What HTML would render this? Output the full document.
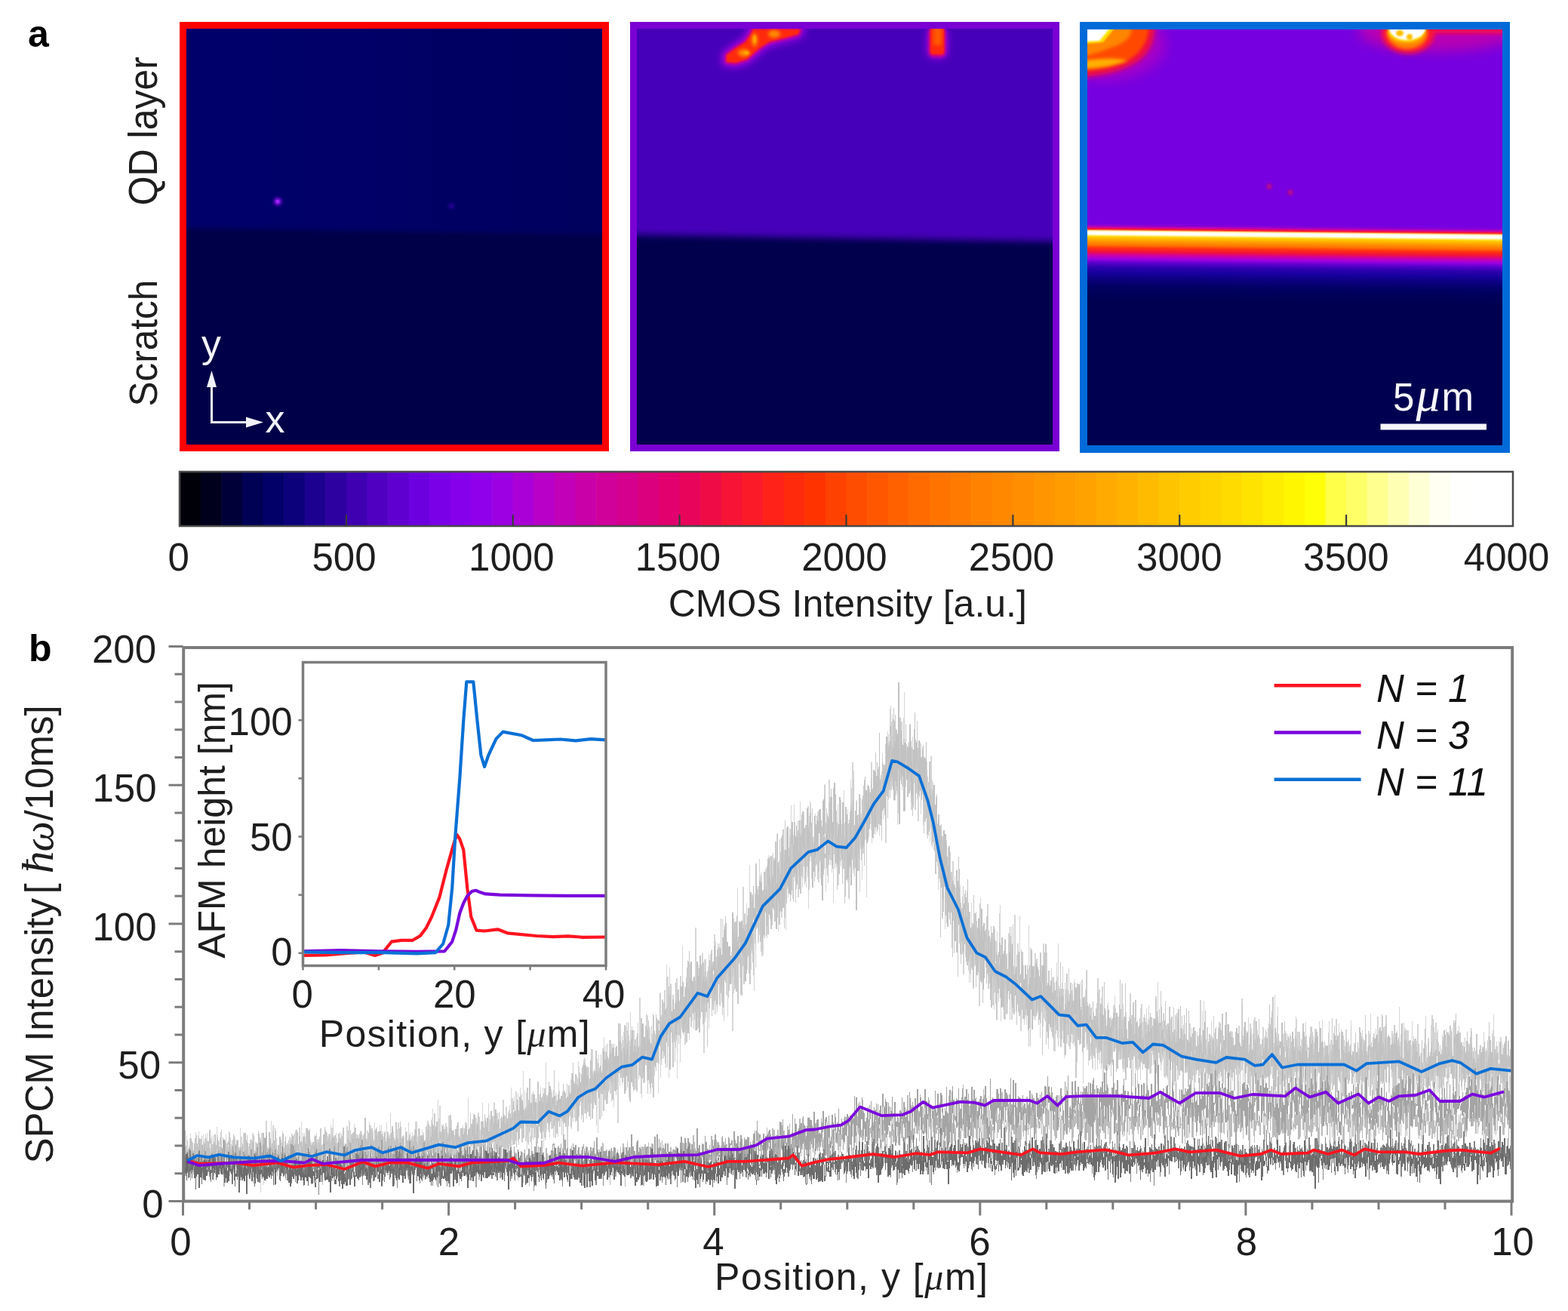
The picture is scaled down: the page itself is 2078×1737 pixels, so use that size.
<!DOCTYPE html>
<html><head><meta charset="utf-8"><title>Figure</title>
<style>html,body{margin:0;padding:0;background:#fff;overflow:hidden;} svg{display:block;}</style>
</head><body>
<svg width="2078" height="1737" viewBox="0 0 2078 1737" font-family="Liberation Sans, Arial, Helvetica, sans-serif">
<rect width="2078" height="1737" fill="#fff"/>
<defs><filter id="b1" x="-50%" y="-50%" width="200%" height="200%"><feGaussianBlur stdDeviation="1.2"/></filter><filter id="b2" x="-50%" y="-50%" width="200%" height="200%"><feGaussianBlur stdDeviation="2"/></filter><filter id="b3" x="-50%" y="-50%" width="200%" height="200%"><feGaussianBlur stdDeviation="3"/></filter><filter id="b5" x="-50%" y="-50%" width="200%" height="200%"><feGaussianBlur stdDeviation="5"/></filter><filter id="b8" x="-50%" y="-50%" width="200%" height="200%"><feGaussianBlur stdDeviation="8"/></filter><filter id="nb" x="0" y="0" width="1" height="1"><feGaussianBlur stdDeviation="0.5"/></filter></defs>
<text x="37" y="62" font-size="50" font-weight="bold" fill="#000">a</text>
<text transform="translate(207.5,272.3) rotate(-90) scale(1,1.07)" font-size="50" fill="#1e1e1e">QD layer</text>
<text transform="translate(207.5,538.5) rotate(-90) scale(1,1.06)" font-size="49.5" fill="#1e1e1e">Scratch</text>
<clipPath id="c247"><rect x="247" y="38" width="551" height="551"/></clipPath>
<g clip-path="url(#c247)">
<rect x="247" y="38" width="551" height="551" fill="#000048"/>
<linearGradient id="rtop" x1="0" y1="0" x2="1" y2="0"><stop offset="0" stop-color="#00006c"/><stop offset="0.5" stop-color="#000066"/><stop offset="1" stop-color="#00005e"/></linearGradient>
<polygon points="237,28 808,28 808,311 237,302" fill="url(#rtop)" filter="url(#b3)"/>
<circle cx="368" cy="267" r="5" fill="#8a10e8" filter="url(#b2)"/>
<circle cx="368" cy="267" r="2.5" fill="#a020ff"/>
<circle cx="598" cy="273" r="3" fill="#3a00b0" filter="url(#b2)"/>
</g>
<rect x="242.5" y="33.5" width="560" height="560" fill="none" stroke="#ff0000" stroke-width="9"/>
<clipPath id="c844"><rect x="844" y="38" width="551" height="551"/></clipPath>
<g clip-path="url(#c844)">
<rect x="844" y="38" width="551" height="551" fill="#00004c"/>
<polygon points="834,28 1405,28 1405,320 834,311" fill="#4600b9" filter="url(#b5)"/>
<polygon points="998,39 1060,39 1058,45 1040,50 1020,55 1010,61 1000,69 990,78 975,83 963,82 963,73 975,64 988,56 995,46" fill="#9800e0" stroke="#9800e0" stroke-width="14" stroke-linejoin="round" filter="url(#b5)"/>
<polygon points="998,39 1060,39 1058,45 1040,50 1020,55 1010,61 1000,69 990,78 975,83 963,82 963,73 975,64 988,56 995,46" fill="#e8006a" stroke="#e8006a" stroke-width="4" stroke-linejoin="round" filter="url(#b2)"/>
<polygon points="998,39 1060,39 1058,45 1040,50 1020,55 1010,61 1000,69 990,78 975,83 963,82 963,73 975,64 988,56 995,46" fill="#ff2a10" filter="url(#b1)"/>
<g filter="url(#b2)" fill="#ff8a00">
<ellipse cx="1000" cy="53" rx="4" ry="9"/><ellipse cx="986" cy="70" rx="8" ry="5"/><ellipse cx="1026" cy="45" rx="8" ry="5"/>
</g>
<g filter="url(#b1)" fill="#ffa800"><ellipse cx="1000" cy="52" rx="2" ry="5"/><ellipse cx="989" cy="70" rx="3.5" ry="2.5"/></g>
<rect x="1228" y="36" width="28" height="42" rx="10" fill="#9800e0" filter="url(#b5)"/>
<rect x="1231" y="36" width="22" height="39" rx="6" fill="#e8006a" filter="url(#b2)"/>
<rect x="1233" y="36" width="18" height="36" rx="4" fill="#ff2a10" filter="url(#b1)"/>
<rect x="1237" y="36" width="11" height="24" rx="3" fill="#ff5a00" filter="url(#b2)"/>
</g>
<rect x="839.5" y="33.5" width="560" height="560" fill="none" stroke="#7a00d4" stroke-width="9"/>
<clipPath id="c1441"><rect x="1441" y="39" width="550" height="551"/></clipPath>
<g clip-path="url(#c1441)">
<linearGradient id="band" gradientUnits="userSpaceOnUse" x1="0" y1="295.5" x2="0" y2="398.5"><stop offset="0.0000" stop-color="#7600e0"/><stop offset="0.0291" stop-color="#9000d0"/><stop offset="0.0534" stop-color="#d000a0"/><stop offset="0.0777" stop-color="#ff2020"/><stop offset="0.0971" stop-color="#ffe890"/><stop offset="0.1117" stop-color="#ffffff"/><stop offset="0.1408" stop-color="#ffffff"/><stop offset="0.1553" stop-color="#fff080"/><stop offset="0.1748" stop-color="#ffd000"/><stop offset="0.2233" stop-color="#ffa000"/><stop offset="0.2816" stop-color="#ff7000"/><stop offset="0.3204" stop-color="#ff3010"/><stop offset="0.3689" stop-color="#f01040"/><stop offset="0.4078" stop-color="#d000a0"/><stop offset="0.4563" stop-color="#a000e0"/><stop offset="0.5049" stop-color="#6000d0"/><stop offset="0.5631" stop-color="#3000b0"/><stop offset="0.6311" stop-color="#1800a0"/><stop offset="0.7087" stop-color="#0c0080"/><stop offset="0.8252" stop-color="#000060"/><stop offset="1.0000" stop-color="#000050"/></linearGradient>
<rect x="1441" y="39" width="550" height="551" fill="#000050"/>
<g transform="translate(1441,0) skewY(0.6) translate(-1441,0)">
<rect x="1431" y="19" width="570" height="277.5" fill="#7600e0"/>
<rect x="1431" y="295.5" width="570" height="103.0" fill="url(#band)"/>
</g>
<ellipse cx="1465" cy="58" rx="80" ry="48" fill="#b800c0" filter="url(#b8)" opacity="0.7"/>
<path d="M1436,34 L1530,34 C1532,55 1522,75 1500,86 C1480,96 1460,100 1436,102 Z" fill="#f01040" filter="url(#b3)"/>
<path d="M1436,36 L1522,36 C1522,52 1515,66 1498,78 C1480,88 1460,92 1436,94 Z" fill="#ff4a00" filter="url(#b2)"/>
<path d="M1436,36 L1500,36 C1500,50 1490,58 1470,64 C1460,68 1450,72 1436,74 Z" fill="#ff8400" filter="url(#b2)"/>
<path d="M1436,80 C1455,78 1475,76 1495,80 C1480,86 1460,90 1436,91 Z" fill="#ffb000" filter="url(#b2)"/>
<path d="M1436,36 L1478,36 L1462,56 L1436,58 Z" fill="#ffe000" filter="url(#b1)"/>
<path d="M1436,36 L1472,36 L1457,54 L1436,55 Z" fill="#ffffff" filter="url(#b1)"/>
<ellipse cx="1905" cy="42" rx="105" ry="26" fill="#c800a8" filter="url(#b8)" opacity="0.8"/>
<rect x="1890" y="36" width="105" height="8" fill="#ff1040" filter="url(#b3)"/>
<ellipse cx="1866" cy="44" rx="35" ry="27" fill="#ff1830" filter="url(#b3)"/>
<ellipse cx="1865" cy="44" rx="27" ry="21" fill="#ff8000" filter="url(#b2)"/>
<ellipse cx="1864" cy="42" rx="24" ry="14" fill="#ffe000" filter="url(#b2)"/>
<path d="M1840,36 L1890,36 C1888,46 1880,52 1866,53 C1850,53 1842,46 1840,36 Z" fill="#ffffff" filter="url(#b1)"/>
<ellipse cx="1855" cy="44" rx="5" ry="4" fill="#ffc000" filter="url(#b1)"/><ellipse cx="1868" cy="49" rx="4" ry="4" fill="#ffc000" filter="url(#b1)"/>
<circle cx="1682" cy="247" r="3" fill="#e0105a" filter="url(#b2)"/>
<circle cx="1710" cy="255" r="3" fill="#e0105a" filter="url(#b2)"/>
<rect x="1829.5" y="561.5" width="140.5" height="8" fill="#f6f6fc"/>
<text x="1846.0" y="543.5" font-size="51" fill="#f6f6fc" >5<tspan font-family="Liberation Serif, Times New Roman, serif" font-style="italic" font-size="64" dx="2">μ</tspan><tspan dx="2">m</tspan></text>
</g>
<rect x="1436.0" y="34.0" width="560" height="561" fill="none" stroke="#006ad8" stroke-width="10"/>
<g stroke="#f2f2fa" stroke-width="3" fill="none"><polyline points="280.5,510 280.5,559.5 328,559.5"/></g>
<polygon points="280.5,491 274,513 287,513" fill="#f2f2fa"/>
<polygon points="349,559.5 326,552.5 326,566.5" fill="#f2f2fa"/>
<text x="267.0" y="473.0" font-size="52" fill="#f2f2fa" >y</text>
<text x="351.5" y="573.0" font-size="52" fill="#f2f2fa" >x</text>
<rect x="238.00" y="625" width="28.21" height="72" fill="#000008"/>
<rect x="265.61" y="625" width="28.21" height="72" fill="#00001c"/>
<rect x="293.22" y="625" width="28.21" height="72" fill="#000038"/>
<rect x="320.83" y="625" width="28.21" height="72" fill="#000054"/>
<rect x="348.44" y="625" width="28.21" height="72" fill="#020068"/>
<rect x="376.05" y="625" width="28.21" height="72" fill="#0c007b"/>
<rect x="403.66" y="625" width="28.21" height="72" fill="#1c008f"/>
<rect x="431.27" y="625" width="28.21" height="72" fill="#2d00a0"/>
<rect x="458.88" y="625" width="28.21" height="72" fill="#3e00b0"/>
<rect x="486.48" y="625" width="28.21" height="72" fill="#4f00c0"/>
<rect x="514.09" y="625" width="28.21" height="72" fill="#5f00d0"/>
<rect x="541.70" y="625" width="28.21" height="72" fill="#6c00df"/>
<rect x="569.31" y="625" width="28.21" height="72" fill="#7a00e8"/>
<rect x="596.92" y="625" width="28.21" height="72" fill="#8600eb"/>
<rect x="624.53" y="625" width="28.21" height="72" fill="#9100ea"/>
<rect x="652.14" y="625" width="28.21" height="72" fill="#9c00e3"/>
<rect x="679.75" y="625" width="28.21" height="72" fill="#aa00d7"/>
<rect x="707.36" y="625" width="28.21" height="72" fill="#b800c8"/>
<rect x="734.97" y="625" width="28.21" height="72" fill="#c200b8"/>
<rect x="762.58" y="625" width="28.21" height="72" fill="#c900a8"/>
<rect x="790.19" y="625" width="28.21" height="72" fill="#d0009a"/>
<rect x="817.80" y="625" width="28.21" height="72" fill="#d5008d"/>
<rect x="845.41" y="625" width="28.21" height="72" fill="#db007e"/>
<rect x="873.02" y="625" width="28.21" height="72" fill="#e2006e"/>
<rect x="900.62" y="625" width="28.21" height="72" fill="#e8045a"/>
<rect x="928.23" y="625" width="28.21" height="72" fill="#ef0b46"/>
<rect x="955.84" y="625" width="28.21" height="72" fill="#f61336"/>
<rect x="983.45" y="625" width="28.21" height="72" fill="#fb1a28"/>
<rect x="1011.06" y="625" width="28.21" height="72" fill="#fe2218"/>
<rect x="1038.67" y="625" width="28.21" height="72" fill="#ff2a0b"/>
<rect x="1066.28" y="625" width="28.21" height="72" fill="#ff3300"/>
<rect x="1093.89" y="625" width="28.21" height="72" fill="#ff4100"/>
<rect x="1121.50" y="625" width="28.21" height="72" fill="#ff4d00"/>
<rect x="1149.11" y="625" width="28.21" height="72" fill="#ff5700"/>
<rect x="1176.72" y="625" width="28.21" height="72" fill="#ff6100"/>
<rect x="1204.33" y="625" width="28.21" height="72" fill="#ff6b00"/>
<rect x="1231.94" y="625" width="28.21" height="72" fill="#ff7400"/>
<rect x="1259.55" y="625" width="28.21" height="72" fill="#ff7a00"/>
<rect x="1287.16" y="625" width="28.21" height="72" fill="#ff8200"/>
<rect x="1314.77" y="625" width="28.21" height="72" fill="#ff8800"/>
<rect x="1342.38" y="625" width="28.21" height="72" fill="#ff8f00"/>
<rect x="1369.98" y="625" width="28.21" height="72" fill="#ff9500"/>
<rect x="1397.59" y="625" width="28.21" height="72" fill="#ff9c00"/>
<rect x="1425.20" y="625" width="28.21" height="72" fill="#ffa200"/>
<rect x="1452.81" y="625" width="28.21" height="72" fill="#ffaa00"/>
<rect x="1480.42" y="625" width="28.21" height="72" fill="#ffb300"/>
<rect x="1508.03" y="625" width="28.21" height="72" fill="#ffbb00"/>
<rect x="1535.64" y="625" width="28.21" height="72" fill="#ffc400"/>
<rect x="1563.25" y="625" width="28.21" height="72" fill="#ffcc00"/>
<rect x="1590.86" y="625" width="28.21" height="72" fill="#ffd300"/>
<rect x="1618.47" y="625" width="28.21" height="72" fill="#ffdb00"/>
<rect x="1646.08" y="625" width="28.21" height="72" fill="#ffe300"/>
<rect x="1673.69" y="625" width="28.21" height="72" fill="#ffed00"/>
<rect x="1701.30" y="625" width="28.21" height="72" fill="#fff600"/>
<rect x="1728.91" y="625" width="28.21" height="72" fill="#ffff08"/>
<rect x="1756.52" y="625" width="28.21" height="72" fill="#ffff49"/>
<rect x="1784.12" y="625" width="28.21" height="72" fill="#ffff68"/>
<rect x="1811.73" y="625" width="28.21" height="72" fill="#ffff90"/>
<rect x="1839.34" y="625" width="28.21" height="72" fill="#ffffb3"/>
<rect x="1866.95" y="625" width="28.21" height="72" fill="#ffffd5"/>
<rect x="1894.56" y="625" width="28.21" height="72" fill="#fffff2"/>
<rect x="1922.17" y="625" width="28.21" height="72" fill="#fffffe"/>
<rect x="1949.78" y="625" width="28.21" height="72" fill="#ffffff"/>
<rect x="1977.39" y="625" width="28.21" height="72" fill="#ffffff"/>
<rect x="238" y="625" width="1767" height="72" fill="none" stroke="#4a4a4a" stroke-width="2.5"/>
<line x1="458.9" y1="697" x2="458.9" y2="682" stroke="#3a3a3a" stroke-width="2.2"/>
<line x1="679.8" y1="697" x2="679.8" y2="682" stroke="#3a3a3a" stroke-width="2.2"/>
<line x1="900.6" y1="697" x2="900.6" y2="682" stroke="#3a3a3a" stroke-width="2.2"/>
<line x1="1121.5" y1="697" x2="1121.5" y2="682" stroke="#3a3a3a" stroke-width="2.2"/>
<line x1="1342.4" y1="697" x2="1342.4" y2="682" stroke="#3a3a3a" stroke-width="2.2"/>
<line x1="1563.2" y1="697" x2="1563.2" y2="682" stroke="#3a3a3a" stroke-width="2.2"/>
<line x1="1784.1" y1="697" x2="1784.1" y2="682" stroke="#3a3a3a" stroke-width="2.2"/>
<text x="236.8" y="756.0" font-size="51" fill="#1e1e1e" text-anchor="middle" >0</text>
<text x="456.0" y="756.0" font-size="51" fill="#1e1e1e" text-anchor="middle" >500</text>
<text x="677.8" y="756.0" font-size="51" fill="#1e1e1e" text-anchor="middle" >1000</text>
<text x="898.4" y="756.0" font-size="51" fill="#1e1e1e" text-anchor="middle" >1500</text>
<text x="1118.9" y="756.0" font-size="51" fill="#1e1e1e" text-anchor="middle" >2000</text>
<text x="1340.5" y="756.0" font-size="51" fill="#1e1e1e" text-anchor="middle" >2500</text>
<text x="1562.8" y="756.0" font-size="51" fill="#1e1e1e" text-anchor="middle" >3000</text>
<text x="1783.8" y="756.0" font-size="51" fill="#1e1e1e" text-anchor="middle" >3500</text>
<text x="1996.6" y="756.0" font-size="51" fill="#1e1e1e" text-anchor="middle" >4000</text>
<text x="1123.3" y="817.0" font-size="50" fill="#1e1e1e" text-anchor="middle" >CMOS Intensity [a.u.]</text>
<text x="38" y="876" font-size="50" font-weight="bold" fill="#000">b</text>
<g filter="url(#nb)">
<path d="M244.5 1531V1550M245.5 1524V1548M246.5 1524V1542M247.5 1505V1553M248.5 1526V1541M249.5 1526V1543M250.5 1518V1540M251.5 1508V1536M252.5 1502V1523M253.5 1508V1530M254.5 1518V1542M255.5 1518V1538M256.5 1524V1543M257.5 1515V1532M258.5 1508V1543M259.5 1500V1528M260.5 1515V1546M261.5 1531V1546M262.5 1505V1539M263.5 1499V1534M264.5 1519V1537M265.5 1513V1531M266.5 1513V1535M267.5 1518V1542M268.5 1524V1545M269.5 1503V1553M270.5 1512V1539M271.5 1508V1545M272.5 1503V1546M273.5 1508V1549M274.5 1501V1557M275.5 1519V1550M276.5 1516V1533M277.5 1516V1533M278.5 1524V1533M279.5 1508V1544M280.5 1505V1546M281.5 1527V1557M282.5 1504V1545M283.5 1513V1564M284.5 1513V1534M285.5 1520V1541M286.5 1519V1541M287.5 1493V1529M288.5 1503V1536M289.5 1532V1544M290.5 1513V1539M291.5 1507V1517M292.5 1507V1528M293.5 1496V1528M294.5 1523V1541M295.5 1514V1555M296.5 1536V1557M297.5 1513V1557M298.5 1528V1534M299.5 1503V1528M300.5 1515V1528M301.5 1519V1538M302.5 1519V1531M303.5 1519V1532M304.5 1507V1535M305.5 1507V1540M306.5 1516V1531M307.5 1511V1531M308.5 1510V1546M309.5 1505V1554M310.5 1505V1554M311.5 1506V1542M312.5 1531V1542M313.5 1526V1541M314.5 1514V1539M315.5 1512V1539M316.5 1520V1552M317.5 1520V1538M318.5 1494V1531M319.5 1506V1531M320.5 1506V1540M321.5 1528V1552M322.5 1500V1544M323.5 1522V1535M324.5 1507V1536M325.5 1507V1525M326.5 1522V1553M327.5 1522V1542M328.5 1523V1543M329.5 1519V1558M330.5 1519V1547M331.5 1510V1551M332.5 1510V1536M333.5 1511V1546M334.5 1501V1537M335.5 1501V1538M336.5 1529V1538M337.5 1525V1545M338.5 1513V1536M339.5 1513V1550M340.5 1521V1533M341.5 1518V1532M342.5 1505V1547M343.5 1504V1524M344.5 1511V1533M345.5 1509V1580M346.5 1501V1532M347.5 1501V1534M348.5 1516V1551M349.5 1513V1570M350.5 1513V1539M351.5 1515V1539M352.5 1485V1565M353.5 1485V1535M354.5 1523V1555M355.5 1525V1540M356.5 1525V1545M357.5 1520V1544M358.5 1514V1528M359.5 1485V1541M360.5 1524V1542M361.5 1491V1542M362.5 1491V1551M363.5 1511V1555M364.5 1497V1537M365.5 1527V1543M366.5 1508V1536M367.5 1523V1537M368.5 1528V1541M369.5 1523V1541M370.5 1523V1556M371.5 1521V1545M372.5 1521V1541M373.5 1514V1541M374.5 1498V1554M375.5 1523V1537M376.5 1524V1553M377.5 1519V1536M378.5 1518V1537M379.5 1518V1540M380.5 1521V1550M381.5 1537V1550M382.5 1522V1537M383.5 1506V1541M384.5 1506V1529M385.5 1508V1529M386.5 1501V1537M387.5 1503V1558M388.5 1515V1553M389.5 1503V1544M390.5 1501V1532M391.5 1498V1538M392.5 1498V1539M393.5 1512V1543M394.5 1512V1530M395.5 1518V1549M396.5 1494V1532M397.5 1494V1559M398.5 1520V1559M399.5 1486V1548M400.5 1513V1548M401.5 1501V1544M402.5 1523V1544M403.5 1501V1540M404.5 1506V1540M405.5 1494V1523M406.5 1507V1541M407.5 1514V1541M408.5 1516V1543M409.5 1507V1543M410.5 1521V1543M411.5 1510V1529M412.5 1513V1531M413.5 1515V1537M414.5 1521V1541M415.5 1524V1537M416.5 1506V1546M417.5 1504V1534M418.5 1534V1543M419.5 1501V1537M420.5 1510V1541M421.5 1509V1531M422.5 1509V1531M423.5 1528V1539M424.5 1502V1539M425.5 1502V1538M426.5 1523V1539M427.5 1516V1538M428.5 1516V1542M429.5 1512V1530M430.5 1523V1530M431.5 1496V1529M432.5 1499V1523M433.5 1501V1518M434.5 1505V1547M435.5 1503V1540M436.5 1503V1533M437.5 1503V1541M438.5 1490V1545M439.5 1494V1545M440.5 1494V1529M441.5 1482V1529M442.5 1513V1557M443.5 1517V1535M444.5 1504V1547M445.5 1501V1547M446.5 1508V1552M447.5 1520V1549M448.5 1527V1546M449.5 1502V1546M450.5 1500V1540M451.5 1507V1526M452.5 1505V1548M453.5 1508V1542M454.5 1503V1542M455.5 1517V1532M456.5 1517V1531M457.5 1514V1531M458.5 1516V1558M459.5 1492V1545M460.5 1492V1521M461.5 1521V1559M462.5 1484V1541M463.5 1486V1537M464.5 1497V1538M465.5 1503V1543M466.5 1503V1533M467.5 1501V1533M468.5 1505V1523M469.5 1489V1523M470.5 1498V1545M471.5 1500V1545M472.5 1503V1544M473.5 1503V1518M474.5 1512V1542M475.5 1516V1530M476.5 1511V1531M477.5 1514V1555M478.5 1499V1549M479.5 1499V1527M480.5 1504V1521M481.5 1504V1535M482.5 1504V1548M483.5 1507V1548M484.5 1493V1537M485.5 1517V1531M486.5 1498V1538M487.5 1498V1538M488.5 1506V1545M489.5 1486V1531M490.5 1491V1512M491.5 1491V1528M492.5 1502V1526M493.5 1499V1526M494.5 1499V1531M495.5 1510V1519M496.5 1487V1542M497.5 1504V1542M498.5 1508V1538M499.5 1493V1537M500.5 1500V1540M501.5 1500V1527M502.5 1503V1530M503.5 1491V1503M504.5 1498V1525M505.5 1490V1559M506.5 1502V1540M507.5 1499V1539M508.5 1506V1538M509.5 1499V1539M510.5 1499V1554M511.5 1518V1554M512.5 1487V1530M513.5 1499V1524M514.5 1508V1530M515.5 1504V1530M516.5 1504V1537M517.5 1475V1552M518.5 1515V1552M519.5 1510V1532M520.5 1507V1521M521.5 1499V1532M522.5 1525V1532M523.5 1521V1558M524.5 1517V1547M525.5 1520V1543M526.5 1496V1521M527.5 1488V1533M528.5 1487V1513M529.5 1499V1532M530.5 1491V1532M531.5 1518V1538M532.5 1514V1533M533.5 1505V1533M534.5 1512V1550M535.5 1506V1550M536.5 1521V1527M537.5 1494V1533M538.5 1499V1522M539.5 1499V1541M540.5 1524V1541M541.5 1487V1541M542.5 1513V1553M543.5 1500V1559M544.5 1527V1558M545.5 1514V1558M546.5 1500V1529M547.5 1505V1527M548.5 1505V1541M549.5 1496V1534M550.5 1486V1521M551.5 1486V1530M552.5 1486V1530M553.5 1506V1516M554.5 1507V1534M555.5 1504V1531M556.5 1496V1532M557.5 1510V1540M558.5 1529V1537M559.5 1497V1533M560.5 1505V1533M561.5 1523V1540M562.5 1514V1531M563.5 1514V1538M564.5 1504V1536M565.5 1491V1525M566.5 1485V1515M567.5 1485V1550M568.5 1513V1533M569.5 1492V1523M570.5 1492V1522M571.5 1484V1526M572.5 1481V1526M573.5 1469V1508M574.5 1503V1519M575.5 1493V1515M576.5 1511V1549M577.5 1496V1549M578.5 1496V1521M579.5 1509V1521M580.5 1457V1549M581.5 1482V1549M582.5 1465V1533M583.5 1465V1525M584.5 1509V1551M585.5 1489V1551M586.5 1510V1535M587.5 1492V1535M588.5 1505V1538M589.5 1493V1508M590.5 1488V1522M591.5 1488V1515M592.5 1509V1522M593.5 1501V1522M594.5 1478V1519M595.5 1478V1528M596.5 1510V1528M597.5 1484V1517M598.5 1484V1543M599.5 1508V1524M600.5 1519V1534M601.5 1497V1561M602.5 1505V1519M603.5 1503V1538M604.5 1503V1546M605.5 1508V1546M606.5 1491V1517M607.5 1491V1513M608.5 1505V1540M609.5 1495V1527M610.5 1495V1516M611.5 1506V1527M612.5 1495V1516M613.5 1491V1514M614.5 1495V1522M615.5 1495V1518M616.5 1487V1523M617.5 1487V1533M618.5 1491V1516M619.5 1503V1526M620.5 1455V1514M621.5 1514V1550M622.5 1524V1550M623.5 1484V1524M624.5 1499V1518M625.5 1500V1515M626.5 1500V1517M627.5 1475V1517M628.5 1479V1516M629.5 1505V1534M630.5 1481V1534M631.5 1481V1510M632.5 1487V1519M633.5 1474V1505M634.5 1474V1529M635.5 1492V1536M636.5 1497V1540M637.5 1514V1530M638.5 1485V1536M639.5 1461V1519M640.5 1500V1519M641.5 1495V1513M642.5 1476V1518M643.5 1481V1503M644.5 1486V1502M645.5 1486V1547M646.5 1486V1498M647.5 1462V1509M648.5 1477V1509M649.5 1483V1512M650.5 1490V1518M651.5 1494V1518M652.5 1479V1514M653.5 1482V1512M654.5 1461V1516M655.5 1461V1537M656.5 1490V1532M657.5 1480V1515M658.5 1475V1512M659.5 1475V1503M660.5 1498V1512M661.5 1473V1509M662.5 1496V1533M663.5 1496V1523M664.5 1482V1522M665.5 1481V1506M666.5 1457V1493M667.5 1457V1501M668.5 1487V1507M669.5 1479V1509M670.5 1466V1494M671.5 1466V1532M672.5 1485V1532M673.5 1474V1527M674.5 1477V1491M675.5 1464V1511M676.5 1481V1521M677.5 1441V1488M678.5 1455V1511M679.5 1455V1508M680.5 1483V1508M681.5 1453V1509M682.5 1481V1507M683.5 1446V1483M684.5 1446V1488M685.5 1464V1498M686.5 1449V1498M687.5 1474V1498M688.5 1472V1479M689.5 1441V1496M690.5 1451V1485M691.5 1449V1504M692.5 1465V1505M693.5 1419V1506M694.5 1470V1506M695.5 1445V1486M696.5 1467V1512M697.5 1448V1511M698.5 1448V1524M699.5 1457V1514M700.5 1457V1501M701.5 1457V1500M702.5 1475V1513M703.5 1505V1513M704.5 1449V1505M705.5 1450V1487M706.5 1450V1480M707.5 1458V1494M708.5 1475V1507M709.5 1460V1507M710.5 1460V1487M711.5 1461V1484M712.5 1472V1501M713.5 1457V1499M714.5 1450V1489M715.5 1450V1499M716.5 1440V1467M717.5 1454V1506M718.5 1468V1506M719.5 1441V1499M720.5 1486V1521M721.5 1451V1507M722.5 1451V1507M723.5 1408V1507M724.5 1451V1499M725.5 1460V1482M726.5 1448V1497M727.5 1456V1482M728.5 1456V1507M729.5 1443V1475M730.5 1443V1496M731.5 1446V1496M732.5 1476V1490M733.5 1444V1494M734.5 1437V1486M735.5 1454V1507M736.5 1447V1507M737.5 1451V1485M738.5 1475V1483M739.5 1471V1506M740.5 1434V1476M741.5 1445V1477M742.5 1462V1493M743.5 1460V1474M744.5 1460V1480M745.5 1471V1486M746.5 1469V1506M747.5 1460V1486M748.5 1452V1469M749.5 1456V1493M750.5 1465V1491M751.5 1454V1522M752.5 1471V1522M753.5 1440V1483M754.5 1446V1480M755.5 1454V1458M756.5 1430V1459M757.5 1422V1459M758.5 1435V1463M759.5 1434V1455M760.5 1440V1466M761.5 1445V1462M762.5 1443V1487M763.5 1425V1461M764.5 1425V1465M765.5 1428V1451M766.5 1406V1454M767.5 1413V1462M768.5 1435V1462M769.5 1436V1457M770.5 1436V1478M771.5 1414V1458M772.5 1414V1487M773.5 1404V1487M774.5 1401V1475M775.5 1403V1475M776.5 1413V1429M777.5 1425V1482M778.5 1431V1455M779.5 1414V1473M780.5 1414V1478M781.5 1430V1478M782.5 1452V1468M783.5 1443V1462M784.5 1390V1474M785.5 1390V1470M786.5 1421V1461M787.5 1422V1461M788.5 1433V1461M789.5 1408V1461M790.5 1396V1450M791.5 1429V1447M792.5 1408V1501M793.5 1397V1421M794.5 1421V1466M795.5 1417V1472M796.5 1398V1446M797.5 1419V1441M798.5 1389V1433M799.5 1389V1448M800.5 1374V1431M801.5 1393V1457M802.5 1386V1413M803.5 1405V1419M804.5 1405V1428M805.5 1416V1462M806.5 1402V1444M807.5 1378V1444M808.5 1388V1449M809.5 1378V1449M810.5 1383V1460M811.5 1383V1447M812.5 1406V1440M813.5 1410V1467M814.5 1404V1445M815.5 1388V1427M816.5 1388V1433M817.5 1397V1412M818.5 1402V1488M819.5 1379V1488M820.5 1385V1415M821.5 1356V1439M822.5 1356V1418M823.5 1382V1419M824.5 1372V1437M825.5 1378V1422M826.5 1367V1426M827.5 1367V1445M828.5 1360V1445M829.5 1360V1414M830.5 1354V1414M831.5 1365V1438M832.5 1382V1427M833.5 1372V1454M834.5 1379V1454M835.5 1341V1458M836.5 1365V1419M837.5 1388V1421M838.5 1386V1418M839.5 1365V1418M840.5 1365V1443M841.5 1382V1443M842.5 1377V1443M843.5 1374V1402M844.5 1374V1430M845.5 1355V1397M846.5 1386V1425M847.5 1322V1425M848.5 1322V1391M849.5 1391V1431M850.5 1362V1455M851.5 1357V1401M852.5 1357V1435M853.5 1416V1435M854.5 1382V1427M855.5 1361V1392M856.5 1344V1412M857.5 1344V1432M858.5 1346V1395M859.5 1360V1397M860.5 1360V1406M861.5 1362V1424M862.5 1390V1413M863.5 1370V1422M864.5 1370V1418M865.5 1376V1429M866.5 1396V1429M867.5 1380V1425M868.5 1370V1414M869.5 1370V1393M870.5 1348V1393M871.5 1362V1391M872.5 1373V1448M873.5 1373V1410M874.5 1321V1382M875.5 1315V1428M876.5 1358V1411M877.5 1358V1397M878.5 1351V1393M879.5 1347V1358M880.5 1312V1399M881.5 1312V1407M882.5 1336V1396M883.5 1278V1359M884.5 1294V1372M885.5 1294V1387M886.5 1307V1428M887.5 1282V1382M888.5 1303V1382M889.5 1337V1365M890.5 1352V1381M891.5 1318V1408M892.5 1318V1404M893.5 1339V1381M894.5 1329V1375M895.5 1359V1388M896.5 1296V1379M897.5 1296V1429M898.5 1348V1371M899.5 1332V1371M900.5 1333V1349M901.5 1293V1407M902.5 1293V1376M903.5 1316V1364M904.5 1253V1348M905.5 1317V1370M906.5 1329V1350M907.5 1307V1384M908.5 1308V1384M909.5 1313V1364M910.5 1319V1376M911.5 1288V1357M912.5 1295V1347M913.5 1283V1378M914.5 1277V1327M915.5 1325V1361M916.5 1331V1361M917.5 1311V1353M918.5 1296V1340M919.5 1296V1322M920.5 1302V1351M921.5 1229V1366M922.5 1229V1314M923.5 1314V1332M924.5 1285V1364M925.5 1278V1324M926.5 1297V1324M927.5 1287V1349M928.5 1279V1349M929.5 1300V1321M930.5 1263V1314M931.5 1263V1335M932.5 1306V1395M933.5 1271V1395M934.5 1271V1354M935.5 1271V1348M936.5 1294V1341M937.5 1301V1329M938.5 1280V1323M939.5 1264V1363M940.5 1279V1336M941.5 1264V1323M942.5 1259V1323M943.5 1259V1333M944.5 1274V1338M945.5 1291V1338M946.5 1238V1343M947.5 1238V1302M948.5 1247V1309M949.5 1267V1325M950.5 1296V1341M951.5 1269V1330M952.5 1269V1303M953.5 1292V1332M954.5 1274V1292M955.5 1270V1311M956.5 1268V1288M957.5 1217V1294M958.5 1272V1294M959.5 1225V1353M960.5 1227V1299M961.5 1269V1299M962.5 1253V1318M963.5 1253V1319M964.5 1273V1347M965.5 1265V1285M966.5 1256V1284M967.5 1268V1292M968.5 1281V1297M969.5 1261V1303M970.5 1212V1366M971.5 1214V1366M972.5 1216V1316M973.5 1223V1312M974.5 1223V1286M975.5 1264V1279M976.5 1213V1305M977.5 1177V1305M978.5 1241V1252M979.5 1224V1256M980.5 1224V1295M981.5 1232V1295M982.5 1224V1279M983.5 1221V1294M984.5 1175V1254M985.5 1175V1268M986.5 1210V1268M987.5 1210V1280M988.5 1224V1272M989.5 1197V1285M990.5 1213V1285M991.5 1224V1251M992.5 1223V1277M993.5 1146V1224M994.5 1204V1248M995.5 1248V1285M996.5 1185V1263M997.5 1185V1246M998.5 1203V1219M999.5 1203V1313M1000.5 1207V1250M1001.5 1205V1282M1002.5 1210V1231M1003.5 1174V1229M1004.5 1178V1250M1005.5 1189V1248M1006.5 1138V1239M1007.5 1161V1238M1008.5 1156V1238M1009.5 1159V1267M1010.5 1181V1267M1011.5 1180V1265M1012.5 1158V1232M1013.5 1158V1234M1014.5 1151V1179M1015.5 1151V1211M1016.5 1151V1243M1017.5 1172V1202M1018.5 1133V1202M1019.5 1146V1212M1020.5 1134V1217M1021.5 1134V1224M1022.5 1178V1217M1023.5 1133V1217M1024.5 1130V1187M1025.5 1137V1194M1026.5 1137V1152M1027.5 1152V1218M1028.5 1148V1224M1029.5 1105V1224M1030.5 1105V1180M1031.5 1157V1234M1032.5 1140V1182M1033.5 1153V1183M1034.5 1129V1201M1035.5 1129V1216M1036.5 1142V1216M1037.5 1142V1177M1038.5 1146V1180M1039.5 1126V1188M1040.5 1147V1216M1041.5 1138V1232M1042.5 1142V1176M1043.5 1128V1178M1044.5 1123V1189M1045.5 1123V1180M1046.5 1098V1173M1047.5 1098V1157M1048.5 1067V1166M1049.5 1111V1179M1050.5 1106V1191M1051.5 1106V1141M1052.5 1066V1158M1053.5 1108V1168M1054.5 1128V1173M1055.5 1128V1173M1056.5 1088V1162M1057.5 1120V1189M1058.5 1140V1189M1059.5 1107V1147M1060.5 1062V1155M1061.5 1087V1155M1062.5 1087V1154M1063.5 1114V1176M1064.5 1076V1164M1065.5 1076V1145M1066.5 1104V1131M1067.5 1130V1168M1068.5 1147V1176M1069.5 1091V1148M1070.5 1068V1149M1071.5 1068V1204M1072.5 1081V1152M1073.5 1061V1106M1074.5 1064V1131M1075.5 1112V1164M1076.5 1108V1121M1077.5 1108V1161M1078.5 1109V1137M1079.5 1109V1162M1080.5 1078V1162M1081.5 1107V1145M1082.5 1118V1145M1083.5 1075V1135M1084.5 1075V1169M1085.5 1123V1169M1086.5 1094V1143M1087.5 1105V1164M1088.5 1109V1122M1089.5 1113V1185M1090.5 1079V1185M1091.5 1086V1135M1092.5 1040V1132M1093.5 1109V1119M1094.5 1116V1181M1095.5 1094V1136M1096.5 1082V1105M1097.5 1085V1131M1098.5 1033V1123M1099.5 1033V1139M1100.5 1098V1146M1101.5 1098V1140M1102.5 1093V1156M1103.5 1093V1122M1104.5 1052V1196M1105.5 1052V1097M1106.5 1086V1115M1107.5 1059V1121M1108.5 1090V1149M1109.5 1090V1139M1110.5 1066V1173M1111.5 1114V1173M1112.5 1081V1146M1113.5 1122V1141M1114.5 1060V1141M1115.5 1092V1122M1116.5 1092V1146M1117.5 1109V1120M1118.5 1047V1118M1119.5 1090V1159M1120.5 1090V1177M1121.5 1101V1162M1122.5 1112V1162M1123.5 1072V1169M1124.5 1112V1190M1125.5 1114V1190M1126.5 1105V1149M1127.5 1033V1140M1128.5 1044V1136M1129.5 1010V1110M1130.5 1010V1141M1131.5 1021V1152M1132.5 1101V1152M1133.5 1109V1136M1134.5 1062V1120M1135.5 1102V1159M1136.5 1084V1124M1137.5 1079V1154M1138.5 1068V1154M1139.5 1072V1182M1140.5 1057V1125M1141.5 1078V1127M1142.5 1078V1166M1143.5 1072V1131M1144.5 1064V1131M1145.5 1064V1125M1146.5 1068V1113M1147.5 1049V1112M1148.5 1072V1189M1149.5 1039V1101M1150.5 1042V1101M1151.5 1042V1109M1152.5 1045V1086M1153.5 1061V1092M1154.5 1010V1100M1155.5 1010V1117M1156.5 1044V1083M1157.5 1051V1096M1158.5 1051V1096M1159.5 1057V1096M1160.5 1032V1106M1161.5 1032V1077M1162.5 1057V1103M1163.5 1019V1091M1164.5 1033V1062M1165.5 1032V1107M1166.5 1032V1085M1167.5 1051V1076M1168.5 1022V1076M1169.5 998V1050M1170.5 1012V1085M1171.5 1015V1052M1172.5 1014V1066M1173.5 986V1117M1174.5 985V1117M1175.5 976V1048M1176.5 969V1048M1177.5 973V1047M1178.5 982V1047M1179.5 939V1032M1180.5 935V1046M1181.5 956V1046M1182.5 947V1042M1183.5 969V999M1184.5 987V998M1185.5 978V1014M1186.5 965V1060M1187.5 965V1027M1188.5 1015V1048M1189.5 979V1093M1190.5 964V1078M1191.5 1006V1078M1192.5 994V1048M1193.5 994V1034M1194.5 956V1032M1195.5 956V1047M1196.5 1013V1042M1197.5 951V1042M1198.5 917V1060M1199.5 997V1060M1200.5 989V1043M1201.5 986V1017M1202.5 1001V1037M1203.5 983V1037M1204.5 984V1052M1205.5 985V1017M1206.5 985V1048M1207.5 984V1073M1208.5 1011V1073M1209.5 976V1064M1210.5 1033V1071M1211.5 1009V1038M1212.5 959V1073M1213.5 1005V1073M1214.5 1024V1031M1215.5 972V1059M1216.5 991V1088M1217.5 1023V1088M1218.5 1023V1049M1219.5 983V1043M1220.5 985V1079M1221.5 1019V1042M1222.5 990V1053M1223.5 990V1093M1224.5 1018V1043M1225.5 1013V1068M1226.5 1010V1084M1227.5 1009V1072M1228.5 1009V1058M1229.5 1029V1086M1230.5 1047V1073M1231.5 1073V1102M1232.5 1021V1115M1233.5 1002V1097M1234.5 1002V1098M1235.5 1033V1101M1236.5 1037V1104M1237.5 1092V1126M1238.5 1083V1126M1239.5 1083V1118M1240.5 1080V1138M1241.5 1080V1121M1242.5 1121V1148M1243.5 1088V1179M1244.5 1082V1145M1245.5 1113V1169M1246.5 1100V1170M1247.5 1099V1158M1248.5 1138V1217M1249.5 1134V1217M1250.5 1115V1188M1251.5 1141V1157M1252.5 1149V1231M1253.5 1126V1171M1254.5 1113V1160M1255.5 1140V1160M1256.5 1123V1168M1257.5 1123V1184M1258.5 1135V1175M1259.5 1129V1201M1260.5 1166V1200M1261.5 1155V1200M1262.5 1141V1205M1263.5 1141V1220M1264.5 1172V1220M1265.5 1161V1185M1266.5 1176V1197M1267.5 1163V1192M1268.5 1172V1238M1269.5 1188V1245M1270.5 1161V1207M1271.5 1186V1218M1272.5 1173V1205M1273.5 1203V1230M1274.5 1203V1265M1275.5 1188V1245M1276.5 1203V1291M1277.5 1213V1291M1278.5 1195V1229M1279.5 1195V1268M1280.5 1218V1268M1281.5 1181V1259M1282.5 1184V1259M1283.5 1209V1286M1284.5 1224V1302M1285.5 1221V1290M1286.5 1271V1302M1287.5 1196V1283M1288.5 1222V1270M1289.5 1236V1310M1290.5 1267V1310M1291.5 1238V1281M1292.5 1210V1261M1293.5 1210V1264M1294.5 1242V1277M1295.5 1238V1282M1296.5 1229V1282M1297.5 1228V1333M1298.5 1235V1333M1299.5 1190V1278M1300.5 1212V1255M1301.5 1212V1257M1302.5 1227V1257M1303.5 1223V1264M1304.5 1223V1279M1305.5 1233V1272M1306.5 1257V1276M1307.5 1225V1274M1308.5 1198V1262M1309.5 1198V1310M1310.5 1258V1310M1311.5 1258V1303M1312.5 1243V1285M1313.5 1230V1284M1314.5 1254V1284M1315.5 1258V1332M1316.5 1233V1332M1317.5 1233V1338M1318.5 1230V1312M1319.5 1247V1274M1320.5 1247V1352M1321.5 1234V1293M1322.5 1265V1310M1323.5 1272V1300M1324.5 1210V1301M1325.5 1199V1267M1326.5 1252V1353M1327.5 1264V1300M1328.5 1268V1294M1329.5 1274V1338M1330.5 1291V1338M1331.5 1258V1351M1332.5 1264V1351M1333.5 1264V1319M1334.5 1263V1343M1335.5 1293V1343M1336.5 1236V1296M1337.5 1237V1287M1338.5 1256V1316M1339.5 1240V1297M1340.5 1228V1351M1341.5 1283V1351M1342.5 1302V1342M1343.5 1298V1340M1344.5 1212V1314M1345.5 1212V1300M1346.5 1293V1309M1347.5 1296V1313M1348.5 1250V1330M1349.5 1250V1315M1350.5 1263V1342M1351.5 1214V1313M1352.5 1307V1366M1353.5 1285V1366M1354.5 1285V1329M1355.5 1284V1329M1356.5 1279V1349M1357.5 1316V1358M1358.5 1310V1351M1359.5 1305V1345M1360.5 1302V1358M1361.5 1292V1321M1362.5 1284V1341M1363.5 1226V1358M1364.5 1303V1358M1365.5 1256V1328M1366.5 1256V1338M1367.5 1280V1338M1368.5 1280V1342M1369.5 1296V1318M1370.5 1279V1325M1371.5 1263V1347M1372.5 1263V1352M1373.5 1271V1312M1374.5 1271V1343M1375.5 1300V1340M1376.5 1305V1346M1377.5 1312V1336M1378.5 1286V1376M1379.5 1280V1356M1380.5 1279V1341M1381.5 1279V1324M1382.5 1250V1360M1383.5 1250V1349M1384.5 1273V1353M1385.5 1296V1353M1386.5 1262V1364M1387.5 1262V1318M1388.5 1302V1346M1389.5 1305V1390M1390.5 1288V1341M1391.5 1309V1356M1392.5 1305V1356M1393.5 1283V1335M1394.5 1295V1335M1395.5 1295V1344M1396.5 1311V1344M1397.5 1336V1393M1398.5 1318V1393M1399.5 1299V1370M1400.5 1275V1342M1401.5 1294V1375M1402.5 1250V1375M1403.5 1321V1345M1404.5 1310V1376M1405.5 1319V1376M1406.5 1326V1368M1407.5 1302V1345M1408.5 1281V1366M1409.5 1310V1362M1410.5 1357V1402M1411.5 1302V1367M1412.5 1311V1384M1413.5 1311V1383M1414.5 1345V1383M1415.5 1312V1365M1416.5 1283V1375M1417.5 1342V1390M1418.5 1312V1390M1419.5 1306V1345M1420.5 1326V1357M1421.5 1304V1383M1422.5 1344V1383M1423.5 1297V1381M1424.5 1323V1381M1425.5 1308V1373M1426.5 1308V1360M1427.5 1346V1368M1428.5 1308V1378M1429.5 1308V1357M1430.5 1313V1382M1431.5 1301V1368M1432.5 1334V1344M1433.5 1298V1344M1434.5 1298V1367M1435.5 1355V1435M1436.5 1328V1371M1437.5 1320V1371M1438.5 1310V1350M1439.5 1286V1386M1440.5 1344V1392M1441.5 1328V1390M1442.5 1337V1412M1443.5 1330V1378M1444.5 1330V1388M1445.5 1382V1399M1446.5 1358V1389M1447.5 1355V1415M1448.5 1341V1417M1449.5 1341V1363M1450.5 1353V1362M1451.5 1346V1418M1452.5 1346V1389M1453.5 1329V1395M1454.5 1296V1417M1455.5 1296V1396M1456.5 1311V1365M1457.5 1311V1371M1458.5 1353V1377M1459.5 1322V1377M1460.5 1307V1360M1461.5 1307V1435M1462.5 1385V1435M1463.5 1336V1385M1464.5 1336V1376M1465.5 1339V1403M1466.5 1365V1415M1467.5 1332V1389M1468.5 1328V1407M1469.5 1376V1415M1470.5 1350V1402M1471.5 1348V1385M1472.5 1347V1409M1473.5 1366V1403M1474.5 1362V1411M1475.5 1332V1394M1476.5 1332V1373M1477.5 1319V1373M1478.5 1336V1389M1479.5 1346V1402M1480.5 1354V1415M1481.5 1347V1415M1482.5 1347V1404M1483.5 1337V1404M1484.5 1347V1393M1485.5 1348V1388M1486.5 1303V1402M1487.5 1303V1416M1488.5 1331V1416M1489.5 1373V1416M1490.5 1370V1421M1491.5 1341V1421M1492.5 1341V1390M1493.5 1377V1404M1494.5 1377V1396M1495.5 1353V1396M1496.5 1347V1401M1497.5 1316V1387M1498.5 1316V1402M1499.5 1345V1404M1500.5 1345V1393M1501.5 1361V1393M1502.5 1353V1379M1503.5 1348V1397M1504.5 1358V1458M1505.5 1358V1391M1506.5 1377V1393M1507.5 1370V1441M1508.5 1370V1417M1509.5 1382V1417M1510.5 1378V1403M1511.5 1336V1431M1512.5 1330V1408M1513.5 1330V1398M1514.5 1354V1383M1515.5 1348V1391M1516.5 1383V1395M1517.5 1355V1390M1518.5 1372V1412M1519.5 1336V1389M1520.5 1358V1382M1521.5 1351V1376M1522.5 1332V1389M1523.5 1349V1422M1524.5 1368V1423M1525.5 1347V1412M1526.5 1395V1412M1527.5 1384V1397M1528.5 1349V1411M1529.5 1349V1410M1530.5 1372V1401M1531.5 1320V1381M1532.5 1320V1390M1533.5 1362V1436M1534.5 1301V1378M1535.5 1355V1386M1536.5 1343V1395M1537.5 1354V1377M1538.5 1343V1418M1539.5 1343V1411M1540.5 1353V1406M1541.5 1343V1403M1542.5 1356V1426M1543.5 1366V1428M1544.5 1378V1428M1545.5 1372V1418M1546.5 1357V1427M1547.5 1394V1430M1548.5 1394V1421M1549.5 1344V1402M1550.5 1344V1425M1551.5 1350V1409M1552.5 1350V1394M1553.5 1384V1413M1554.5 1371V1398M1555.5 1371V1438M1556.5 1371V1438M1557.5 1345V1432M1558.5 1345V1394M1559.5 1342V1394M1560.5 1342V1431M1561.5 1370V1430M1562.5 1355V1425M1563.5 1384V1418M1564.5 1385V1418M1565.5 1376V1402M1566.5 1364V1420M1567.5 1364V1443M1568.5 1358V1409M1569.5 1358V1403M1570.5 1376V1407M1571.5 1355V1401M1572.5 1362V1397M1573.5 1378V1421M1574.5 1378V1421M1575.5 1361V1434M1576.5 1356V1417M1577.5 1356V1397M1578.5 1390V1399M1579.5 1362V1390M1580.5 1384V1423M1581.5 1362V1425M1582.5 1370V1417M1583.5 1373V1434M1584.5 1381V1434M1585.5 1402V1414M1586.5 1367V1414M1587.5 1372V1408M1588.5 1372V1417M1589.5 1384V1426M1590.5 1325V1424M1591.5 1325V1433M1592.5 1372V1430M1593.5 1340V1411M1594.5 1389V1394M1595.5 1326V1394M1596.5 1382V1400M1597.5 1379V1445M1598.5 1377V1443M1599.5 1361V1422M1600.5 1361V1424M1601.5 1383V1413M1602.5 1387V1419M1603.5 1370V1422M1604.5 1372V1422M1605.5 1354V1436M1606.5 1373V1436M1607.5 1375V1444M1608.5 1346V1432M1609.5 1368V1432M1610.5 1385V1420M1611.5 1378V1445M1612.5 1378V1440M1613.5 1376V1454M1614.5 1362V1447M1615.5 1354V1417M1616.5 1354V1421M1617.5 1392V1404M1618.5 1371V1414M1619.5 1383V1399M1620.5 1358V1391M1621.5 1372V1430M1622.5 1385V1417M1623.5 1395V1452M1624.5 1372V1467M1625.5 1361V1420M1626.5 1357V1417M1627.5 1357V1420M1628.5 1378V1402M1629.5 1379V1412M1630.5 1398V1447M1631.5 1393V1455M1632.5 1367V1400M1633.5 1367V1432M1634.5 1385V1413M1635.5 1385V1427M1636.5 1385V1425M1637.5 1376V1409M1638.5 1391V1424M1639.5 1391V1463M1640.5 1376V1463M1641.5 1359V1450M1642.5 1359V1423M1643.5 1392V1419M1644.5 1395V1420M1645.5 1323V1418M1646.5 1323V1418M1647.5 1372V1459M1648.5 1374V1389M1649.5 1359V1451M1650.5 1365V1451M1651.5 1365V1413M1652.5 1386V1400M1653.5 1366V1432M1654.5 1348V1401M1655.5 1384V1429M1656.5 1356V1455M1657.5 1356V1427M1658.5 1362V1410M1659.5 1400V1436M1660.5 1401V1444M1661.5 1401V1449M1662.5 1348V1427M1663.5 1348V1411M1664.5 1361V1429M1665.5 1361V1415M1666.5 1365V1403M1667.5 1386V1430M1668.5 1391V1430M1669.5 1410V1444M1670.5 1394V1425M1671.5 1394V1437M1672.5 1377V1463M1673.5 1360V1404M1674.5 1361V1434M1675.5 1375V1423M1676.5 1405V1446M1677.5 1398V1417M1678.5 1367V1427M1679.5 1379V1427M1680.5 1368V1427M1681.5 1356V1416M1682.5 1356V1398M1683.5 1357V1425M1684.5 1368V1399M1685.5 1380V1408M1686.5 1364V1420M1687.5 1364V1403M1688.5 1382V1410M1689.5 1318V1410M1690.5 1383V1410M1691.5 1368V1416M1692.5 1346V1416M1693.5 1334V1422M1694.5 1375V1422M1695.5 1379V1437M1696.5 1407V1437M1697.5 1391V1444M1698.5 1391V1470M1699.5 1388V1430M1700.5 1370V1414M1701.5 1369V1418M1702.5 1366V1465M1703.5 1366V1393M1704.5 1392V1430M1705.5 1378V1396M1706.5 1370V1405M1707.5 1375V1421M1708.5 1375V1428M1709.5 1369V1414M1710.5 1372V1429M1711.5 1422V1440M1712.5 1376V1440M1713.5 1409V1446M1714.5 1407V1446M1715.5 1387V1407M1716.5 1362V1403M1717.5 1347V1402M1718.5 1350V1440M1719.5 1367V1440M1720.5 1367V1419M1721.5 1367V1448M1722.5 1367V1405M1723.5 1388V1445M1724.5 1377V1441M1725.5 1377V1450M1726.5 1411V1449M1727.5 1382V1434M1728.5 1375V1411M1729.5 1373V1434M1730.5 1354V1434M1731.5 1372V1423M1732.5 1384V1436M1733.5 1401V1429M1734.5 1393V1450M1735.5 1390V1451M1736.5 1361V1394M1737.5 1360V1422M1738.5 1378V1422M1739.5 1367V1387M1740.5 1372V1455M1741.5 1381V1443M1742.5 1363V1402M1743.5 1363V1493M1744.5 1363V1441M1745.5 1396V1442M1746.5 1396V1425M1747.5 1396V1417M1748.5 1353V1416M1749.5 1362V1407M1750.5 1362V1425M1751.5 1394V1437M1752.5 1351V1421M1753.5 1388V1423M1754.5 1388V1427M1755.5 1389V1442M1756.5 1403V1453M1757.5 1408V1432M1758.5 1388V1408M1759.5 1388V1415M1760.5 1368V1447M1761.5 1353V1447M1762.5 1383V1425M1763.5 1378V1406M1764.5 1378V1435M1765.5 1401V1444M1766.5 1389V1404M1767.5 1392V1439M1768.5 1394V1419M1769.5 1398V1424M1770.5 1350V1409M1771.5 1350V1424M1772.5 1380V1412M1773.5 1380V1427M1774.5 1356V1429M1775.5 1394V1434M1776.5 1403V1477M1777.5 1378V1477M1778.5 1368V1455M1779.5 1416V1439M1780.5 1372V1420M1781.5 1388V1420M1782.5 1386V1425M1783.5 1364V1425M1784.5 1364V1459M1785.5 1385V1430M1786.5 1379V1422M1787.5 1377V1412M1788.5 1386V1427M1789.5 1386V1418M1790.5 1352V1422M1791.5 1407V1422M1792.5 1399V1415M1793.5 1411V1427M1794.5 1382V1417M1795.5 1382V1415M1796.5 1414V1439M1797.5 1404V1424M1798.5 1396V1455M1799.5 1389V1442M1800.5 1389V1437M1801.5 1388V1437M1802.5 1412V1443M1803.5 1373V1431M1804.5 1373V1413M1805.5 1365V1428M1806.5 1409V1433M1807.5 1378V1433M1808.5 1378V1437M1809.5 1370V1437M1810.5 1370V1433M1811.5 1394V1417M1812.5 1387V1431M1813.5 1366V1426M1814.5 1366V1402M1815.5 1370V1432M1816.5 1343V1426M1817.5 1393V1441M1818.5 1387V1429M1819.5 1389V1447M1820.5 1369V1451M1821.5 1369V1469M1822.5 1382V1469M1823.5 1363V1445M1824.5 1383V1438M1825.5 1347V1425M1826.5 1347V1449M1827.5 1364V1428M1828.5 1364V1461M1829.5 1376V1436M1830.5 1376V1431M1831.5 1373V1431M1832.5 1346V1418M1833.5 1383V1435M1834.5 1360V1435M1835.5 1360V1417M1836.5 1345V1429M1837.5 1345V1402M1838.5 1374V1413M1839.5 1378V1414M1840.5 1378V1448M1841.5 1388V1448M1842.5 1374V1405M1843.5 1384V1402M1844.5 1366V1405M1845.5 1366V1445M1846.5 1370V1426M1847.5 1358V1426M1848.5 1358V1436M1849.5 1369V1436M1850.5 1375V1419M1851.5 1365V1413M1852.5 1378V1449M1853.5 1410V1426M1854.5 1334V1432M1855.5 1380V1449M1856.5 1370V1452M1857.5 1379V1452M1858.5 1379V1416M1859.5 1408V1466M1860.5 1355V1466M1861.5 1366V1449M1862.5 1368V1449M1863.5 1365V1466M1864.5 1365V1398M1865.5 1365V1404M1866.5 1365V1427M1867.5 1390V1427M1868.5 1394V1417M1869.5 1385V1480M1870.5 1385V1437M1871.5 1353V1437M1872.5 1410V1430M1873.5 1375V1427M1874.5 1377V1423M1875.5 1384V1426M1876.5 1384V1468M1877.5 1379V1436M1878.5 1357V1412M1879.5 1357V1424M1880.5 1404V1447M1881.5 1404V1448M1882.5 1395V1438M1883.5 1395V1443M1884.5 1390V1413M1885.5 1413V1462M1886.5 1403V1462M1887.5 1382V1434M1888.5 1405V1426M1889.5 1346V1420M1890.5 1384V1420M1891.5 1413V1457M1892.5 1376V1438M1893.5 1375V1408M1894.5 1408V1437M1895.5 1402V1435M1896.5 1358V1412M1897.5 1345V1410M1898.5 1345V1439M1899.5 1388V1442M1900.5 1361V1427M1901.5 1368V1435M1902.5 1355V1435M1903.5 1355V1425M1904.5 1368V1395M1905.5 1364V1419M1906.5 1394V1447M1907.5 1398V1447M1908.5 1418V1443M1909.5 1401V1425M1910.5 1408V1451M1911.5 1371V1451M1912.5 1374V1438M1913.5 1393V1438M1914.5 1407V1423M1915.5 1399V1414M1916.5 1363V1414M1917.5 1367V1416M1918.5 1369V1435M1919.5 1381V1439M1920.5 1389V1421M1921.5 1389V1414M1922.5 1358V1405M1923.5 1369V1409M1924.5 1362V1409M1925.5 1407V1432M1926.5 1380V1432M1927.5 1355V1429M1928.5 1355V1430M1929.5 1355V1408M1930.5 1408V1450M1931.5 1394V1408M1932.5 1366V1399M1933.5 1359V1434M1934.5 1385V1434M1935.5 1398V1431M1936.5 1381V1405M1937.5 1394V1407M1938.5 1394V1433M1939.5 1380V1430M1940.5 1406V1445M1941.5 1394V1443M1942.5 1393V1403M1943.5 1397V1429M1944.5 1390V1492M1945.5 1380V1446M1946.5 1383V1442M1947.5 1383V1410M1948.5 1404V1434M1949.5 1417V1449M1950.5 1366V1449M1951.5 1388V1441M1952.5 1396V1455M1953.5 1388V1416M1954.5 1388V1487M1955.5 1392V1444M1956.5 1370V1426M1957.5 1396V1474M1958.5 1396V1411M1959.5 1397V1424M1960.5 1400V1444M1961.5 1403V1426M1962.5 1395V1432M1963.5 1401V1434M1964.5 1387V1453M1965.5 1387V1446M1966.5 1367V1476M1967.5 1393V1453M1968.5 1393V1448M1969.5 1407V1446M1970.5 1392V1446M1971.5 1378V1427M1972.5 1373V1427M1973.5 1378V1443M1974.5 1378V1433M1975.5 1378V1441M1976.5 1397V1453M1977.5 1370V1453M1978.5 1365V1409M1979.5 1344V1435M1980.5 1398V1422M1981.5 1422V1481M1982.5 1386V1481M1983.5 1380V1430M1984.5 1417V1453M1985.5 1395V1453M1986.5 1379V1404M1987.5 1381V1415M1988.5 1374V1464M1989.5 1374V1434M1990.5 1410V1435M1991.5 1384V1439M1992.5 1398V1461M1993.5 1399V1425M1994.5 1408V1443M1995.5 1415V1454M1996.5 1410V1478M1997.5 1409V1478M1998.5 1409V1421M1999.5 1385V1421M2000.5 1399V1457M2001.5 1426V1475" fill="none" stroke="#d6d6d6" stroke-width="1.0"/>
<path d="M244.5 1535V1548M245.5 1520V1556M246.5 1518V1534M247.5 1534V1548M248.5 1511V1541M249.5 1523V1558M250.5 1534V1547M251.5 1528V1543M252.5 1526V1533M253.5 1512V1543M254.5 1512V1543M255.5 1514V1530M256.5 1525V1534M257.5 1524V1555M258.5 1524V1543M259.5 1504V1538M260.5 1504V1537M261.5 1522V1542M262.5 1522V1551M263.5 1544V1559M264.5 1529V1559M265.5 1509V1538M266.5 1509V1536M267.5 1505V1527M268.5 1527V1546M269.5 1516V1546M270.5 1515V1539M271.5 1538V1541M272.5 1508V1542M273.5 1511V1539M274.5 1511V1547M275.5 1512V1541M276.5 1512V1544M277.5 1502V1527M278.5 1521V1533M279.5 1526V1544M280.5 1527V1544M281.5 1525V1558M282.5 1509V1548M283.5 1516V1547M284.5 1516V1541M285.5 1509V1535M286.5 1521V1564M287.5 1506V1527M288.5 1517V1550M289.5 1511V1537M290.5 1523V1537M291.5 1519V1536M292.5 1500V1536M293.5 1513V1533M294.5 1532V1543M295.5 1513V1540M296.5 1513V1546M297.5 1514V1530M298.5 1516V1534M299.5 1510V1534M300.5 1526V1542M301.5 1539V1544M302.5 1519V1541M303.5 1499V1558M304.5 1501V1558M305.5 1523V1551M306.5 1527V1548M307.5 1530V1548M308.5 1528V1545M309.5 1523V1546M310.5 1509V1546M311.5 1509V1552M312.5 1516V1538M313.5 1521V1539M314.5 1528V1533M315.5 1528V1549M316.5 1522V1549M317.5 1533V1556M318.5 1520V1556M319.5 1520V1553M320.5 1524V1557M321.5 1515V1557M322.5 1529V1545M323.5 1502V1542M324.5 1502V1534M325.5 1508V1529M326.5 1522V1550M327.5 1507V1533M328.5 1520V1554M329.5 1536V1559M330.5 1515V1541M331.5 1515V1552M332.5 1509V1552M333.5 1522V1556M334.5 1521V1535M335.5 1517V1568M336.5 1521V1568M337.5 1528V1551M338.5 1534V1546M339.5 1514V1560M340.5 1527V1560M341.5 1515V1532M342.5 1515V1544M343.5 1537V1546M344.5 1507V1537M345.5 1526V1553M346.5 1523V1559M347.5 1537V1559M348.5 1502V1539M349.5 1502V1548M350.5 1532V1548M351.5 1531V1537M352.5 1499V1541M353.5 1499V1543M354.5 1520V1547M355.5 1521V1541M356.5 1500V1532M357.5 1508V1532M358.5 1508V1550M359.5 1520V1548M360.5 1522V1531M361.5 1499V1544M362.5 1499V1547M363.5 1532V1554M364.5 1494V1554M365.5 1498V1537M366.5 1520V1547M367.5 1532V1547M368.5 1536V1545M369.5 1517V1545M370.5 1517V1534M371.5 1516V1540M372.5 1528V1555M373.5 1528V1532M374.5 1511V1540M375.5 1521V1549M376.5 1521V1558M377.5 1532V1547M378.5 1540V1564M379.5 1517V1540M380.5 1516V1528M381.5 1516V1548M382.5 1515V1553M383.5 1520V1553M384.5 1522V1536M385.5 1519V1528M386.5 1514V1543M387.5 1516V1538M388.5 1516V1543M389.5 1516V1548M390.5 1515V1559M391.5 1511V1539M392.5 1497V1527M393.5 1497V1517M394.5 1505V1538M395.5 1519V1538M396.5 1510V1533M397.5 1525V1541M398.5 1515V1531M399.5 1510V1536M400.5 1526V1538M401.5 1513V1533M402.5 1524V1536M403.5 1525V1554M404.5 1520V1528M405.5 1521V1551M406.5 1515V1525M407.5 1525V1547M408.5 1505V1540M409.5 1527V1548M410.5 1521V1533M411.5 1521V1548M412.5 1526V1537M413.5 1531V1554M414.5 1524V1535M415.5 1525V1547M416.5 1525V1543M417.5 1504V1558M418.5 1527V1558M419.5 1517V1541M420.5 1517V1546M421.5 1513V1548M422.5 1514V1526M423.5 1506V1554M424.5 1495V1554M425.5 1495V1547M426.5 1533V1565M427.5 1527V1547M428.5 1514V1530M429.5 1526V1554M430.5 1493V1545M431.5 1514V1546M432.5 1506V1532M433.5 1512V1525M434.5 1508V1535M435.5 1508V1546M436.5 1507V1546M437.5 1522V1529M438.5 1511V1528M439.5 1508V1528M440.5 1503V1528M441.5 1506V1532M442.5 1506V1546M443.5 1504V1546M444.5 1504V1543M445.5 1516V1539M446.5 1520V1539M447.5 1514V1532M448.5 1514V1554M449.5 1507V1554M450.5 1524V1540M451.5 1515V1546M452.5 1502V1533M453.5 1505V1534M454.5 1494V1534M455.5 1494V1554M456.5 1522V1534M457.5 1516V1529M458.5 1516V1564M459.5 1515V1551M460.5 1508V1541M461.5 1498V1549M462.5 1529V1549M463.5 1512V1537M464.5 1524V1538M465.5 1504V1544M466.5 1502V1516M467.5 1502V1538M468.5 1500V1548M469.5 1500V1521M470.5 1494V1529M471.5 1494V1532M472.5 1520V1532M473.5 1512V1523M474.5 1511V1539M475.5 1516V1539M476.5 1523V1539M477.5 1498V1529M478.5 1514V1541M479.5 1514V1549M480.5 1509V1549M481.5 1506V1525M482.5 1502V1554M483.5 1512V1521M484.5 1516V1532M485.5 1520V1551M486.5 1509V1524M487.5 1509V1524M488.5 1504V1522M489.5 1495V1556M490.5 1495V1547M491.5 1507V1547M492.5 1495V1528M493.5 1495V1528M494.5 1510V1518M495.5 1512V1553M496.5 1497V1531M497.5 1497V1540M498.5 1498V1538M499.5 1499V1538M500.5 1505V1534M501.5 1501V1549M502.5 1501V1527M503.5 1506V1536M504.5 1502V1526M505.5 1502V1534M506.5 1502V1533M507.5 1525V1536M508.5 1514V1527M509.5 1515V1538M510.5 1512V1538M511.5 1512V1531M512.5 1508V1528M513.5 1500V1551M514.5 1500V1551M515.5 1520V1551M516.5 1509V1531M517.5 1509V1531M518.5 1515V1531M519.5 1492V1523M520.5 1492V1538M521.5 1507V1521M522.5 1507V1530M523.5 1511V1548M524.5 1487V1519M525.5 1487V1532M526.5 1513V1528M527.5 1517V1534M528.5 1513V1534M529.5 1495V1520M530.5 1486V1520M531.5 1493V1544M532.5 1513V1541M533.5 1509V1542M534.5 1513V1554M535.5 1508V1536M536.5 1519V1536M537.5 1500V1532M538.5 1500V1549M539.5 1518V1557M540.5 1513V1531M541.5 1513V1544M542.5 1503V1544M543.5 1503V1523M544.5 1512V1533M545.5 1506V1535M546.5 1507V1535M547.5 1516V1547M548.5 1504V1546M549.5 1504V1549M550.5 1518V1549M551.5 1518V1544M552.5 1516V1544M553.5 1516V1553M554.5 1495V1541M555.5 1495V1538M556.5 1505V1538M557.5 1505V1522M558.5 1505V1530M559.5 1509V1530M560.5 1504V1532M561.5 1500V1532M562.5 1517V1532M563.5 1520V1534M564.5 1516V1536M565.5 1508V1545M566.5 1498V1508M567.5 1489V1528M568.5 1489V1530M569.5 1510V1543M570.5 1498V1513M571.5 1508V1548M572.5 1513V1536M573.5 1489V1528M574.5 1491V1528M575.5 1475V1528M576.5 1475V1540M577.5 1503V1540M578.5 1509V1537M579.5 1503V1530M580.5 1502V1530M581.5 1515V1533M582.5 1515V1532M583.5 1514V1558M584.5 1499V1558M585.5 1499V1528M586.5 1501V1546M587.5 1507V1546M588.5 1496V1516M589.5 1496V1526M590.5 1496V1521M591.5 1496V1534M592.5 1506V1534M593.5 1511V1545M594.5 1513V1545M595.5 1494V1543M596.5 1477V1538M597.5 1477V1532M598.5 1503V1530M599.5 1503V1531M600.5 1508V1531M601.5 1500V1548M602.5 1504V1534M603.5 1497V1548M604.5 1497V1541M605.5 1497V1543M606.5 1487V1511M607.5 1487V1534M608.5 1510V1571M609.5 1511V1522M610.5 1511V1526M611.5 1514V1529M612.5 1494V1514M613.5 1509V1519M614.5 1508V1548M615.5 1499V1532M616.5 1500V1531M617.5 1490V1532M618.5 1488V1514M619.5 1505V1533M620.5 1512V1533M621.5 1499V1512M622.5 1499V1516M623.5 1475V1528M624.5 1489V1511M625.5 1489V1546M626.5 1490V1514M627.5 1482V1526M628.5 1482V1507M629.5 1501V1540M630.5 1510V1540M631.5 1505V1525M632.5 1497V1525M633.5 1478V1519M634.5 1491V1519M635.5 1480V1519M636.5 1515V1552M637.5 1486V1552M638.5 1486V1532M639.5 1496V1504M640.5 1504V1518M641.5 1494V1524M642.5 1478V1523M643.5 1493V1523M644.5 1493V1510M645.5 1492V1511M646.5 1498V1543M647.5 1503V1543M648.5 1503V1533M649.5 1498V1531M650.5 1473V1531M651.5 1473V1540M652.5 1479V1505M653.5 1479V1513M654.5 1508V1535M655.5 1494V1512M656.5 1494V1523M657.5 1499V1523M658.5 1479V1529M659.5 1484V1529M660.5 1484V1530M661.5 1502V1539M662.5 1495V1521M663.5 1482V1498M664.5 1482V1522M665.5 1486V1520M666.5 1482V1520M667.5 1476V1527M668.5 1505V1527M669.5 1491V1523M670.5 1483V1522M671.5 1482V1518M672.5 1482V1521M673.5 1483V1521M674.5 1471V1516M675.5 1491V1518M676.5 1475V1530M677.5 1488V1530M678.5 1473V1496M679.5 1464V1517M680.5 1474V1517M681.5 1479V1516M682.5 1483V1516M683.5 1484V1511M684.5 1465V1512M685.5 1457V1495M686.5 1457V1512M687.5 1471V1517M688.5 1476V1490M689.5 1454V1495M690.5 1472V1495M691.5 1472V1513M692.5 1465V1514M693.5 1465V1508M694.5 1473V1508M695.5 1473V1488M696.5 1468V1490M697.5 1468V1492M698.5 1441V1506M699.5 1441V1494M700.5 1458V1517M701.5 1429V1483M702.5 1429V1501M703.5 1478V1494M704.5 1481V1532M705.5 1462V1508M706.5 1446V1491M707.5 1470V1510M708.5 1451V1500M709.5 1466V1494M710.5 1455V1515M711.5 1491V1515M712.5 1433V1501M713.5 1433V1482M714.5 1471V1493M715.5 1471V1498M716.5 1483V1497M717.5 1456V1489M718.5 1456V1485M719.5 1473V1499M720.5 1466V1502M721.5 1442V1492M722.5 1442V1511M723.5 1451V1495M724.5 1454V1471M725.5 1451V1473M726.5 1454V1470M727.5 1440V1500M728.5 1440V1469M729.5 1449V1478M730.5 1449V1489M731.5 1466V1482M732.5 1454V1495M733.5 1486V1507M734.5 1418V1492M735.5 1464V1507M736.5 1465V1486M737.5 1460V1502M738.5 1461V1502M739.5 1450V1483M740.5 1450V1485M741.5 1469V1493M742.5 1458V1487M743.5 1463V1471M744.5 1463V1504M745.5 1447V1484M746.5 1436V1519M747.5 1445V1484M748.5 1445V1485M749.5 1452V1493M750.5 1455V1493M751.5 1436V1479M752.5 1479V1497M753.5 1438V1492M754.5 1438V1461M755.5 1459V1478M756.5 1459V1493M757.5 1429V1496M758.5 1433V1481M759.5 1408V1486M760.5 1432V1470M761.5 1435V1481M762.5 1423V1463M763.5 1423V1485M764.5 1442V1485M765.5 1456V1499M766.5 1440V1499M767.5 1430V1479M768.5 1430V1465M769.5 1436V1460M770.5 1435V1483M771.5 1419V1477M772.5 1411V1478M773.5 1408V1458M774.5 1407V1441M775.5 1430V1470M776.5 1432V1476M777.5 1414V1476M778.5 1413V1473M779.5 1427V1464M780.5 1456V1479M781.5 1445V1479M782.5 1439V1484M783.5 1390V1448M784.5 1419V1482M785.5 1419V1482M786.5 1435V1469M787.5 1424V1456M788.5 1424V1464M789.5 1392V1464M790.5 1392V1491M791.5 1403V1437M792.5 1425V1432M793.5 1409V1455M794.5 1415V1483M795.5 1421V1483M796.5 1397V1449M797.5 1439V1479M798.5 1410V1450M799.5 1414V1472M800.5 1386V1472M801.5 1432V1445M802.5 1433V1458M803.5 1394V1463M804.5 1407V1463M805.5 1400V1453M806.5 1404V1447M807.5 1397V1426M808.5 1378V1433M809.5 1393V1433M810.5 1393V1438M811.5 1420V1457M812.5 1410V1457M813.5 1403V1435M814.5 1399V1445M815.5 1394V1406M816.5 1386V1451M817.5 1386V1444M818.5 1407V1426M819.5 1356V1434M820.5 1356V1413M821.5 1379V1409M822.5 1364V1428M823.5 1393V1428M824.5 1410V1434M825.5 1407V1434M826.5 1407V1428M827.5 1358V1428M828.5 1358V1420M829.5 1374V1445M830.5 1383V1393M831.5 1383V1408M832.5 1399V1433M833.5 1406V1443M834.5 1397V1423M835.5 1408V1461M836.5 1398V1433M837.5 1360V1433M838.5 1373V1440M839.5 1399V1445M840.5 1405V1445M841.5 1377V1428M842.5 1387V1428M843.5 1387V1446M844.5 1369V1446M845.5 1369V1405M846.5 1404V1430M847.5 1372V1424M848.5 1383V1427M849.5 1349V1449M850.5 1349V1429M851.5 1378V1429M852.5 1363V1426M853.5 1385V1434M854.5 1375V1434M855.5 1359V1411M856.5 1359V1386M857.5 1361V1420M858.5 1407V1449M859.5 1352V1430M860.5 1379V1436M861.5 1379V1442M862.5 1393V1449M863.5 1359V1435M864.5 1393V1441M865.5 1344V1454M866.5 1345V1454M867.5 1366V1401M868.5 1382V1414M869.5 1344V1419M870.5 1350V1408M871.5 1351V1408M872.5 1351V1409M873.5 1365V1376M874.5 1316V1386M875.5 1348V1405M876.5 1345V1407M877.5 1325V1403M878.5 1324V1377M879.5 1328V1379M880.5 1328V1396M881.5 1353V1409M882.5 1361V1415M883.5 1296V1378M884.5 1333V1414M885.5 1319V1354M886.5 1307V1352M887.5 1318V1352M888.5 1318V1347M889.5 1304V1368M890.5 1343V1375M891.5 1340V1414M892.5 1363V1414M893.5 1345V1378M894.5 1329V1407M895.5 1329V1371M896.5 1332V1374M897.5 1313V1395M898.5 1311V1359M899.5 1311V1383M900.5 1326V1372M901.5 1326V1382M902.5 1308V1344M903.5 1316V1361M904.5 1311V1368M905.5 1311V1371M906.5 1321V1359M907.5 1332V1366M908.5 1312V1366M909.5 1295V1381M910.5 1282V1381M911.5 1273V1357M912.5 1274V1353M913.5 1260V1357M914.5 1298V1348M915.5 1303V1348M916.5 1308V1360M917.5 1302V1340M918.5 1320V1335M919.5 1294V1363M920.5 1294V1340M921.5 1300V1340M922.5 1298V1332M923.5 1317V1323M924.5 1302V1348M925.5 1295V1362M926.5 1283V1362M927.5 1310V1342M928.5 1278V1320M929.5 1278V1341M930.5 1276V1341M931.5 1276V1357M932.5 1275V1357M933.5 1288V1351M934.5 1300V1330M935.5 1313V1341M936.5 1317V1341M937.5 1287V1387M938.5 1286V1324M939.5 1286V1306M940.5 1283V1330M941.5 1282V1307M942.5 1263V1287M943.5 1258V1346M944.5 1277V1330M945.5 1302V1326M946.5 1282V1325M947.5 1274V1326M948.5 1268V1344M949.5 1268V1331M950.5 1258V1311M951.5 1250V1310M952.5 1255V1304M953.5 1250V1324M954.5 1256V1333M955.5 1217V1316M956.5 1265V1328M957.5 1262V1345M958.5 1245V1335M959.5 1245V1349M960.5 1249V1298M961.5 1214V1302M962.5 1259V1302M963.5 1258V1289M964.5 1267V1296M965.5 1267V1322M966.5 1269V1313M967.5 1278V1294M968.5 1266V1297M969.5 1292V1295M970.5 1239V1292M971.5 1254V1294M972.5 1231V1268M973.5 1258V1304M974.5 1221V1310M975.5 1221V1314M976.5 1215V1314M977.5 1249V1330M978.5 1241V1330M979.5 1240V1277M980.5 1257V1276M981.5 1222V1318M982.5 1269V1319M983.5 1230V1319M984.5 1230V1280M985.5 1237V1304M986.5 1245V1304M987.5 1246V1270M988.5 1227V1270M989.5 1207V1270M990.5 1221V1270M991.5 1237V1261M992.5 1235V1290M993.5 1204V1304M994.5 1217V1304M995.5 1200V1260M996.5 1195V1257M997.5 1237V1275M998.5 1229V1292M999.5 1208V1229M1000.5 1184V1219M1001.5 1144V1258M1002.5 1144V1229M1003.5 1190V1201M1004.5 1185V1230M1005.5 1174V1234M1006.5 1177V1216M1007.5 1171V1248M1008.5 1169V1261M1009.5 1185V1247M1010.5 1185V1259M1011.5 1179V1239M1012.5 1155V1239M1013.5 1155V1241M1014.5 1155V1194M1015.5 1186V1240M1016.5 1148V1214M1017.5 1179V1238M1018.5 1179V1238M1019.5 1136V1203M1020.5 1136V1217M1021.5 1168V1231M1022.5 1163V1231M1023.5 1174V1226M1024.5 1162V1178M1025.5 1158V1195M1026.5 1158V1221M1027.5 1115V1221M1028.5 1115V1207M1029.5 1178V1207M1030.5 1151V1216M1031.5 1151V1197M1032.5 1151V1225M1033.5 1112V1225M1034.5 1172V1207M1035.5 1116V1190M1036.5 1113V1190M1037.5 1099V1203M1038.5 1099V1169M1039.5 1131V1230M1040.5 1087V1191M1041.5 1159V1197M1042.5 1140V1197M1043.5 1127V1175M1044.5 1163V1175M1045.5 1134V1163M1046.5 1115V1162M1047.5 1121V1195M1048.5 1098V1184M1049.5 1142V1180M1050.5 1098V1162M1051.5 1128V1195M1052.5 1089V1128M1053.5 1089V1140M1054.5 1131V1196M1055.5 1124V1178M1056.5 1103V1172M1057.5 1100V1121M1058.5 1087V1160M1059.5 1087V1178M1060.5 1117V1184M1061.5 1109V1184M1062.5 1094V1161M1063.5 1075V1155M1064.5 1075V1135M1065.5 1107V1148M1066.5 1132V1172M1067.5 1093V1167M1068.5 1093V1130M1069.5 1095V1134M1070.5 1125V1162M1071.5 1129V1179M1072.5 1089V1179M1073.5 1102V1141M1074.5 1100V1135M1075.5 1090V1129M1076.5 1071V1160M1077.5 1116V1155M1078.5 1117V1155M1079.5 1102V1168M1080.5 1093V1135M1081.5 1092V1123M1082.5 1081V1128M1083.5 1087V1165M1084.5 1111V1155M1085.5 1124V1155M1086.5 1117V1139M1087.5 1110V1139M1088.5 1095V1124M1089.5 1095V1146M1090.5 1102V1159M1091.5 1110V1159M1092.5 1053V1152M1093.5 1039V1104M1094.5 1090V1133M1095.5 1071V1150M1096.5 1078V1160M1097.5 1082V1170M1098.5 1063V1146M1099.5 1063V1132M1100.5 1090V1139M1101.5 1081V1123M1102.5 1056V1089M1103.5 1089V1151M1104.5 1044V1124M1105.5 1044V1132M1106.5 1091V1151M1107.5 1059V1140M1108.5 1090V1142M1109.5 1124V1179M1110.5 1085V1124M1111.5 1092V1158M1112.5 1078V1158M1113.5 1086V1125M1114.5 1086V1148M1115.5 1105V1139M1116.5 1080V1171M1117.5 1080V1151M1118.5 1092V1151M1119.5 1109V1197M1120.5 1101V1188M1121.5 1070V1166M1122.5 1114V1166M1123.5 1091V1154M1124.5 1091V1163M1125.5 1086V1192M1126.5 1075V1128M1127.5 1094V1138M1128.5 1118V1172M1129.5 1061V1139M1130.5 1061V1157M1131.5 1032V1148M1132.5 1120V1161M1133.5 1074V1150M1134.5 1074V1106M1135.5 1060V1106M1136.5 1094V1154M1137.5 1091V1154M1138.5 1052V1139M1139.5 1052V1099M1140.5 1082V1100M1141.5 1100V1140M1142.5 1059V1131M1143.5 1054V1100M1144.5 1041V1097M1145.5 1033V1147M1146.5 1033V1092M1147.5 1064V1092M1148.5 1053V1078M1149.5 1050V1097M1150.5 1043V1072M1151.5 1049V1094M1152.5 1049V1090M1153.5 1051V1080M1154.5 1030V1081M1155.5 1051V1109M1156.5 1075V1110M1157.5 1049V1111M1158.5 1049V1104M1159.5 1059V1087M1160.5 997V1085M1161.5 1028V1096M1162.5 1049V1101M1163.5 1049V1099M1164.5 1043V1092M1165.5 1034V1092M1166.5 1034V1061M1167.5 1050V1094M1168.5 1059V1114M1169.5 1009V1059M1170.5 1013V1051M1171.5 1013V1061M1172.5 1014V1076M1173.5 1018V1087M1174.5 979V1052M1175.5 979V1055M1176.5 984V1084M1177.5 987V1059M1178.5 987V1041M1179.5 969V1041M1180.5 981V1034M1181.5 981V1047M1182.5 988V1035M1183.5 953V1000M1184.5 938V1030M1185.5 955V1061M1186.5 947V1025M1187.5 967V1054M1188.5 967V1030M1189.5 972V1030M1190.5 958V980M1191.5 958V1045M1192.5 951V1057M1193.5 951V1013M1194.5 973V1026M1195.5 982V1026M1196.5 992V1017M1197.5 979V1020M1198.5 1001V1074M1199.5 990V1074M1200.5 960V1010M1201.5 994V1032M1202.5 1004V1056M1203.5 993V1056M1204.5 995V1051M1205.5 960V1051M1206.5 1000V1036M1207.5 1010V1047M1208.5 990V1041M1209.5 993V1081M1210.5 993V1030M1211.5 966V1030M1212.5 966V1055M1213.5 980V1063M1214.5 1009V1051M1215.5 955V1048M1216.5 991V1046M1217.5 990V1049M1218.5 1036V1056M1219.5 994V1048M1220.5 1003V1070M1221.5 1003V1028M1222.5 1028V1051M1223.5 1011V1072M1224.5 1011V1104M1225.5 1025V1088M1226.5 1046V1089M1227.5 1022V1084M1228.5 1048V1106M1229.5 1062V1111M1230.5 1036V1107M1231.5 1009V1100M1232.5 1009V1080M1233.5 1071V1090M1234.5 1054V1119M1235.5 1046V1122M1236.5 1046V1095M1237.5 1058V1095M1238.5 1074V1128M1239.5 1071V1158M1240.5 1056V1158M1241.5 1106V1142M1242.5 1091V1109M1243.5 1079V1138M1244.5 1079V1164M1245.5 1093V1164M1246.5 1094V1242M1247.5 1092V1171M1248.5 1108V1215M1249.5 1108V1146M1250.5 1110V1150M1251.5 1110V1157M1252.5 1111V1213M1253.5 1140V1213M1254.5 1140V1223M1255.5 1135V1210M1256.5 1174V1210M1257.5 1135V1209M1258.5 1178V1218M1259.5 1157V1204M1260.5 1155V1199M1261.5 1162V1256M1262.5 1172V1268M1263.5 1172V1220M1264.5 1177V1263M1265.5 1175V1244M1266.5 1192V1215M1267.5 1190V1262M1268.5 1178V1262M1269.5 1178V1294M1270.5 1135V1190M1271.5 1151V1250M1272.5 1188V1264M1273.5 1196V1277M1274.5 1203V1231M1275.5 1203V1264M1276.5 1174V1262M1277.5 1197V1262M1278.5 1215V1251M1279.5 1179V1253M1280.5 1212V1255M1281.5 1244V1279M1282.5 1233V1279M1283.5 1196V1274M1284.5 1208V1274M1285.5 1208V1260M1286.5 1241V1292M1287.5 1228V1281M1288.5 1228V1260M1289.5 1244V1306M1290.5 1186V1306M1291.5 1210V1257M1292.5 1210V1279M1293.5 1208V1308M1294.5 1220V1281M1295.5 1229V1283M1296.5 1217V1288M1297.5 1251V1293M1298.5 1197V1251M1299.5 1234V1283M1300.5 1214V1303M1301.5 1214V1301M1302.5 1231V1329M1303.5 1231V1281M1304.5 1246V1277M1305.5 1246V1273M1306.5 1231V1282M1307.5 1214V1287M1308.5 1213V1290M1309.5 1272V1294M1310.5 1270V1310M1311.5 1240V1303M1312.5 1266V1285M1313.5 1227V1335M1314.5 1236V1335M1315.5 1236V1281M1316.5 1227V1316M1317.5 1227V1306M1318.5 1300V1315M1319.5 1276V1330M1320.5 1274V1351M1321.5 1292V1351M1322.5 1269V1316M1323.5 1269V1327M1324.5 1278V1310M1325.5 1278V1322M1326.5 1266V1302M1327.5 1288V1312M1328.5 1288V1305M1329.5 1266V1305M1330.5 1265V1350M1331.5 1244V1350M1332.5 1263V1306M1333.5 1288V1344M1334.5 1265V1330M1335.5 1292V1327M1336.5 1250V1306M1337.5 1264V1324M1338.5 1250V1351M1339.5 1250V1317M1340.5 1248V1317M1341.5 1251V1333M1342.5 1225V1333M1343.5 1280V1344M1344.5 1294V1344M1345.5 1284V1299M1346.5 1286V1340M1347.5 1265V1358M1348.5 1303V1331M1349.5 1279V1341M1350.5 1279V1346M1351.5 1310V1346M1352.5 1309V1343M1353.5 1258V1354M1354.5 1261V1338M1355.5 1261V1350M1356.5 1322V1350M1357.5 1322V1348M1358.5 1320V1348M1359.5 1302V1344M1360.5 1291V1304M1361.5 1278V1346M1362.5 1316V1365M1363.5 1314V1387M1364.5 1279V1362M1365.5 1309V1386M1366.5 1258V1332M1367.5 1283V1344M1368.5 1288V1346M1369.5 1281V1346M1370.5 1281V1315M1371.5 1303V1319M1372.5 1303V1347M1373.5 1307V1346M1374.5 1270V1343M1375.5 1312V1332M1376.5 1285V1327M1377.5 1293V1344M1378.5 1262V1355M1379.5 1262V1345M1380.5 1288V1325M1381.5 1312V1398M1382.5 1284V1335M1383.5 1284V1317M1384.5 1291V1336M1385.5 1251V1329M1386.5 1251V1384M1387.5 1305V1367M1388.5 1320V1360M1389.5 1286V1328M1390.5 1286V1357M1391.5 1306V1365M1392.5 1308V1361M1393.5 1334V1367M1394.5 1331V1373M1395.5 1361V1376M1396.5 1294V1392M1397.5 1302V1344M1398.5 1315V1359M1399.5 1301V1369M1400.5 1301V1365M1401.5 1311V1365M1402.5 1331V1386M1403.5 1306V1334M1404.5 1314V1367M1405.5 1275V1387M1406.5 1310V1387M1407.5 1311V1377M1408.5 1318V1354M1409.5 1310V1365M1410.5 1338V1381M1411.5 1316V1398M1412.5 1330V1398M1413.5 1290V1375M1414.5 1290V1358M1415.5 1321V1359M1416.5 1339V1386M1417.5 1317V1349M1418.5 1302V1386M1419.5 1302V1381M1420.5 1312V1370M1421.5 1317V1371M1422.5 1326V1371M1423.5 1309V1365M1424.5 1302V1386M1425.5 1341V1428M1426.5 1349V1428M1427.5 1303V1407M1428.5 1303V1365M1429.5 1304V1364M1430.5 1304V1384M1431.5 1363V1384M1432.5 1339V1383M1433.5 1306V1358M1434.5 1345V1364M1435.5 1355V1401M1436.5 1342V1388M1437.5 1327V1388M1438.5 1322V1368M1439.5 1314V1368M1440.5 1285V1383M1441.5 1332V1383M1442.5 1333V1392M1443.5 1336V1405M1444.5 1359V1405M1445.5 1335V1374M1446.5 1335V1403M1447.5 1366V1397M1448.5 1352V1397M1449.5 1352V1399M1450.5 1356V1402M1451.5 1346V1401M1452.5 1336V1385M1453.5 1336V1388M1454.5 1316V1400M1455.5 1316V1404M1456.5 1365V1395M1457.5 1343V1409M1458.5 1343V1393M1459.5 1389V1416M1460.5 1343V1409M1461.5 1343V1368M1462.5 1346V1416M1463.5 1301V1416M1464.5 1358V1418M1465.5 1360V1418M1466.5 1359V1418M1467.5 1348V1418M1468.5 1338V1408M1469.5 1344V1380M1470.5 1349V1412M1471.5 1375V1379M1472.5 1351V1426M1473.5 1351V1408M1474.5 1365V1409M1475.5 1361V1381M1476.5 1343V1393M1477.5 1332V1362M1478.5 1348V1384M1479.5 1361V1394M1480.5 1359V1379M1481.5 1379V1412M1482.5 1364V1397M1483.5 1331V1391M1484.5 1298V1404M1485.5 1337V1404M1486.5 1351V1390M1487.5 1351V1410M1488.5 1373V1420M1489.5 1347V1400M1490.5 1347V1413M1491.5 1303V1431M1492.5 1348V1431M1493.5 1378V1414M1494.5 1376V1414M1495.5 1377V1383M1496.5 1365V1405M1497.5 1355V1415M1498.5 1362V1416M1499.5 1362V1431M1500.5 1345V1391M1501.5 1328V1439M1502.5 1328V1400M1503.5 1372V1400M1504.5 1325V1408M1505.5 1325V1415M1506.5 1386V1418M1507.5 1352V1393M1508.5 1361V1389M1509.5 1361V1401M1510.5 1349V1401M1511.5 1362V1379M1512.5 1362V1386M1513.5 1376V1408M1514.5 1365V1417M1515.5 1374V1397M1516.5 1344V1397M1517.5 1349V1415M1518.5 1354V1415M1519.5 1347V1453M1520.5 1366V1453M1521.5 1366V1416M1522.5 1357V1416M1523.5 1369V1410M1524.5 1363V1385M1525.5 1366V1422M1526.5 1353V1393M1527.5 1359V1387M1528.5 1353V1400M1529.5 1353V1405M1530.5 1368V1408M1531.5 1323V1408M1532.5 1323V1422M1533.5 1340V1428M1534.5 1366V1428M1535.5 1358V1395M1536.5 1358V1402M1537.5 1375V1407M1538.5 1313V1407M1539.5 1334V1394M1540.5 1370V1389M1541.5 1370V1400M1542.5 1342V1393M1543.5 1352V1368M1544.5 1326V1380M1545.5 1358V1425M1546.5 1364V1425M1547.5 1356V1412M1548.5 1356V1439M1549.5 1334V1370M1550.5 1334V1418M1551.5 1371V1418M1552.5 1347V1407M1553.5 1347V1447M1554.5 1367V1449M1555.5 1335V1407M1556.5 1364V1433M1557.5 1364V1433M1558.5 1382V1454M1559.5 1367V1412M1560.5 1349V1414M1561.5 1337V1382M1562.5 1337V1395M1563.5 1382V1425M1564.5 1374V1419M1565.5 1389V1419M1566.5 1346V1418M1567.5 1381V1459M1568.5 1382V1459M1569.5 1389V1401M1570.5 1370V1422M1571.5 1394V1421M1572.5 1336V1421M1573.5 1381V1415M1574.5 1378V1440M1575.5 1339V1445M1576.5 1380V1415M1577.5 1380V1440M1578.5 1399V1440M1579.5 1370V1434M1580.5 1369V1431M1581.5 1385V1415M1582.5 1373V1443M1583.5 1366V1392M1584.5 1366V1413M1585.5 1398V1424M1586.5 1390V1417M1587.5 1375V1415M1588.5 1384V1435M1589.5 1362V1419M1590.5 1362V1405M1591.5 1392V1450M1592.5 1396V1441M1593.5 1403V1442M1594.5 1365V1442M1595.5 1365V1420M1596.5 1377V1415M1597.5 1377V1437M1598.5 1400V1439M1599.5 1402V1420M1600.5 1384V1436M1601.5 1411V1429M1602.5 1370V1418M1603.5 1370V1454M1604.5 1381V1433M1605.5 1397V1462M1606.5 1375V1462M1607.5 1376V1402M1608.5 1383V1441M1609.5 1416V1438M1610.5 1363V1438M1611.5 1361V1432M1612.5 1377V1426M1613.5 1386V1426M1614.5 1368V1430M1615.5 1381V1423M1616.5 1363V1429M1617.5 1400V1420M1618.5 1365V1420M1619.5 1343V1433M1620.5 1343V1437M1621.5 1393V1435M1622.5 1388V1416M1623.5 1395V1422M1624.5 1341V1420M1625.5 1341V1388M1626.5 1370V1429M1627.5 1367V1416M1628.5 1384V1410M1629.5 1380V1406M1630.5 1366V1418M1631.5 1366V1417M1632.5 1375V1419M1633.5 1375V1426M1634.5 1375V1416M1635.5 1402V1445M1636.5 1407V1445M1637.5 1367V1416M1638.5 1382V1404M1639.5 1382V1412M1640.5 1373V1412M1641.5 1373V1425M1642.5 1380V1410M1643.5 1401V1450M1644.5 1393V1408M1645.5 1366V1394M1646.5 1331V1406M1647.5 1390V1405M1648.5 1361V1401M1649.5 1376V1426M1650.5 1357V1412M1651.5 1374V1412M1652.5 1395V1413M1653.5 1390V1436M1654.5 1410V1436M1655.5 1394V1439M1656.5 1375V1411M1657.5 1366V1455M1658.5 1371V1426M1659.5 1390V1446M1660.5 1369V1443M1661.5 1352V1443M1662.5 1378V1418M1663.5 1377V1407M1664.5 1353V1422M1665.5 1353V1446M1666.5 1395V1446M1667.5 1371V1441M1668.5 1350V1449M1669.5 1375V1449M1670.5 1384V1422M1671.5 1383V1430M1672.5 1407V1418M1673.5 1410V1440M1674.5 1396V1441M1675.5 1388V1429M1676.5 1373V1405M1677.5 1364V1399M1678.5 1375V1429M1679.5 1375V1418M1680.5 1362V1407M1681.5 1389V1443M1682.5 1380V1443M1683.5 1360V1392M1684.5 1348V1391M1685.5 1340V1377M1686.5 1321V1429M1687.5 1321V1433M1688.5 1413V1449M1689.5 1397V1444M1690.5 1372V1464M1691.5 1374V1440M1692.5 1374V1418M1693.5 1392V1424M1694.5 1382V1452M1695.5 1419V1452M1696.5 1398V1425M1697.5 1419V1455M1698.5 1390V1436M1699.5 1404V1430M1700.5 1381V1432M1701.5 1400V1422M1702.5 1353V1419M1703.5 1419V1447M1704.5 1385V1419M1705.5 1385V1481M1706.5 1373V1470M1707.5 1373V1429M1708.5 1401V1416M1709.5 1397V1477M1710.5 1373V1419M1711.5 1380V1438M1712.5 1409V1452M1713.5 1395V1452M1714.5 1404V1416M1715.5 1406V1426M1716.5 1385V1420M1717.5 1376V1438M1718.5 1376V1432M1719.5 1387V1432M1720.5 1387V1407M1721.5 1397V1458M1722.5 1371V1444M1723.5 1403V1444M1724.5 1403V1410M1725.5 1402V1437M1726.5 1356V1440M1727.5 1356V1418M1728.5 1379V1414M1729.5 1374V1425M1730.5 1374V1421M1731.5 1421V1482M1732.5 1404V1482M1733.5 1403V1461M1734.5 1392V1429M1735.5 1374V1438M1736.5 1387V1455M1737.5 1387V1403M1738.5 1360V1447M1739.5 1386V1447M1740.5 1396V1431M1741.5 1418V1426M1742.5 1385V1426M1743.5 1366V1415M1744.5 1366V1412M1745.5 1388V1410M1746.5 1388V1421M1747.5 1397V1421M1748.5 1390V1422M1749.5 1377V1422M1750.5 1377V1459M1751.5 1400V1457M1752.5 1393V1457M1753.5 1381V1450M1754.5 1400V1426M1755.5 1380V1432M1756.5 1385V1459M1757.5 1385V1442M1758.5 1388V1428M1759.5 1409V1428M1760.5 1403V1437M1761.5 1395V1458M1762.5 1410V1458M1763.5 1390V1447M1764.5 1392V1424M1765.5 1349V1424M1766.5 1384V1444M1767.5 1385V1437M1768.5 1359V1437M1769.5 1389V1410M1770.5 1389V1448M1771.5 1401V1447M1772.5 1393V1462M1773.5 1389V1426M1774.5 1396V1432M1775.5 1368V1431M1776.5 1404V1436M1777.5 1364V1405M1778.5 1393V1420M1779.5 1415V1452M1780.5 1401V1453M1781.5 1378V1453M1782.5 1396V1441M1783.5 1381V1426M1784.5 1381V1422M1785.5 1381V1411M1786.5 1381V1436M1787.5 1400V1436M1788.5 1400V1409M1789.5 1384V1413M1790.5 1359V1413M1791.5 1398V1408M1792.5 1404V1426M1793.5 1396V1427M1794.5 1395V1445M1795.5 1385V1418M1796.5 1368V1418M1797.5 1397V1434M1798.5 1426V1434M1799.5 1404V1447M1800.5 1404V1429M1801.5 1361V1424M1802.5 1361V1426M1803.5 1380V1425M1804.5 1381V1451M1805.5 1391V1451M1806.5 1376V1433M1807.5 1384V1414M1808.5 1384V1466M1809.5 1345V1466M1810.5 1387V1417M1811.5 1393V1417M1812.5 1400V1416M1813.5 1404V1440M1814.5 1400V1418M1815.5 1413V1452M1816.5 1387V1452M1817.5 1381V1428M1818.5 1387V1437M1819.5 1374V1409M1820.5 1374V1426M1821.5 1382V1426M1822.5 1382V1419M1823.5 1414V1444M1824.5 1407V1444M1825.5 1381V1423M1826.5 1381V1403M1827.5 1380V1400M1828.5 1387V1418M1829.5 1386V1416M1830.5 1386V1430M1831.5 1377V1436M1832.5 1394V1436M1833.5 1361V1431M1834.5 1387V1438M1835.5 1369V1409M1836.5 1357V1409M1837.5 1357V1425M1838.5 1380V1414M1839.5 1380V1406M1840.5 1391V1421M1841.5 1389V1422M1842.5 1399V1405M1843.5 1391V1412M1844.5 1380V1427M1845.5 1374V1398M1846.5 1386V1458M1847.5 1379V1458M1848.5 1358V1449M1849.5 1374V1449M1850.5 1386V1411M1851.5 1383V1395M1852.5 1395V1429M1853.5 1399V1429M1854.5 1386V1417M1855.5 1386V1420M1856.5 1411V1424M1857.5 1405V1425M1858.5 1395V1416M1859.5 1402V1419M1860.5 1362V1419M1861.5 1379V1407M1862.5 1362V1440M1863.5 1386V1440M1864.5 1401V1436M1865.5 1379V1420M1866.5 1379V1436M1867.5 1392V1438M1868.5 1378V1450M1869.5 1378V1456M1870.5 1407V1432M1871.5 1400V1439M1872.5 1400V1436M1873.5 1373V1414M1874.5 1392V1444M1875.5 1376V1411M1876.5 1376V1430M1877.5 1387V1430M1878.5 1394V1433M1879.5 1412V1445M1880.5 1398V1468M1881.5 1418V1438M1882.5 1418V1464M1883.5 1406V1435M1884.5 1378V1458M1885.5 1444V1463M1886.5 1414V1463M1887.5 1389V1439M1888.5 1384V1429M1889.5 1427V1441M1890.5 1406V1441M1891.5 1401V1453M1892.5 1396V1453M1893.5 1396V1439M1894.5 1412V1439M1895.5 1394V1452M1896.5 1391V1432M1897.5 1411V1432M1898.5 1401V1430M1899.5 1350V1442M1900.5 1396V1442M1901.5 1393V1421M1902.5 1397V1426M1903.5 1395V1420M1904.5 1377V1399M1905.5 1377V1418M1906.5 1381V1442M1907.5 1403V1465M1908.5 1385V1411M1909.5 1405V1441M1910.5 1390V1437M1911.5 1379V1444M1912.5 1379V1427M1913.5 1369V1454M1914.5 1369V1411M1915.5 1371V1419M1916.5 1395V1408M1917.5 1387V1429M1918.5 1423V1430M1919.5 1371V1430M1920.5 1371V1428M1921.5 1396V1414M1922.5 1374V1412M1923.5 1366V1409M1924.5 1393V1429M1925.5 1408V1446M1926.5 1386V1446M1927.5 1392V1416M1928.5 1352V1408M1929.5 1343V1453M1930.5 1407V1471M1931.5 1366V1453M1932.5 1378V1406M1933.5 1399V1438M1934.5 1368V1428M1935.5 1368V1411M1936.5 1390V1440M1937.5 1381V1445M1938.5 1385V1417M1939.5 1391V1409M1940.5 1398V1414M1941.5 1375V1416M1942.5 1398V1434M1943.5 1407V1423M1944.5 1367V1418M1945.5 1383V1416M1946.5 1408V1444M1947.5 1400V1424M1948.5 1374V1415M1949.5 1374V1453M1950.5 1384V1433M1951.5 1403V1427M1952.5 1403V1453M1953.5 1412V1453M1954.5 1403V1444M1955.5 1415V1444M1956.5 1370V1430M1957.5 1370V1435M1958.5 1407V1435M1959.5 1427V1454M1960.5 1390V1443M1961.5 1385V1430M1962.5 1385V1419M1963.5 1401V1429M1964.5 1402V1448M1965.5 1430V1441M1966.5 1394V1441M1967.5 1394V1437M1968.5 1429V1438M1969.5 1417V1432M1970.5 1411V1434M1971.5 1381V1445M1972.5 1395V1445M1973.5 1354V1454M1974.5 1373V1426M1975.5 1389V1422M1976.5 1409V1421M1977.5 1393V1419M1978.5 1380V1445M1979.5 1405V1449M1980.5 1373V1449M1981.5 1390V1441M1982.5 1397V1434M1983.5 1391V1453M1984.5 1386V1453M1985.5 1426V1471M1986.5 1409V1431M1987.5 1409V1424M1988.5 1398V1472M1989.5 1393V1435M1990.5 1401V1428M1991.5 1401V1476M1992.5 1388V1437M1993.5 1391V1479M1994.5 1384V1457M1995.5 1408V1446M1996.5 1410V1446M1997.5 1398V1438M1998.5 1379V1454M1999.5 1379V1409M2000.5 1406V1437M2001.5 1393V1421" fill="none" stroke="#cacaca" stroke-width="1.0"/>
<path d="M244.5 1498V1547M245.5 1498V1538M246.5 1530V1542M247.5 1529V1547M248.5 1524V1535M249.5 1525V1535M250.5 1525V1536M251.5 1523V1536M252.5 1509V1524M253.5 1509V1544M254.5 1525V1540M255.5 1531V1546M256.5 1529V1542M257.5 1515V1541M258.5 1509V1538M259.5 1526V1535M260.5 1515V1526M261.5 1515V1534M262.5 1520V1534M263.5 1510V1530M264.5 1508V1530M265.5 1516V1531M266.5 1526V1531M267.5 1517V1529M268.5 1517V1539M269.5 1524V1539M270.5 1523V1535M271.5 1532V1535M272.5 1528V1542M273.5 1521V1542M274.5 1519V1531M275.5 1519V1531M276.5 1519V1537M277.5 1497V1537M278.5 1497V1515M279.5 1512V1520M280.5 1520V1543M281.5 1516V1531M282.5 1525V1531M283.5 1516V1525M284.5 1503V1528M285.5 1503V1534M286.5 1517V1534M287.5 1512V1521M288.5 1510V1521M289.5 1519V1539M290.5 1519V1534M291.5 1519V1537M292.5 1508V1537M293.5 1519V1525M294.5 1525V1539M295.5 1507V1530M296.5 1513V1520M297.5 1512V1544M298.5 1512V1526M299.5 1516V1532M300.5 1523V1527M301.5 1514V1536M302.5 1512V1517M303.5 1512V1538M304.5 1514V1521M305.5 1520V1550M306.5 1523V1534M307.5 1518V1530M308.5 1518V1522M309.5 1503V1552M310.5 1527V1552M311.5 1517V1527M312.5 1517V1535M313.5 1511V1530M314.5 1511V1546M315.5 1523V1546M316.5 1526V1537M317.5 1526V1537M318.5 1520V1529M319.5 1520V1529M320.5 1520V1531M321.5 1517V1530M322.5 1525V1556M323.5 1527V1552M324.5 1501V1552M325.5 1501V1511M326.5 1511V1536M327.5 1504V1538M328.5 1514V1538M329.5 1529V1531M330.5 1526V1531M331.5 1515V1529M332.5 1529V1536M333.5 1536V1553M334.5 1534V1543M335.5 1514V1543M336.5 1504V1539M337.5 1532V1539M338.5 1523V1535M339.5 1530V1545M340.5 1515V1530M341.5 1515V1540M342.5 1499V1515M343.5 1502V1534M344.5 1518V1534M345.5 1512V1524M346.5 1519V1524M347.5 1517V1522M348.5 1501V1543M349.5 1501V1526M350.5 1514V1532M351.5 1522V1530M352.5 1526V1535M353.5 1510V1535M354.5 1522V1534M355.5 1528V1540M356.5 1500V1544M357.5 1500V1534M358.5 1512V1534M359.5 1522V1542M360.5 1515V1533M361.5 1526V1532M362.5 1525V1527M363.5 1511V1527M364.5 1517V1531M365.5 1518V1531M366.5 1518V1534M367.5 1528V1535M368.5 1525V1535M369.5 1526V1530M370.5 1506V1541M371.5 1506V1527M372.5 1510V1532M373.5 1529V1539M374.5 1502V1539M375.5 1502V1544M376.5 1529V1544M377.5 1512V1549M378.5 1506V1549M379.5 1526V1530M380.5 1514V1529M381.5 1520V1536M382.5 1511V1525M383.5 1523V1525M384.5 1516V1529M385.5 1511V1529M386.5 1511V1525M387.5 1505V1524M388.5 1505V1527M389.5 1525V1532M390.5 1523V1529M391.5 1529V1540M392.5 1515V1540M393.5 1500V1525M394.5 1500V1521M395.5 1516V1526M396.5 1505V1526M397.5 1505V1517M398.5 1513V1525M399.5 1511V1529M400.5 1519V1535M401.5 1506V1530M402.5 1506V1532M403.5 1504V1532M404.5 1513V1534M405.5 1516V1535M406.5 1495V1524M407.5 1495V1532M408.5 1498V1537M409.5 1498V1527M410.5 1496V1520M411.5 1516V1532M412.5 1518V1532M413.5 1518V1528M414.5 1513V1523M415.5 1513V1525M416.5 1518V1542M417.5 1518V1539M418.5 1513V1535M419.5 1513V1519M420.5 1519V1531M421.5 1524V1529M422.5 1523V1532M423.5 1515V1526M424.5 1522V1539M425.5 1519V1539M426.5 1517V1532M427.5 1527V1532M428.5 1503V1527M429.5 1503V1527M430.5 1499V1535M431.5 1499V1517M432.5 1500V1516M433.5 1513V1529M434.5 1511V1515M435.5 1515V1545M436.5 1502V1545M437.5 1514V1532M438.5 1524V1536M439.5 1509V1536M440.5 1508V1520M441.5 1507V1518M442.5 1507V1543M443.5 1509V1524M444.5 1514V1539M445.5 1515V1528M446.5 1527V1532M447.5 1515V1527M448.5 1502V1521M449.5 1517V1523M450.5 1509V1520M451.5 1509V1545M452.5 1511V1516M453.5 1515V1530M454.5 1497V1530M455.5 1516V1528M456.5 1520V1533M457.5 1515V1531M458.5 1521V1541M459.5 1521V1536M460.5 1521V1531M461.5 1510V1525M462.5 1510V1525M463.5 1514V1532M464.5 1514V1534M465.5 1515V1532M466.5 1508V1524M467.5 1508V1516M468.5 1509V1527M469.5 1500V1516M470.5 1516V1537M471.5 1509V1534M472.5 1508V1519M473.5 1508V1513M474.5 1504V1512M475.5 1508V1518M476.5 1502V1518M477.5 1504V1516M478.5 1502V1559M479.5 1528V1559M480.5 1512V1529M481.5 1512V1517M482.5 1517V1521M483.5 1481V1531M484.5 1481V1521M485.5 1509V1521M486.5 1512V1530M487.5 1513V1533M488.5 1501V1516M489.5 1490V1508M490.5 1508V1513M491.5 1497V1520M492.5 1512V1520M493.5 1504V1531M494.5 1517V1531M495.5 1512V1517M496.5 1517V1546M497.5 1510V1546M498.5 1495V1546M499.5 1503V1546M500.5 1522V1531M501.5 1499V1531M502.5 1499V1522M503.5 1499V1530M504.5 1499V1515M505.5 1504V1517M506.5 1517V1528M507.5 1504V1523M508.5 1523V1528M509.5 1501V1527M510.5 1501V1525M511.5 1514V1525M512.5 1509V1531M513.5 1507V1531M514.5 1507V1519M515.5 1508V1524M516.5 1508V1521M517.5 1521V1541M518.5 1501V1521M519.5 1495V1518M520.5 1495V1509M521.5 1509V1530M522.5 1524V1530M523.5 1510V1524M524.5 1514V1530M525.5 1507V1530M526.5 1508V1530M527.5 1508V1520M528.5 1515V1516M529.5 1515V1522M530.5 1507V1517M531.5 1493V1508M532.5 1508V1526M533.5 1506V1516M534.5 1504V1517M535.5 1517V1537M536.5 1524V1535M537.5 1502V1524M538.5 1502V1516M539.5 1511V1526M540.5 1511V1522M541.5 1508V1549M542.5 1508V1530M543.5 1510V1524M544.5 1510V1521M545.5 1521V1528M546.5 1512V1527M547.5 1512V1522M548.5 1507V1528M549.5 1505V1528M550.5 1497V1519M551.5 1497V1523M552.5 1513V1523M553.5 1520V1541M554.5 1523V1533M555.5 1511V1523M556.5 1513V1517M557.5 1507V1517M558.5 1504V1533M559.5 1504V1527M560.5 1508V1527M561.5 1508V1536M562.5 1511V1536M563.5 1511V1521M564.5 1493V1516M565.5 1516V1526M566.5 1497V1526M567.5 1497V1526M568.5 1511V1525M569.5 1512V1525M570.5 1505V1512M571.5 1506V1512M572.5 1489V1515M573.5 1489V1511M574.5 1503V1511M575.5 1497V1518M576.5 1498V1529M577.5 1493V1523M578.5 1486V1511M579.5 1486V1515M580.5 1509V1523M581.5 1508V1523M582.5 1499V1509M583.5 1501V1509M584.5 1504V1526M585.5 1512V1519M586.5 1492V1516M587.5 1490V1510M588.5 1502V1514M589.5 1511V1518M590.5 1510V1511M591.5 1510V1526M592.5 1493V1525M593.5 1507V1525M594.5 1503V1513M595.5 1496V1512M596.5 1506V1512M597.5 1494V1508M598.5 1497V1509M599.5 1498V1517M600.5 1498V1518M601.5 1512V1518M602.5 1508V1518M603.5 1496V1510M604.5 1496V1519M605.5 1491V1519M606.5 1502V1517M607.5 1505V1512M608.5 1507V1524M609.5 1507V1528M610.5 1509V1516M611.5 1495V1516M612.5 1495V1515M613.5 1503V1517M614.5 1503V1527M615.5 1499V1520M616.5 1495V1521M617.5 1492V1516M618.5 1492V1533M619.5 1514V1533M620.5 1496V1514M621.5 1496V1511M622.5 1494V1511M623.5 1508V1512M624.5 1503V1511M625.5 1493V1506M626.5 1483V1506M627.5 1497V1527M628.5 1477V1527M629.5 1477V1522M630.5 1503V1515M631.5 1491V1515M632.5 1490V1518M633.5 1478V1518M634.5 1509V1517M635.5 1517V1526M636.5 1515V1524M637.5 1511V1518M638.5 1494V1518M639.5 1486V1504M640.5 1486V1530M641.5 1503V1530M642.5 1484V1503M643.5 1484V1498M644.5 1495V1505M645.5 1481V1505M646.5 1481V1521M647.5 1499V1509M648.5 1499V1517M649.5 1488V1517M650.5 1472V1488M651.5 1472V1509M652.5 1502V1515M653.5 1488V1510M654.5 1488V1505M655.5 1478V1497M656.5 1470V1512M657.5 1470V1505M658.5 1488V1505M659.5 1490V1506M660.5 1483V1494M661.5 1475V1499M662.5 1499V1508M663.5 1496V1511M664.5 1479V1511M665.5 1488V1501M666.5 1479V1500M667.5 1479V1497M668.5 1477V1497M669.5 1489V1504M670.5 1479V1504M671.5 1487V1503M672.5 1483V1501M673.5 1481V1501M674.5 1494V1499M675.5 1476V1499M676.5 1489V1508M677.5 1481V1508M678.5 1481V1487M679.5 1470V1485M680.5 1459V1470M681.5 1467V1491M682.5 1472V1491M683.5 1472V1485M684.5 1485V1520M685.5 1463V1500M686.5 1463V1479M687.5 1477V1509M688.5 1453V1509M689.5 1453V1477M690.5 1456V1494M691.5 1458V1494M692.5 1458V1495M693.5 1465V1495M694.5 1470V1485M695.5 1480V1485M696.5 1471V1483M697.5 1471V1483M698.5 1464V1483M699.5 1480V1485M700.5 1464V1485M701.5 1461V1482M702.5 1477V1482M703.5 1461V1480M704.5 1461V1482M705.5 1477V1494M706.5 1492V1494M707.5 1450V1492M708.5 1450V1470M709.5 1461V1488M710.5 1457V1491M711.5 1491V1515M712.5 1493V1515M713.5 1469V1508M714.5 1459V1491M715.5 1459V1492M716.5 1448V1501M717.5 1459V1509M718.5 1453V1509M719.5 1461V1475M720.5 1449V1473M721.5 1473V1477M722.5 1446V1477M723.5 1461V1480M724.5 1462V1480M725.5 1460V1488M726.5 1453V1488M727.5 1433V1490M728.5 1439V1490M729.5 1439V1486M730.5 1467V1486M731.5 1455V1479M732.5 1455V1463M733.5 1452V1468M734.5 1452V1487M735.5 1452V1466M736.5 1465V1474M737.5 1464V1484M738.5 1458V1476M739.5 1456V1488M740.5 1447V1461M741.5 1456V1469M742.5 1456V1472M743.5 1452V1482M744.5 1452V1470M745.5 1470V1481M746.5 1458V1481M747.5 1468V1488M748.5 1448V1488M749.5 1448V1473M750.5 1462V1485M751.5 1453V1469M752.5 1453V1482M753.5 1445V1482M754.5 1445V1474M755.5 1449V1460M756.5 1447V1472M757.5 1447V1457M758.5 1422V1457M759.5 1422V1462M760.5 1437V1457M761.5 1440V1450M762.5 1434V1453M763.5 1453V1465M764.5 1437V1465M765.5 1437V1481M766.5 1442V1481M767.5 1430V1446M768.5 1421V1457M769.5 1434V1457M770.5 1423V1447M771.5 1415V1435M772.5 1428V1461M773.5 1412V1455M774.5 1412V1449M775.5 1411V1468M776.5 1411V1438M777.5 1424V1443M778.5 1426V1440M779.5 1426V1444M780.5 1441V1461M781.5 1429V1441M782.5 1405V1462M783.5 1404V1423M784.5 1423V1451M785.5 1445V1451M786.5 1427V1448M787.5 1417V1442M788.5 1419V1442M789.5 1423V1446M790.5 1423V1425M791.5 1424V1443M792.5 1420V1435M793.5 1434V1455M794.5 1422V1434M795.5 1412V1428M796.5 1421V1428M797.5 1421V1445M798.5 1422V1428M799.5 1393V1433M800.5 1393V1444M801.5 1403V1444M802.5 1404V1428M803.5 1404V1424M804.5 1383V1418M805.5 1408V1432M806.5 1405V1411M807.5 1409V1430M808.5 1396V1430M809.5 1396V1432M810.5 1427V1432M811.5 1388V1429M812.5 1388V1413M813.5 1383V1413M814.5 1400V1422M815.5 1400V1446M816.5 1389V1424M817.5 1391V1422M818.5 1399V1422M819.5 1399V1422M820.5 1379V1422M821.5 1379V1391M822.5 1376V1421M823.5 1394V1421M824.5 1390V1411M825.5 1411V1417M826.5 1388V1427M827.5 1388V1449M828.5 1395V1449M829.5 1398V1426M830.5 1390V1426M831.5 1390V1441M832.5 1355V1413M833.5 1413V1434M834.5 1434V1459M835.5 1386V1459M836.5 1377V1434M837.5 1373V1434M838.5 1365V1405M839.5 1394V1407M840.5 1385V1407M841.5 1387V1409M842.5 1396V1410M843.5 1393V1405M844.5 1392V1405M845.5 1388V1405M846.5 1388V1398M847.5 1398V1408M848.5 1399V1403M849.5 1388V1403M850.5 1359V1400M851.5 1356V1400M852.5 1356V1421M853.5 1374V1421M854.5 1374V1407M855.5 1378V1398M856.5 1384V1392M857.5 1365V1400M858.5 1365V1431M859.5 1377V1431M860.5 1377V1417M861.5 1386V1417M862.5 1382V1437M863.5 1382V1397M864.5 1385V1396M865.5 1378V1400M866.5 1392V1411M867.5 1394V1411M868.5 1380V1412M869.5 1369V1393M870.5 1365V1406M871.5 1363V1395M872.5 1353V1378M873.5 1353V1356M874.5 1353V1379M875.5 1374V1381M876.5 1361V1378M877.5 1356V1395M878.5 1348V1374M879.5 1359V1402M880.5 1340V1359M881.5 1339V1344M882.5 1337V1378M883.5 1357V1381M884.5 1356V1371M885.5 1353V1371M886.5 1350V1363M887.5 1350V1417M888.5 1350V1417M889.5 1332V1356M890.5 1340V1357M891.5 1324V1357M892.5 1324V1356M893.5 1337V1355M894.5 1342V1345M895.5 1302V1371M896.5 1326V1371M897.5 1333V1356M898.5 1316V1356M899.5 1324V1356M900.5 1333V1352M901.5 1306V1333M902.5 1324V1351M903.5 1307V1357M904.5 1301V1317M905.5 1301V1368M906.5 1329V1368M907.5 1320V1357M908.5 1310V1357M909.5 1302V1363M910.5 1302V1342M911.5 1342V1369M912.5 1310V1369M913.5 1310V1349M914.5 1296V1330M915.5 1274V1303M916.5 1274V1332M917.5 1300V1332M918.5 1300V1343M919.5 1312V1343M920.5 1298V1313M921.5 1313V1341M922.5 1313V1365M923.5 1274V1365M924.5 1274V1337M925.5 1293V1337M926.5 1293V1368M927.5 1266V1368M928.5 1266V1318M929.5 1311V1326M930.5 1300V1318M931.5 1300V1332M932.5 1294V1322M933.5 1294V1342M934.5 1302V1316M935.5 1287V1312M936.5 1298V1330M937.5 1325V1331M938.5 1304V1328M939.5 1306V1350M940.5 1272V1306M941.5 1295V1306M942.5 1279V1303M943.5 1279V1310M944.5 1282V1312M945.5 1274V1286M946.5 1253V1332M947.5 1253V1317M948.5 1281V1317M949.5 1281V1297M950.5 1284V1335M951.5 1268V1291M952.5 1267V1291M953.5 1267V1292M954.5 1261V1295M955.5 1260V1308M956.5 1267V1308M957.5 1242V1284M958.5 1242V1275M959.5 1232V1318M960.5 1232V1290M961.5 1223V1290M962.5 1223V1287M963.5 1248V1277M964.5 1248V1275M965.5 1254V1275M966.5 1254V1293M967.5 1253V1304M968.5 1266V1304M969.5 1275V1280M970.5 1209V1276M971.5 1209V1283M972.5 1236V1283M973.5 1222V1263M974.5 1245V1295M975.5 1236V1264M976.5 1214V1266M977.5 1248V1271M978.5 1245V1271M979.5 1221V1245M980.5 1221V1249M981.5 1224V1281M982.5 1220V1257M983.5 1220V1263M984.5 1230V1263M985.5 1225V1268M986.5 1232V1268M987.5 1212V1300M988.5 1250V1300M989.5 1247V1290M990.5 1225V1247M991.5 1203V1267M992.5 1203V1260M993.5 1240V1265M994.5 1182V1254M995.5 1182V1250M996.5 1229V1250M997.5 1188V1229M998.5 1174V1216M999.5 1203V1224M1000.5 1203V1226M1001.5 1203V1235M1002.5 1168V1203M1003.5 1177V1208M1004.5 1186V1208M1005.5 1186V1206M1006.5 1167V1218M1007.5 1167V1230M1008.5 1169V1207M1009.5 1169V1210M1010.5 1180V1242M1011.5 1197V1242M1012.5 1178V1207M1013.5 1178V1243M1014.5 1186V1209M1015.5 1175V1227M1016.5 1173V1227M1017.5 1138V1173M1018.5 1138V1211M1019.5 1163V1211M1020.5 1163V1214M1021.5 1207V1220M1022.5 1135V1220M1023.5 1159V1203M1024.5 1164V1203M1025.5 1140V1206M1026.5 1140V1164M1027.5 1138V1179M1028.5 1138V1231M1029.5 1170V1231M1030.5 1104V1191M1031.5 1143V1193M1032.5 1182V1209M1033.5 1165V1209M1034.5 1158V1173M1035.5 1110V1208M1036.5 1107V1208M1037.5 1122V1189M1038.5 1177V1203M1039.5 1142V1203M1040.5 1126V1173M1041.5 1126V1170M1042.5 1097V1170M1043.5 1095V1145M1044.5 1095V1173M1045.5 1137V1184M1046.5 1108V1184M1047.5 1155V1186M1048.5 1106V1186M1049.5 1089V1119M1050.5 1089V1144M1051.5 1120V1149M1052.5 1101V1162M1053.5 1101V1158M1054.5 1108V1158M1055.5 1094V1170M1056.5 1110V1172M1057.5 1110V1144M1058.5 1130V1152M1059.5 1104V1178M1060.5 1104V1154M1061.5 1108V1137M1062.5 1079V1113M1063.5 1103V1141M1064.5 1078V1121M1065.5 1097V1125M1066.5 1097V1136M1067.5 1129V1150M1068.5 1121V1156M1069.5 1071V1121M1070.5 1071V1149M1071.5 1096V1149M1072.5 1096V1123M1073.5 1077V1096M1074.5 1077V1133M1075.5 1126V1141M1076.5 1110V1176M1077.5 1148V1176M1078.5 1122V1155M1079.5 1081V1155M1080.5 1081V1136M1081.5 1095V1147M1082.5 1087V1125M1083.5 1087V1130M1084.5 1088V1130M1085.5 1073V1104M1086.5 1072V1104M1087.5 1072V1116M1088.5 1087V1173M1089.5 1144V1193M1090.5 1061V1193M1091.5 1059V1106M1092.5 1059V1135M1093.5 1131V1137M1094.5 1102V1137M1095.5 1105V1114M1096.5 1094V1133M1097.5 1085V1104M1098.5 1085V1134M1099.5 1093V1111M1100.5 1056V1094M1101.5 1045V1106M1102.5 1073V1146M1103.5 1091V1146M1104.5 1077V1107M1105.5 1037V1077M1106.5 1037V1092M1107.5 1052V1144M1108.5 1074V1111M1109.5 1108V1146M1110.5 1098V1146M1111.5 1098V1157M1112.5 1056V1157M1113.5 1056V1107M1114.5 1087V1131M1115.5 1113V1131M1116.5 1063V1162M1117.5 1063V1115M1118.5 1115V1127M1119.5 1113V1141M1120.5 1069V1127M1121.5 1069V1120M1122.5 1079V1164M1123.5 1111V1164M1124.5 1125V1151M1125.5 1133V1151M1126.5 1094V1146M1127.5 1066V1173M1128.5 1073V1173M1129.5 1110V1134M1130.5 1071V1110M1131.5 1104V1116M1132.5 1093V1116M1133.5 1074V1137M1134.5 1081V1206M1135.5 1080V1206M1136.5 1080V1102M1137.5 1093V1131M1138.5 1074V1131M1139.5 1070V1106M1140.5 1106V1120M1141.5 1085V1110M1142.5 1090V1124M1143.5 1084V1124M1144.5 1074V1121M1145.5 1056V1116M1146.5 1029V1056M1147.5 1047V1074M1148.5 1047V1117M1149.5 1064V1117M1150.5 1041V1114M1151.5 1041V1099M1152.5 1075V1098M1153.5 1050V1075M1154.5 1039V1064M1155.5 1046V1085M1156.5 1046V1110M1157.5 1020V1070M1158.5 1020V1105M1159.5 1022V1096M1160.5 1022V1100M1161.5 1037V1071M1162.5 1010V1049M1163.5 1028V1080M1164.5 1016V1063M1165.5 971V1045M1166.5 1045V1093M1167.5 1027V1085M1168.5 1057V1085M1169.5 1034V1074M1170.5 1031V1074M1171.5 1018V1071M1172.5 1018V1080M1173.5 1012V1080M1174.5 976V1044M1175.5 976V1010M1176.5 995V1008M1177.5 990V1056M1178.5 990V1031M1179.5 962V1057M1180.5 962V975M1181.5 975V1031M1182.5 996V1031M1183.5 991V1046M1184.5 991V1060M1185.5 983V1060M1186.5 982V1035M1187.5 968V1035M1188.5 975V1042M1189.5 973V1052M1190.5 904V1019M1191.5 904V1092M1192.5 1026V1092M1193.5 968V1026M1194.5 968V1039M1195.5 983V1029M1196.5 987V1029M1197.5 987V1075M1198.5 979V1075M1199.5 984V1039M1200.5 979V1007M1201.5 1007V1033M1202.5 989V1033M1203.5 990V1024M1204.5 990V1032M1205.5 968V1026M1206.5 959V1018M1207.5 982V1063M1208.5 1009V1054M1209.5 1033V1067M1210.5 993V1067M1211.5 993V1019M1212.5 944V1019M1213.5 994V1029M1214.5 983V1011M1215.5 983V1018M1216.5 1010V1053M1217.5 981V1053M1218.5 981V1049M1219.5 1004V1047M1220.5 1004V1054M1221.5 1006V1060M1222.5 993V1029M1223.5 987V1062M1224.5 1003V1062M1225.5 1003V1053M1226.5 1005V1062M1227.5 983V1020M1228.5 1020V1080M1229.5 1049V1068M1230.5 1062V1068M1231.5 1055V1067M1232.5 1045V1074M1233.5 1045V1087M1234.5 1068V1070M1235.5 1068V1103M1236.5 1051V1116M1237.5 1040V1103M1238.5 1040V1092M1239.5 1066V1083M1240.5 1066V1117M1241.5 1053V1117M1242.5 1103V1130M1243.5 1086V1130M1244.5 1086V1151M1245.5 1098V1142M1246.5 1106V1133M1247.5 1106V1176M1248.5 1124V1176M1249.5 1124V1191M1250.5 1100V1208M1251.5 1100V1175M1252.5 1105V1175M1253.5 1105V1195M1254.5 1120V1147M1255.5 1135V1228M1256.5 1147V1228M1257.5 1121V1207M1258.5 1121V1201M1259.5 1199V1225M1260.5 1182V1209M1261.5 1172V1182M1262.5 1167V1234M1263.5 1167V1183M1264.5 1172V1205M1265.5 1200V1247M1266.5 1215V1247M1267.5 1153V1215M1268.5 1153V1199M1269.5 1167V1203M1270.5 1176V1225M1271.5 1176V1226M1272.5 1192V1214M1273.5 1205V1229M1274.5 1205V1247M1275.5 1230V1247M1276.5 1206V1237M1277.5 1198V1261M1278.5 1184V1205M1279.5 1203V1226M1280.5 1189V1274M1281.5 1215V1274M1282.5 1165V1260M1283.5 1199V1271M1284.5 1245V1271M1285.5 1236V1265M1286.5 1229V1265M1287.5 1232V1252M1288.5 1237V1285M1289.5 1224V1274M1290.5 1226V1250M1291.5 1241V1263M1292.5 1226V1272M1293.5 1248V1272M1294.5 1233V1292M1295.5 1262V1292M1296.5 1217V1265M1297.5 1217V1274M1298.5 1230V1267M1299.5 1240V1300M1300.5 1204V1296M1301.5 1204V1266M1302.5 1244V1311M1303.5 1223V1311M1304.5 1223V1296M1305.5 1234V1247M1306.5 1238V1265M1307.5 1259V1303M1308.5 1261V1281M1309.5 1241V1293M1310.5 1233V1289M1311.5 1270V1289M1312.5 1249V1325M1313.5 1249V1309M1314.5 1244V1309M1315.5 1272V1294M1316.5 1272V1275M1317.5 1245V1275M1318.5 1245V1298M1319.5 1281V1293M1320.5 1262V1293M1321.5 1266V1300M1322.5 1281V1307M1323.5 1261V1324M1324.5 1249V1269M1325.5 1249V1295M1326.5 1271V1335M1327.5 1242V1335M1328.5 1242V1334M1329.5 1264V1334M1330.5 1260V1283M1331.5 1258V1313M1332.5 1245V1269M1333.5 1269V1297M1334.5 1291V1317M1335.5 1284V1317M1336.5 1299V1313M1337.5 1262V1313M1338.5 1228V1282M1339.5 1263V1272M1340.5 1271V1328M1341.5 1258V1335M1342.5 1298V1335M1343.5 1291V1298M1344.5 1291V1310M1345.5 1290V1319M1346.5 1281V1319M1347.5 1281V1305M1348.5 1298V1308M1349.5 1265V1298M1350.5 1261V1294M1351.5 1294V1317M1352.5 1291V1302M1353.5 1288V1295M1354.5 1276V1328M1355.5 1276V1316M1356.5 1298V1321M1357.5 1297V1321M1358.5 1279V1317M1359.5 1279V1337M1360.5 1295V1337M1361.5 1307V1345M1362.5 1320V1364M1363.5 1304V1364M1364.5 1297V1356M1365.5 1295V1337M1366.5 1277V1337M1367.5 1259V1364M1368.5 1280V1364M1369.5 1280V1306M1370.5 1306V1351M1371.5 1295V1326M1372.5 1276V1330M1373.5 1276V1340M1374.5 1281V1336M1375.5 1281V1311M1376.5 1311V1358M1377.5 1296V1351M1378.5 1282V1321M1379.5 1301V1328M1380.5 1302V1328M1381.5 1279V1302M1382.5 1279V1328M1383.5 1280V1332M1384.5 1262V1318M1385.5 1306V1339M1386.5 1318V1339M1387.5 1306V1339M1388.5 1306V1375M1389.5 1303V1375M1390.5 1303V1323M1391.5 1306V1361M1392.5 1299V1361M1393.5 1299V1338M1394.5 1315V1324M1395.5 1315V1361M1396.5 1321V1361M1397.5 1312V1324M1398.5 1312V1352M1399.5 1343V1352M1400.5 1321V1345M1401.5 1321V1346M1402.5 1342V1370M1403.5 1321V1342M1404.5 1321V1359M1405.5 1333V1346M1406.5 1322V1346M1407.5 1320V1362M1408.5 1320V1327M1409.5 1321V1382M1410.5 1345V1382M1411.5 1330V1365M1412.5 1330V1344M1413.5 1335V1344M1414.5 1326V1341M1415.5 1326V1371M1416.5 1327V1348M1417.5 1324V1348M1418.5 1315V1334M1419.5 1334V1368M1420.5 1324V1347M1421.5 1324V1355M1422.5 1330V1334M1423.5 1325V1344M1424.5 1325V1344M1425.5 1309V1344M1426.5 1309V1359M1427.5 1311V1351M1428.5 1351V1374M1429.5 1307V1378M1430.5 1307V1357M1431.5 1324V1375M1432.5 1338V1375M1433.5 1338V1358M1434.5 1358V1394M1435.5 1322V1390M1436.5 1321V1363M1437.5 1331V1348M1438.5 1342V1358M1439.5 1335V1365M1440.5 1333V1365M1441.5 1333V1382M1442.5 1350V1359M1443.5 1353V1370M1444.5 1345V1354M1445.5 1347V1354M1446.5 1347V1391M1447.5 1351V1387M1448.5 1327V1354M1449.5 1353V1374M1450.5 1346V1368M1451.5 1346V1376M1452.5 1357V1380M1453.5 1347V1380M1454.5 1347V1379M1455.5 1361V1388M1456.5 1378V1389M1457.5 1371V1391M1458.5 1330V1391M1459.5 1330V1395M1460.5 1344V1384M1461.5 1331V1370M1462.5 1345V1370M1463.5 1336V1348M1464.5 1336V1386M1465.5 1351V1371M1466.5 1365V1375M1467.5 1357V1384M1468.5 1338V1410M1469.5 1338V1412M1470.5 1350V1412M1471.5 1361V1410M1472.5 1359V1400M1473.5 1359V1376M1474.5 1349V1366M1475.5 1342V1360M1476.5 1342V1375M1477.5 1374V1393M1478.5 1366V1380M1479.5 1342V1420M1480.5 1342V1416M1481.5 1377V1416M1482.5 1377V1393M1483.5 1345V1393M1484.5 1368V1388M1485.5 1379V1396M1486.5 1363V1379M1487.5 1363V1388M1488.5 1375V1403M1489.5 1351V1403M1490.5 1351V1398M1491.5 1344V1417M1492.5 1364V1417M1493.5 1364V1393M1494.5 1393V1415M1495.5 1353V1401M1496.5 1353V1395M1497.5 1350V1395M1498.5 1350V1387M1499.5 1357V1392M1500.5 1392V1404M1501.5 1359V1393M1502.5 1370V1375M1503.5 1370V1394M1504.5 1379V1385M1505.5 1354V1385M1506.5 1354V1383M1507.5 1374V1394M1508.5 1377V1403M1509.5 1359V1403M1510.5 1359V1414M1511.5 1356V1406M1512.5 1356V1404M1513.5 1380V1404M1514.5 1377V1397M1515.5 1377V1410M1516.5 1397V1410M1517.5 1397V1406M1518.5 1370V1406M1519.5 1370V1416M1520.5 1387V1417M1521.5 1357V1417M1522.5 1357V1384M1523.5 1367V1373M1524.5 1342V1391M1525.5 1362V1391M1526.5 1348V1392M1527.5 1379V1392M1528.5 1385V1392M1529.5 1350V1392M1530.5 1350V1395M1531.5 1351V1395M1532.5 1354V1405M1533.5 1354V1404M1534.5 1347V1368M1535.5 1366V1395M1536.5 1337V1395M1537.5 1356V1359M1538.5 1356V1378M1539.5 1366V1376M1540.5 1364V1397M1541.5 1364V1392M1542.5 1377V1392M1543.5 1377V1393M1544.5 1380V1387M1545.5 1380V1400M1546.5 1369V1400M1547.5 1390V1394M1548.5 1360V1394M1549.5 1360V1404M1550.5 1365V1404M1551.5 1385V1402M1552.5 1379V1389M1553.5 1379V1398M1554.5 1390V1415M1555.5 1372V1395M1556.5 1372V1408M1557.5 1383V1409M1558.5 1381V1388M1559.5 1374V1399M1560.5 1382V1418M1561.5 1351V1418M1562.5 1357V1391M1563.5 1376V1391M1564.5 1333V1394M1565.5 1362V1417M1566.5 1378V1417M1567.5 1378V1421M1568.5 1371V1421M1569.5 1345V1389M1570.5 1378V1413M1571.5 1395V1413M1572.5 1377V1412M1573.5 1377V1411M1574.5 1380V1392M1575.5 1382V1412M1576.5 1382V1430M1577.5 1372V1403M1578.5 1374V1393M1579.5 1388V1392M1580.5 1390V1400M1581.5 1361V1390M1582.5 1361V1425M1583.5 1398V1406M1584.5 1396V1419M1585.5 1386V1419M1586.5 1386V1406M1587.5 1406V1418M1588.5 1386V1418M1589.5 1371V1405M1590.5 1371V1415M1591.5 1379V1395M1592.5 1383V1406M1593.5 1395V1409M1594.5 1365V1409M1595.5 1365V1412M1596.5 1354V1391M1597.5 1339V1398M1598.5 1389V1398M1599.5 1397V1414M1600.5 1414V1422M1601.5 1380V1420M1602.5 1384V1424M1603.5 1389V1424M1604.5 1377V1404M1605.5 1396V1411M1606.5 1405V1413M1607.5 1378V1405M1608.5 1378V1408M1609.5 1399V1412M1610.5 1393V1420M1611.5 1394V1420M1612.5 1387V1397M1613.5 1397V1428M1614.5 1401V1428M1615.5 1361V1416M1616.5 1381V1416M1617.5 1356V1382M1618.5 1382V1426M1619.5 1388V1412M1620.5 1388V1407M1621.5 1378V1407M1622.5 1378V1389M1623.5 1358V1450M1624.5 1358V1424M1625.5 1397V1419M1626.5 1400V1408M1627.5 1357V1404M1628.5 1357V1443M1629.5 1368V1426M1630.5 1386V1415M1631.5 1374V1402M1632.5 1374V1428M1633.5 1386V1407M1634.5 1385V1421M1635.5 1385V1408M1636.5 1384V1408M1637.5 1384V1406M1638.5 1362V1424M1639.5 1362V1404M1640.5 1369V1393M1641.5 1369V1393M1642.5 1382V1415M1643.5 1382V1406M1644.5 1386V1401M1645.5 1390V1401M1646.5 1386V1401M1647.5 1378V1410M1648.5 1374V1402M1649.5 1354V1405M1650.5 1354V1422M1651.5 1391V1422M1652.5 1368V1405M1653.5 1368V1410M1654.5 1396V1415M1655.5 1392V1412M1656.5 1392V1420M1657.5 1369V1409M1658.5 1371V1419M1659.5 1393V1425M1660.5 1393V1407M1661.5 1392V1399M1662.5 1396V1426M1663.5 1381V1436M1664.5 1381V1414M1665.5 1407V1414M1666.5 1374V1407M1667.5 1399V1429M1668.5 1412V1416M1669.5 1402V1412M1670.5 1393V1428M1671.5 1411V1428M1672.5 1399V1411M1673.5 1377V1403M1674.5 1390V1403M1675.5 1392V1425M1676.5 1382V1425M1677.5 1376V1428M1678.5 1376V1408M1679.5 1390V1426M1680.5 1394V1426M1681.5 1400V1430M1682.5 1331V1430M1683.5 1377V1395M1684.5 1395V1423M1685.5 1364V1413M1686.5 1364V1413M1687.5 1387V1408M1688.5 1400V1427M1689.5 1362V1421M1690.5 1362V1440M1691.5 1387V1440M1692.5 1379V1406M1693.5 1385V1406M1694.5 1370V1391M1695.5 1384V1413M1696.5 1380V1389M1697.5 1380V1411M1698.5 1355V1411M1699.5 1355V1407M1700.5 1387V1405M1701.5 1387V1440M1702.5 1423V1440M1703.5 1401V1437M1704.5 1369V1401M1705.5 1394V1434M1706.5 1388V1434M1707.5 1406V1417M1708.5 1405V1424M1709.5 1389V1424M1710.5 1405V1434M1711.5 1415V1434M1712.5 1367V1420M1713.5 1367V1410M1714.5 1376V1416M1715.5 1391V1416M1716.5 1372V1406M1717.5 1406V1425M1718.5 1406V1421M1719.5 1396V1421M1720.5 1391V1397M1721.5 1392V1404M1722.5 1394V1422M1723.5 1386V1431M1724.5 1394V1431M1725.5 1389V1414M1726.5 1368V1417M1727.5 1367V1428M1728.5 1367V1412M1729.5 1392V1431M1730.5 1378V1431M1731.5 1393V1425M1732.5 1390V1410M1733.5 1388V1390M1734.5 1388V1406M1735.5 1394V1449M1736.5 1370V1449M1737.5 1383V1407M1738.5 1383V1405M1739.5 1378V1402M1740.5 1398V1430M1741.5 1390V1409M1742.5 1375V1390M1743.5 1375V1410M1744.5 1367V1410M1745.5 1367V1411M1746.5 1373V1413M1747.5 1394V1413M1748.5 1389V1401M1749.5 1362V1452M1750.5 1362V1411M1751.5 1380V1411M1752.5 1380V1399M1753.5 1399V1431M1754.5 1405V1431M1755.5 1405V1427M1756.5 1397V1412M1757.5 1397V1415M1758.5 1386V1409M1759.5 1385V1428M1760.5 1398V1428M1761.5 1405V1431M1762.5 1411V1431M1763.5 1395V1411M1764.5 1404V1415M1765.5 1392V1417M1766.5 1409V1421M1767.5 1369V1409M1768.5 1369V1415M1769.5 1372V1454M1770.5 1378V1454M1771.5 1378V1419M1772.5 1372V1401M1773.5 1372V1427M1774.5 1390V1427M1775.5 1390V1406M1776.5 1406V1420M1777.5 1379V1419M1778.5 1367V1396M1779.5 1367V1429M1780.5 1391V1434M1781.5 1396V1434M1782.5 1395V1398M1783.5 1395V1457M1784.5 1379V1457M1785.5 1396V1430M1786.5 1396V1410M1787.5 1393V1410M1788.5 1394V1432M1789.5 1391V1414M1790.5 1391V1408M1791.5 1408V1436M1792.5 1393V1436M1793.5 1393V1416M1794.5 1400V1422M1795.5 1409V1422M1796.5 1411V1419M1797.5 1394V1422M1798.5 1394V1427M1799.5 1381V1411M1800.5 1404V1435M1801.5 1398V1435M1802.5 1385V1416M1803.5 1368V1416M1804.5 1377V1415M1805.5 1394V1415M1806.5 1403V1433M1807.5 1390V1415M1808.5 1380V1436M1809.5 1392V1436M1810.5 1371V1413M1811.5 1413V1427M1812.5 1398V1427M1813.5 1385V1418M1814.5 1385V1401M1815.5 1385V1391M1816.5 1390V1417M1817.5 1388V1402M1818.5 1399V1400M1819.5 1388V1404M1820.5 1381V1427M1821.5 1376V1390M1822.5 1376V1394M1823.5 1374V1405M1824.5 1371V1405M1825.5 1371V1424M1826.5 1391V1429M1827.5 1380V1438M1828.5 1361V1438M1829.5 1361V1405M1830.5 1366V1433M1831.5 1344V1399M1832.5 1382V1399M1833.5 1382V1433M1834.5 1399V1433M1835.5 1375V1417M1836.5 1375V1434M1837.5 1414V1434M1838.5 1394V1414M1839.5 1372V1411M1840.5 1372V1435M1841.5 1374V1435M1842.5 1390V1404M1843.5 1384V1417M1844.5 1384V1414M1845.5 1383V1420M1846.5 1383V1421M1847.5 1385V1399M1848.5 1362V1417M1849.5 1384V1421M1850.5 1368V1442M1851.5 1368V1404M1852.5 1385V1406M1853.5 1375V1417M1854.5 1395V1429M1855.5 1399V1429M1856.5 1400V1451M1857.5 1356V1451M1858.5 1356V1418M1859.5 1402V1423M1860.5 1406V1429M1861.5 1406V1422M1862.5 1377V1428M1863.5 1377V1438M1864.5 1382V1425M1865.5 1394V1425M1866.5 1394V1432M1867.5 1379V1431M1868.5 1404V1432M1869.5 1413V1432M1870.5 1414V1423M1871.5 1419V1455M1872.5 1380V1419M1873.5 1380V1389M1874.5 1383V1407M1875.5 1395V1421M1876.5 1381V1421M1877.5 1394V1412M1878.5 1393V1401M1879.5 1401V1427M1880.5 1383V1427M1881.5 1399V1428M1882.5 1427V1433M1883.5 1421V1427M1884.5 1381V1424M1885.5 1408V1420M1886.5 1389V1408M1887.5 1389V1400M1888.5 1363V1408M1889.5 1408V1438M1890.5 1418V1438M1891.5 1410V1418M1892.5 1410V1427M1893.5 1380V1427M1894.5 1399V1422M1895.5 1401V1414M1896.5 1389V1414M1897.5 1380V1425M1898.5 1399V1425M1899.5 1394V1404M1900.5 1394V1418M1901.5 1397V1415M1902.5 1391V1409M1903.5 1391V1413M1904.5 1410V1448M1905.5 1391V1426M1906.5 1395V1426M1907.5 1393V1418M1908.5 1393V1429M1909.5 1397V1416M1910.5 1397V1440M1911.5 1395V1415M1912.5 1399V1415M1913.5 1365V1414M1914.5 1365V1427M1915.5 1387V1427M1916.5 1387V1415M1917.5 1396V1415M1918.5 1368V1410M1919.5 1368V1413M1920.5 1394V1400M1921.5 1359V1397M1922.5 1397V1423M1923.5 1395V1423M1924.5 1391V1422M1925.5 1399V1437M1926.5 1352V1404M1927.5 1375V1428M1928.5 1371V1384M1929.5 1371V1442M1930.5 1370V1442M1931.5 1370V1410M1932.5 1369V1410M1933.5 1369V1406M1934.5 1384V1410M1935.5 1381V1410M1936.5 1381V1398M1937.5 1391V1421M1938.5 1406V1423M1939.5 1406V1430M1940.5 1387V1430M1941.5 1397V1439M1942.5 1396V1406M1943.5 1379V1415M1944.5 1379V1424M1945.5 1399V1424M1946.5 1393V1425M1947.5 1386V1405M1948.5 1403V1421M1949.5 1362V1403M1950.5 1396V1440M1951.5 1409V1455M1952.5 1393V1455M1953.5 1402V1426M1954.5 1407V1426M1955.5 1408V1424M1956.5 1417V1424M1957.5 1410V1418M1958.5 1402V1466M1959.5 1398V1466M1960.5 1414V1438M1961.5 1401V1414M1962.5 1394V1417M1963.5 1394V1448M1964.5 1389V1448M1965.5 1389V1415M1966.5 1388V1432M1967.5 1380V1432M1968.5 1420V1444M1969.5 1389V1440M1970.5 1407V1410M1971.5 1410V1427M1972.5 1400V1442M1973.5 1400V1433M1974.5 1378V1433M1975.5 1378V1414M1976.5 1394V1414M1977.5 1394V1423M1978.5 1396V1419M1979.5 1401V1419M1980.5 1391V1401M1981.5 1391V1411M1982.5 1400V1429M1983.5 1395V1423M1984.5 1395V1410M1985.5 1410V1426M1986.5 1412V1426M1987.5 1414V1424M1988.5 1380V1428M1989.5 1380V1425M1990.5 1397V1412M1991.5 1397V1432M1992.5 1400V1432M1993.5 1383V1434M1994.5 1380V1434M1995.5 1373V1428M1996.5 1373V1429M1997.5 1402V1444M1998.5 1400V1413M1999.5 1396V1413M2000.5 1400V1418M2001.5 1390V1412" fill="none" stroke="#c2c2c2" stroke-width="1.0"/>
<path d="M244.5 1543V1555M245.5 1527V1543M246.5 1536V1538M247.5 1525V1546M248.5 1525V1550M249.5 1527V1549M250.5 1532V1549M251.5 1532V1560M252.5 1530V1544M253.5 1532V1545M254.5 1526V1546M255.5 1522V1553M256.5 1545V1556M257.5 1519V1556M258.5 1519V1540M259.5 1540V1564M260.5 1534V1557M261.5 1534V1540M262.5 1538V1556M263.5 1538V1561M264.5 1535V1561M265.5 1530V1544M266.5 1542V1557M267.5 1517V1557M268.5 1517V1561M269.5 1536V1561M270.5 1521V1547M271.5 1515V1543M272.5 1527V1549M273.5 1527V1540M274.5 1530V1535M275.5 1530V1556M276.5 1538V1543M277.5 1538V1547M278.5 1535V1545M279.5 1535V1546M280.5 1526V1549M281.5 1526V1534M282.5 1529V1559M283.5 1523V1541M284.5 1523V1531M285.5 1523V1540M286.5 1531V1558M287.5 1532V1552M288.5 1531V1547M289.5 1531V1540M290.5 1532V1547M291.5 1525V1547M292.5 1539V1542M293.5 1528V1548M294.5 1531V1548M295.5 1530V1536M296.5 1536V1572M297.5 1512V1572M298.5 1550V1556M299.5 1543V1556M300.5 1542V1560M301.5 1541V1543M302.5 1541V1560M303.5 1531V1560M304.5 1515V1553M305.5 1536V1554M306.5 1549V1554M307.5 1544V1549M308.5 1518V1544M309.5 1525V1552M310.5 1533V1552M311.5 1534V1541M312.5 1541V1545M313.5 1526V1556M314.5 1528V1556M315.5 1510V1542M316.5 1542V1552M317.5 1544V1552M318.5 1532V1544M319.5 1534V1540M320.5 1527V1540M321.5 1535V1545M322.5 1530V1540M323.5 1530V1542M324.5 1539V1555M325.5 1524V1549M326.5 1523V1558M327.5 1523V1537M328.5 1532V1535M329.5 1532V1539M330.5 1539V1551M331.5 1551V1557M332.5 1529V1557M333.5 1529V1564M334.5 1510V1546M335.5 1530V1546M336.5 1530V1538M337.5 1529V1540M338.5 1536V1540M339.5 1536V1543M340.5 1541V1556M341.5 1527V1543M342.5 1538V1557M343.5 1529V1557M344.5 1533V1546M345.5 1520V1535M346.5 1520V1541M347.5 1528V1543M348.5 1528V1539M349.5 1507V1539M350.5 1507V1539M351.5 1527V1544M352.5 1505V1549M353.5 1505V1552M354.5 1527V1537M355.5 1524V1534M356.5 1525V1538M357.5 1525V1546M358.5 1529V1538M359.5 1529V1537M360.5 1522V1545M361.5 1523V1545M362.5 1524V1542M363.5 1529V1551M364.5 1532V1556M365.5 1532V1542M366.5 1540V1549M367.5 1538V1558M368.5 1517V1545M369.5 1533V1545M370.5 1535V1555M371.5 1538V1555M372.5 1542V1551M373.5 1536V1553M374.5 1531V1553M375.5 1527V1548M376.5 1527V1543M377.5 1543V1557M378.5 1514V1557M379.5 1542V1551M380.5 1531V1551M381.5 1527V1532M382.5 1527V1552M383.5 1531V1542M384.5 1515V1535M385.5 1534V1554M386.5 1525V1554M387.5 1525V1547M388.5 1544V1547M389.5 1529V1546M390.5 1529V1549M391.5 1515V1542M392.5 1532V1553M393.5 1533V1539M394.5 1539V1541M395.5 1531V1545M396.5 1523V1539M397.5 1539V1550M398.5 1545V1563M399.5 1545V1559M400.5 1548V1559M401.5 1530V1548M402.5 1532V1536M403.5 1536V1552M404.5 1516V1548M405.5 1516V1546M406.5 1526V1546M407.5 1536V1546M408.5 1515V1546M409.5 1524V1553M410.5 1526V1532M411.5 1532V1552M412.5 1536V1552M413.5 1530V1548M414.5 1530V1556M415.5 1533V1549M416.5 1518V1535M417.5 1518V1550M418.5 1505V1550M419.5 1531V1562M420.5 1529V1557M421.5 1528V1555M422.5 1528V1540M423.5 1531V1546M424.5 1530V1561M425.5 1524V1538M426.5 1538V1545M427.5 1537V1570M428.5 1537V1552M429.5 1544V1561M430.5 1528V1550M431.5 1528V1545M432.5 1545V1551M433.5 1548V1551M434.5 1538V1551M435.5 1528V1539M436.5 1528V1534M437.5 1533V1570M438.5 1551V1570M439.5 1533V1565M440.5 1538V1556M441.5 1553V1565M442.5 1545V1553M443.5 1537V1549M444.5 1543V1549M445.5 1533V1544M446.5 1534V1544M447.5 1534V1556M448.5 1530V1549M449.5 1530V1538M450.5 1530V1544M451.5 1529V1544M452.5 1529V1543M453.5 1542V1563M454.5 1516V1563M455.5 1547V1552M456.5 1534V1547M457.5 1520V1547M458.5 1536V1547M459.5 1531V1560M460.5 1531V1549M461.5 1541V1549M462.5 1545V1547M463.5 1528V1545M464.5 1528V1554M465.5 1534V1548M466.5 1534V1558M467.5 1531V1554M468.5 1530V1554M469.5 1529V1543M470.5 1529V1545M471.5 1539V1547M472.5 1539V1559M473.5 1537V1546M474.5 1514V1546M475.5 1514V1555M476.5 1519V1545M477.5 1534V1554M478.5 1553V1554M479.5 1539V1554M480.5 1527V1549M481.5 1539V1549M482.5 1539V1542M483.5 1542V1550M484.5 1535V1550M485.5 1526V1559M486.5 1536V1559M487.5 1522V1546M488.5 1525V1546M489.5 1535V1552M490.5 1527V1552M491.5 1516V1533M492.5 1533V1558M493.5 1535V1552M494.5 1532V1552M495.5 1524V1550M496.5 1524V1549M497.5 1524V1551M498.5 1532V1560M499.5 1532V1557M500.5 1532V1557M501.5 1528V1550M502.5 1527V1550M503.5 1527V1539M504.5 1526V1547M505.5 1526V1566M506.5 1518V1564M507.5 1529V1544M508.5 1525V1556M509.5 1518V1558M510.5 1520V1558M511.5 1533V1549M512.5 1528V1535M513.5 1535V1557M514.5 1518V1557M515.5 1530V1543M516.5 1530V1539M517.5 1529V1539M518.5 1533V1542M519.5 1529V1543M520.5 1529V1544M521.5 1542V1544M522.5 1537V1542M523.5 1532V1537M524.5 1523V1540M525.5 1523V1557M526.5 1524V1553M527.5 1547V1559M528.5 1524V1547M529.5 1524V1544M530.5 1524V1536M531.5 1536V1551M532.5 1545V1550M533.5 1544V1550M534.5 1538V1544M535.5 1533V1542M536.5 1531V1558M537.5 1547V1558M538.5 1540V1549M539.5 1533V1543M540.5 1534V1561M541.5 1519V1561M542.5 1525V1531M543.5 1525V1533M544.5 1526V1542M545.5 1520V1553M546.5 1534V1553M547.5 1527V1534M548.5 1527V1556M549.5 1549V1556M550.5 1526V1549M551.5 1538V1546M552.5 1537V1543M553.5 1535V1538M554.5 1538V1541M555.5 1532V1552M556.5 1532V1563M557.5 1538V1550M558.5 1521V1550M559.5 1521V1553M560.5 1542V1556M561.5 1533V1556M562.5 1534V1540M563.5 1532V1540M564.5 1527V1552M565.5 1527V1550M566.5 1550V1562M567.5 1537V1557M568.5 1537V1550M569.5 1520V1550M570.5 1520V1540M571.5 1509V1538M572.5 1533V1543M573.5 1540V1554M574.5 1534V1554M575.5 1524V1539M576.5 1539V1555M577.5 1539V1544M578.5 1537V1544M579.5 1537V1538M580.5 1525V1558M581.5 1528V1558M582.5 1530V1550M583.5 1541V1550M584.5 1545V1561M585.5 1531V1545M586.5 1520V1532M587.5 1523V1547M588.5 1534V1547M589.5 1527V1545M590.5 1527V1533M591.5 1530V1562M592.5 1540V1562M593.5 1527V1549M594.5 1525V1548M595.5 1536V1548M596.5 1522V1544M597.5 1522V1543M598.5 1522V1544M599.5 1537V1554M600.5 1533V1540M601.5 1533V1543M602.5 1536V1551M603.5 1528V1536M604.5 1528V1545M605.5 1524V1545M606.5 1524V1549M607.5 1530V1555M608.5 1538V1555M609.5 1530V1548M610.5 1525V1549M611.5 1515V1538M612.5 1515V1530M613.5 1530V1547M614.5 1532V1543M615.5 1524V1544M616.5 1524V1545M617.5 1526V1554M618.5 1549V1554M619.5 1511V1549M620.5 1511V1547M621.5 1530V1547M622.5 1530V1551M623.5 1531V1551M624.5 1542V1546M625.5 1538V1558M626.5 1538V1559M627.5 1524V1559M628.5 1533V1546M629.5 1532V1546M630.5 1536V1548M631.5 1526V1538M632.5 1526V1531M633.5 1526V1556M634.5 1528V1563M635.5 1520V1563M636.5 1519V1525M637.5 1521V1551M638.5 1521V1553M639.5 1533V1553M640.5 1518V1541M641.5 1527V1539M642.5 1522V1542M643.5 1503V1542M644.5 1539V1551M645.5 1518V1548M646.5 1544V1548M647.5 1531V1553M648.5 1525V1553M649.5 1525V1535M650.5 1535V1546M651.5 1529V1546M652.5 1526V1536M653.5 1525V1537M654.5 1525V1549M655.5 1531V1549M656.5 1528V1553M657.5 1528V1560M658.5 1530V1550M659.5 1530V1542M660.5 1533V1543M661.5 1533V1538M662.5 1519V1533M663.5 1517V1546M664.5 1517V1552M665.5 1547V1553M666.5 1522V1553M667.5 1537V1546M668.5 1537V1542M669.5 1531V1557M670.5 1524V1549M671.5 1523V1549M672.5 1528V1542M673.5 1527V1549M674.5 1517V1549M675.5 1531V1542M676.5 1534V1546M677.5 1541V1562M678.5 1532V1562M679.5 1540V1558M680.5 1540V1552M681.5 1522V1563M682.5 1527V1565M683.5 1527V1535M684.5 1535V1541M685.5 1540V1541M686.5 1534V1564M687.5 1532V1554M688.5 1535V1557M689.5 1535V1546M690.5 1525V1541M691.5 1527V1547M692.5 1527V1541M693.5 1541V1567M694.5 1543V1557M695.5 1537V1556M696.5 1534V1547M697.5 1534V1553M698.5 1531V1553M699.5 1538V1552M700.5 1522V1541M701.5 1539V1572M702.5 1531V1549M703.5 1531V1549M704.5 1531V1557M705.5 1541V1557M706.5 1530V1545M707.5 1528V1564M708.5 1539V1564M709.5 1531V1540M710.5 1513V1550M711.5 1513V1545M712.5 1535V1551M713.5 1527V1551M714.5 1527V1548M715.5 1532V1561M716.5 1532V1563M717.5 1511V1534M718.5 1511V1549M719.5 1537V1549M720.5 1539V1552M721.5 1533V1552M722.5 1551V1570M723.5 1521V1570M724.5 1521V1542M725.5 1528V1540M726.5 1538V1542M727.5 1538V1545M728.5 1535V1552M729.5 1540V1557M730.5 1540V1554M731.5 1536V1544M732.5 1528V1562M733.5 1525V1552M734.5 1520V1552M735.5 1520V1534M736.5 1522V1535M737.5 1533V1540M738.5 1521V1540M739.5 1519V1539M740.5 1519V1550M741.5 1521V1550M742.5 1521V1547M743.5 1515V1532M744.5 1529V1550M745.5 1521V1550M746.5 1503V1548M747.5 1503V1543M748.5 1533V1543M749.5 1521V1541M750.5 1523V1541M751.5 1523V1542M752.5 1531V1542M753.5 1534V1542M754.5 1534V1567M755.5 1530V1542M756.5 1537V1547M757.5 1518V1538M758.5 1530V1538M759.5 1530V1550M760.5 1543V1555M761.5 1548V1555M762.5 1535V1550M763.5 1537V1558M764.5 1531V1558M765.5 1524V1548M766.5 1527V1548M767.5 1527V1546M768.5 1532V1543M769.5 1532V1551M770.5 1524V1551M771.5 1519V1547M772.5 1519V1549M773.5 1537V1551M774.5 1526V1564M775.5 1525V1529M776.5 1519V1530M777.5 1519V1552M778.5 1538V1553M779.5 1527V1538M780.5 1527V1549M781.5 1537V1545M782.5 1526V1552M783.5 1534V1552M784.5 1534V1538M785.5 1538V1555M786.5 1537V1555M787.5 1536V1544M788.5 1528V1536M789.5 1529V1534M790.5 1532V1545M791.5 1544V1555M792.5 1541V1550M793.5 1538V1542M794.5 1532V1545M795.5 1545V1560M796.5 1519V1550M797.5 1519V1550M798.5 1514V1540M799.5 1515V1532M800.5 1527V1550M801.5 1525V1550M802.5 1538V1554M803.5 1524V1544M804.5 1524V1553M805.5 1532V1559M806.5 1531V1559M807.5 1531V1559M808.5 1531V1570M809.5 1522V1552M810.5 1522V1543M811.5 1525V1534M812.5 1525V1544M813.5 1530V1548M814.5 1525V1544M815.5 1525V1544M816.5 1529V1544M817.5 1529V1553M818.5 1523V1538M819.5 1533V1547M820.5 1535V1547M821.5 1535V1548M822.5 1520V1548M823.5 1528V1557M824.5 1530V1551M825.5 1515V1548M826.5 1515V1534M827.5 1520V1549M828.5 1544V1572M829.5 1529V1555M830.5 1529V1545M831.5 1512V1545M832.5 1529V1548M833.5 1526V1543M834.5 1529V1543M835.5 1521V1541M836.5 1531V1550M837.5 1520V1559M838.5 1520V1551M839.5 1535V1554M840.5 1530V1563M841.5 1539V1563M842.5 1529V1549M843.5 1513V1529M844.5 1514V1540M845.5 1540V1555M846.5 1547V1555M847.5 1520V1547M848.5 1519V1548M849.5 1536V1549M850.5 1519V1549M851.5 1519V1545M852.5 1520V1571M853.5 1519V1571M854.5 1516V1557M855.5 1516V1524M856.5 1524V1543M857.5 1531V1543M858.5 1520V1539M859.5 1514V1542M860.5 1531V1554M861.5 1531V1541M862.5 1541V1542M863.5 1515V1544M864.5 1515V1553M865.5 1534V1536M866.5 1527V1553M867.5 1527V1543M868.5 1523V1537M869.5 1537V1552M870.5 1532V1552M871.5 1532V1541M872.5 1529V1542M873.5 1538V1542M874.5 1534V1553M875.5 1532V1534M876.5 1521V1536M877.5 1511V1538M878.5 1523V1540M879.5 1517V1530M880.5 1530V1562M881.5 1536V1538M882.5 1519V1538M883.5 1528V1539M884.5 1528V1547M885.5 1528V1546M886.5 1527V1546M887.5 1530V1535M888.5 1520V1539M889.5 1520V1543M890.5 1532V1558M891.5 1523V1556M892.5 1524V1536M893.5 1524V1536M894.5 1524V1532M895.5 1519V1539M896.5 1519V1533M897.5 1524V1546M898.5 1529V1546M899.5 1526V1537M900.5 1536V1551M901.5 1534V1547M902.5 1511V1534M903.5 1529V1543M904.5 1514V1543M905.5 1514V1531M906.5 1515V1531M907.5 1523V1547M908.5 1531V1547M909.5 1523V1559M910.5 1523V1550M911.5 1517V1541M912.5 1528V1543M913.5 1528V1557M914.5 1523V1557M915.5 1523V1546M916.5 1523V1558M917.5 1523V1543M918.5 1504V1553M919.5 1504V1537M920.5 1513V1530M921.5 1521V1534M922.5 1532V1544M923.5 1534V1544M924.5 1534V1544M925.5 1533V1556M926.5 1520V1556M927.5 1520V1538M928.5 1527V1543M929.5 1527V1552M930.5 1538V1540M931.5 1525V1538M932.5 1520V1538M933.5 1531V1536M934.5 1526V1547M935.5 1526V1547M936.5 1533V1550M937.5 1529V1550M938.5 1529V1547M939.5 1529V1548M940.5 1517V1537M941.5 1530V1537M942.5 1505V1533M943.5 1505V1547M944.5 1523V1540M945.5 1523V1557M946.5 1510V1557M947.5 1511V1550M948.5 1510V1530M949.5 1510V1543M950.5 1513V1527M951.5 1513V1535M952.5 1517V1535M953.5 1517V1528M954.5 1522V1534M955.5 1518V1534M956.5 1507V1533M957.5 1516V1533M958.5 1513V1529M959.5 1513V1541M960.5 1521V1543M961.5 1528V1543M962.5 1516V1537M963.5 1516V1537M964.5 1521V1548M965.5 1506V1521M966.5 1508V1538M967.5 1521V1538M968.5 1521V1543M969.5 1532V1543M970.5 1518V1535M971.5 1520V1534M972.5 1520V1542M973.5 1513V1552M974.5 1510V1525M975.5 1525V1537M976.5 1534V1537M977.5 1516V1539M978.5 1516V1541M979.5 1525V1539M980.5 1525V1528M981.5 1519V1535M982.5 1519V1530M983.5 1525V1537M984.5 1525V1538M985.5 1523V1544M986.5 1510V1544M987.5 1510V1543M988.5 1510V1538M989.5 1521V1542M990.5 1506V1521M991.5 1519V1538M992.5 1515V1529M993.5 1518V1526M994.5 1524V1528M995.5 1527V1532M996.5 1532V1543M997.5 1511V1543M998.5 1519V1528M999.5 1511V1535M1000.5 1511V1522M1001.5 1521V1541M1002.5 1518V1525M1003.5 1517V1518M1004.5 1501V1524M1005.5 1501V1525M1006.5 1523V1525M1007.5 1511V1525M1008.5 1511V1536M1009.5 1512V1535M1010.5 1531V1548M1011.5 1524V1548M1012.5 1525V1535M1013.5 1511V1535M1014.5 1511V1548M1015.5 1519V1554M1016.5 1494V1554M1017.5 1502V1524M1018.5 1502V1521M1019.5 1519V1527M1020.5 1511V1540M1021.5 1506V1529M1022.5 1524V1532M1023.5 1495V1524M1024.5 1495V1525M1025.5 1497V1541M1026.5 1497V1556M1027.5 1505V1556M1028.5 1504V1537M1029.5 1504V1529M1030.5 1497V1529M1031.5 1497V1536M1032.5 1522V1536M1033.5 1501V1533M1034.5 1510V1533M1035.5 1491V1511M1036.5 1491V1517M1037.5 1510V1530M1038.5 1498V1539M1039.5 1498V1525M1040.5 1507V1515M1041.5 1514V1522M1042.5 1520V1524M1043.5 1492V1524M1044.5 1492V1523M1045.5 1523V1525M1046.5 1489V1525M1047.5 1512V1533M1048.5 1517V1525M1049.5 1500V1524M1050.5 1500V1524M1051.5 1506V1525M1052.5 1506V1527M1053.5 1513V1527M1054.5 1506V1513M1055.5 1506V1528M1056.5 1505V1522M1057.5 1498V1522M1058.5 1501V1521M1059.5 1482V1521M1060.5 1482V1528M1061.5 1513V1532M1062.5 1513V1523M1063.5 1481V1523M1064.5 1498V1515M1065.5 1489V1539M1066.5 1496V1539M1067.5 1492V1517M1068.5 1510V1531M1069.5 1496V1531M1070.5 1519V1531M1071.5 1498V1530M1072.5 1498V1505M1073.5 1493V1523M1074.5 1505V1549M1075.5 1505V1508M1076.5 1506V1521M1077.5 1514V1526M1078.5 1514V1522M1079.5 1522V1538M1080.5 1488V1530M1081.5 1488V1516M1082.5 1507V1522M1083.5 1497V1523M1084.5 1497V1520M1085.5 1504V1525M1086.5 1513V1531M1087.5 1509V1520M1088.5 1487V1513M1089.5 1487V1520M1090.5 1510V1525M1091.5 1507V1531M1092.5 1513V1531M1093.5 1499V1518M1094.5 1499V1530M1095.5 1494V1530M1096.5 1506V1525M1097.5 1506V1522M1098.5 1516V1538M1099.5 1506V1538M1100.5 1525V1539M1101.5 1507V1536M1102.5 1498V1516M1103.5 1497V1524M1104.5 1497V1531M1105.5 1496V1531M1106.5 1490V1496M1107.5 1493V1514M1108.5 1506V1515M1109.5 1487V1515M1110.5 1487V1524M1111.5 1502V1537M1112.5 1499V1519M1113.5 1503V1527M1114.5 1503V1519M1115.5 1503V1510M1116.5 1500V1510M1117.5 1504V1524M1118.5 1482V1506M1119.5 1482V1516M1120.5 1480V1497M1121.5 1480V1491M1122.5 1483V1528M1123.5 1505V1526M1124.5 1494V1518M1125.5 1494V1517M1126.5 1491V1516M1127.5 1500V1516M1128.5 1500V1536M1129.5 1478V1502M1130.5 1478V1490M1131.5 1490V1523M1132.5 1490V1523M1133.5 1486V1495M1134.5 1495V1505M1135.5 1500V1529M1136.5 1479V1500M1137.5 1487V1503M1138.5 1480V1519M1139.5 1471V1519M1140.5 1488V1507M1141.5 1497V1507M1142.5 1497V1512M1143.5 1457V1512M1144.5 1481V1510M1145.5 1477V1496M1146.5 1495V1506M1147.5 1486V1513M1148.5 1483V1487M1149.5 1481V1522M1150.5 1481V1505M1151.5 1483V1505M1152.5 1494V1510M1153.5 1494V1502M1154.5 1492V1507M1155.5 1497V1518M1156.5 1494V1514M1157.5 1487V1509M1158.5 1471V1487M1159.5 1471V1506M1160.5 1485V1515M1161.5 1475V1515M1162.5 1475V1531M1163.5 1490V1531M1164.5 1493V1508M1165.5 1495V1508M1166.5 1495V1539M1167.5 1510V1521M1168.5 1499V1527M1169.5 1499V1513M1170.5 1484V1513M1171.5 1484V1512M1172.5 1501V1522M1173.5 1498V1520M1174.5 1516V1520M1175.5 1480V1530M1176.5 1480V1494M1177.5 1493V1498M1178.5 1498V1507M1179.5 1499V1507M1180.5 1499V1534M1181.5 1483V1534M1182.5 1489V1505M1183.5 1489V1515M1184.5 1497V1513M1185.5 1481V1513M1186.5 1473V1516M1187.5 1499V1516M1188.5 1505V1514M1189.5 1486V1505M1190.5 1489V1517M1191.5 1499V1517M1192.5 1495V1511M1193.5 1480V1502M1194.5 1482V1508M1195.5 1485V1508M1196.5 1477V1512M1197.5 1506V1512M1198.5 1507V1518M1199.5 1508V1518M1200.5 1485V1509M1201.5 1485V1508M1202.5 1451V1509M1203.5 1451V1493M1204.5 1485V1511M1205.5 1484V1511M1206.5 1484V1521M1207.5 1498V1521M1208.5 1469V1506M1209.5 1469V1514M1210.5 1495V1514M1211.5 1495V1510M1212.5 1466V1502M1213.5 1466V1490M1214.5 1490V1502M1215.5 1473V1502M1216.5 1473V1503M1217.5 1472V1498M1218.5 1472V1512M1219.5 1450V1480M1220.5 1462V1496M1221.5 1492V1529M1222.5 1488V1492M1223.5 1481V1490M1224.5 1477V1495M1225.5 1477V1501M1226.5 1480V1501M1227.5 1483V1500M1228.5 1478V1525M1229.5 1509V1525M1230.5 1478V1509M1231.5 1472V1493M1232.5 1470V1496M1233.5 1470V1528M1234.5 1482V1528M1235.5 1481V1482M1236.5 1481V1500M1237.5 1468V1508M1238.5 1468V1519M1239.5 1474V1519M1240.5 1474V1502M1241.5 1494V1502M1242.5 1481V1497M1243.5 1471V1517M1244.5 1496V1517M1245.5 1492V1502M1246.5 1484V1502M1247.5 1482V1526M1248.5 1482V1504M1249.5 1490V1535M1250.5 1511V1537M1251.5 1506V1537M1252.5 1499V1506M1253.5 1484V1505M1254.5 1460V1531M1255.5 1498V1531M1256.5 1495V1514M1257.5 1452V1514M1258.5 1452V1500M1259.5 1458V1483M1260.5 1458V1512M1261.5 1475V1520M1262.5 1488V1520M1263.5 1477V1495M1264.5 1477V1512M1265.5 1490V1516M1266.5 1495V1516M1267.5 1480V1495M1268.5 1483V1493M1269.5 1487V1492M1270.5 1470V1516M1271.5 1461V1524M1272.5 1486V1524M1273.5 1498V1509M1274.5 1490V1498M1275.5 1482V1498M1276.5 1437V1482M1277.5 1456V1508M1278.5 1476V1508M1279.5 1463V1508M1280.5 1475V1499M1281.5 1469V1493M1282.5 1482V1501M1283.5 1476V1536M1284.5 1465V1485M1285.5 1465V1509M1286.5 1487V1509M1287.5 1474V1492M1288.5 1474V1513M1289.5 1486V1513M1290.5 1480V1507M1291.5 1477V1490M1292.5 1483V1496M1293.5 1462V1508M1294.5 1462V1521M1295.5 1476V1521M1296.5 1459V1495M1297.5 1459V1522M1298.5 1494V1522M1299.5 1478V1500M1300.5 1500V1542M1301.5 1464V1537M1302.5 1476V1490M1303.5 1443V1516M1304.5 1451V1516M1305.5 1451V1526M1306.5 1483V1511M1307.5 1469V1511M1308.5 1485V1492M1309.5 1485V1499M1310.5 1499V1501M1311.5 1482V1499M1312.5 1485V1507M1313.5 1481V1513M1314.5 1490V1513M1315.5 1493V1498M1316.5 1492V1519M1317.5 1476V1519M1318.5 1476V1501M1319.5 1467V1486M1320.5 1443V1488M1321.5 1443V1508M1322.5 1484V1500M1323.5 1476V1501M1324.5 1476V1497M1325.5 1483V1496M1326.5 1480V1508M1327.5 1447V1480M1328.5 1447V1489M1329.5 1463V1474M1330.5 1463V1490M1331.5 1490V1498M1332.5 1492V1528M1333.5 1484V1500M1334.5 1493V1497M1335.5 1463V1493M1336.5 1463V1519M1337.5 1450V1519M1338.5 1450V1500M1339.5 1500V1525M1340.5 1463V1525M1341.5 1463V1485M1342.5 1474V1498M1343.5 1477V1503M1344.5 1490V1503M1345.5 1477V1511M1346.5 1476V1528M1347.5 1489V1528M1348.5 1458V1529M1349.5 1480V1529M1350.5 1480V1513M1351.5 1491V1520M1352.5 1478V1520M1353.5 1479V1510M1354.5 1467V1479M1355.5 1465V1500M1356.5 1465V1506M1357.5 1469V1498M1358.5 1491V1498M1359.5 1496V1518M1360.5 1453V1518M1361.5 1453V1497M1362.5 1495V1504M1363.5 1465V1495M1364.5 1464V1490M1365.5 1464V1519M1366.5 1467V1495M1367.5 1451V1495M1368.5 1451V1494M1369.5 1457V1494M1370.5 1457V1486M1371.5 1461V1502M1372.5 1482V1502M1373.5 1482V1530M1374.5 1490V1494M1375.5 1455V1490M1376.5 1455V1495M1377.5 1486V1495M1378.5 1479V1495M1379.5 1463V1485M1380.5 1468V1503M1381.5 1468V1489M1382.5 1489V1516M1383.5 1492V1516M1384.5 1492V1522M1385.5 1468V1522M1386.5 1468V1493M1387.5 1468V1508M1388.5 1470V1508M1389.5 1470V1491M1390.5 1472V1496M1391.5 1451V1472M1392.5 1451V1515M1393.5 1467V1515M1394.5 1459V1467M1395.5 1465V1496M1396.5 1482V1498M1397.5 1477V1505M1398.5 1465V1511M1399.5 1457V1508M1400.5 1481V1508M1401.5 1481V1497M1402.5 1470V1497M1403.5 1481V1494M1404.5 1470V1483M1405.5 1483V1520M1406.5 1478V1520M1407.5 1478V1484M1408.5 1481V1510M1409.5 1490V1510M1410.5 1490V1504M1411.5 1490V1498M1412.5 1454V1501M1413.5 1452V1484M1414.5 1452V1485M1415.5 1459V1494M1416.5 1484V1494M1417.5 1473V1500M1418.5 1473V1482M1419.5 1469V1478M1420.5 1469V1515M1421.5 1477V1512M1422.5 1450V1507M1423.5 1470V1493M1424.5 1479V1493M1425.5 1471V1490M1426.5 1458V1488M1427.5 1458V1496M1428.5 1470V1496M1429.5 1470V1497M1430.5 1471V1504M1431.5 1459V1504M1432.5 1447V1485M1433.5 1471V1476M1434.5 1473V1501M1435.5 1439V1495M1436.5 1441V1483M1437.5 1441V1509M1438.5 1487V1511M1439.5 1480V1511M1440.5 1447V1501M1441.5 1447V1501M1442.5 1447V1532M1443.5 1479V1532M1444.5 1473V1514M1445.5 1483V1514M1446.5 1456V1483M1447.5 1464V1477M1448.5 1464V1525M1449.5 1477V1525M1450.5 1443V1480M1451.5 1443V1484M1452.5 1454V1503M1453.5 1454V1506M1454.5 1493V1506M1455.5 1481V1518M1456.5 1476V1522M1457.5 1496V1522M1458.5 1467V1501M1459.5 1441V1493M1460.5 1441V1498M1461.5 1462V1493M1462.5 1481V1501M1463.5 1479V1501M1464.5 1482V1509M1465.5 1482V1509M1466.5 1447V1492M1467.5 1456V1492M1468.5 1483V1503M1469.5 1486V1495M1470.5 1486V1517M1471.5 1459V1515M1472.5 1459V1510M1473.5 1473V1480M1474.5 1452V1474M1475.5 1467V1477M1476.5 1473V1480M1477.5 1453V1496M1478.5 1453V1500M1479.5 1488V1500M1480.5 1488V1504M1481.5 1449V1504M1482.5 1449V1498M1483.5 1453V1512M1484.5 1478V1512M1485.5 1478V1499M1486.5 1459V1491M1487.5 1459V1503M1488.5 1487V1506M1489.5 1484V1499M1490.5 1485V1505M1491.5 1476V1487M1492.5 1457V1476M1493.5 1457V1512M1494.5 1461V1500M1495.5 1461V1482M1496.5 1480V1504M1497.5 1480V1485M1498.5 1480V1496M1499.5 1462V1496M1500.5 1462V1503M1501.5 1484V1517M1502.5 1479V1517M1503.5 1470V1498M1504.5 1479V1493M1505.5 1479V1487M1506.5 1462V1487M1507.5 1479V1497M1508.5 1475V1503M1509.5 1475V1493M1510.5 1464V1493M1511.5 1493V1510M1512.5 1483V1510M1513.5 1467V1483M1514.5 1467V1496M1515.5 1479V1497M1516.5 1479V1494M1517.5 1477V1494M1518.5 1472V1491M1519.5 1483V1491M1520.5 1455V1483M1521.5 1455V1519M1522.5 1457V1493M1523.5 1456V1481M1524.5 1468V1505M1525.5 1481V1505M1526.5 1481V1508M1527.5 1463V1508M1528.5 1463V1474M1529.5 1468V1489M1530.5 1458V1507M1531.5 1485V1509M1532.5 1459V1485M1533.5 1459V1491M1534.5 1481V1491M1535.5 1481V1490M1536.5 1456V1500M1537.5 1456V1492M1538.5 1469V1492M1539.5 1448V1469M1540.5 1465V1468M1541.5 1442V1502M1542.5 1442V1508M1543.5 1462V1518M1544.5 1462V1494M1545.5 1479V1494M1546.5 1479V1514M1547.5 1492V1514M1548.5 1492V1493M1549.5 1477V1492M1550.5 1477V1516M1551.5 1469V1516M1552.5 1469V1497M1553.5 1487V1493M1554.5 1483V1497M1555.5 1475V1483M1556.5 1479V1496M1557.5 1485V1506M1558.5 1492V1507M1559.5 1479V1494M1560.5 1479V1500M1561.5 1483V1505M1562.5 1493V1505M1563.5 1473V1495M1564.5 1480V1495M1565.5 1489V1491M1566.5 1469V1515M1567.5 1461V1515M1568.5 1475V1496M1569.5 1467V1506M1570.5 1442V1516M1571.5 1442V1479M1572.5 1479V1508M1573.5 1478V1508M1574.5 1457V1482M1575.5 1457V1507M1576.5 1468V1501M1577.5 1468V1481M1578.5 1463V1481M1579.5 1478V1507M1580.5 1450V1507M1581.5 1479V1510M1582.5 1441V1479M1583.5 1441V1487M1584.5 1472V1487M1585.5 1462V1505M1586.5 1462V1490M1587.5 1468V1476M1588.5 1468V1479M1589.5 1459V1476M1590.5 1459V1504M1591.5 1460V1504M1592.5 1420V1492M1593.5 1484V1506M1594.5 1459V1503M1595.5 1459V1479M1596.5 1479V1502M1597.5 1483V1495M1598.5 1464V1519M1599.5 1489V1519M1600.5 1470V1491M1601.5 1470V1481M1602.5 1454V1518M1603.5 1454V1494M1604.5 1446V1494M1605.5 1446V1507M1606.5 1471V1514M1607.5 1463V1477M1608.5 1470V1493M1609.5 1472V1493M1610.5 1478V1487M1611.5 1438V1487M1612.5 1438V1467M1613.5 1463V1487M1614.5 1475V1524M1615.5 1475V1488M1616.5 1465V1500M1617.5 1465V1524M1618.5 1484V1501M1619.5 1484V1501M1620.5 1474V1487M1621.5 1470V1501M1622.5 1488V1503M1623.5 1466V1488M1624.5 1470V1487M1625.5 1470V1485M1626.5 1482V1507M1627.5 1498V1519M1628.5 1464V1498M1629.5 1464V1521M1630.5 1476V1521M1631.5 1476V1506M1632.5 1447V1506M1633.5 1458V1476M1634.5 1476V1488M1635.5 1458V1500M1636.5 1467V1500M1637.5 1471V1492M1638.5 1492V1496M1639.5 1467V1499M1640.5 1460V1495M1641.5 1432V1495M1642.5 1451V1490M1643.5 1451V1500M1644.5 1483V1500M1645.5 1471V1498M1646.5 1471V1487M1647.5 1453V1509M1648.5 1453V1463M1649.5 1444V1462M1650.5 1455V1494M1651.5 1490V1504M1652.5 1461V1504M1653.5 1461V1482M1654.5 1467V1511M1655.5 1469V1538M1656.5 1471V1538M1657.5 1462V1486M1658.5 1462V1495M1659.5 1461V1495M1660.5 1427V1478M1661.5 1427V1505M1662.5 1474V1514M1663.5 1474V1498M1664.5 1485V1498M1665.5 1479V1491M1666.5 1479V1488M1667.5 1485V1492M1668.5 1477V1492M1669.5 1479V1504M1670.5 1487V1504M1671.5 1448V1487M1672.5 1448V1467M1673.5 1462V1475M1674.5 1475V1503M1675.5 1491V1512M1676.5 1475V1512M1677.5 1475V1480M1678.5 1476V1491M1679.5 1445V1497M1680.5 1445V1502M1681.5 1461V1485M1682.5 1461V1473M1683.5 1473V1498M1684.5 1473V1481M1685.5 1457V1479M1686.5 1457V1507M1687.5 1431V1507M1688.5 1431V1505M1689.5 1480V1507M1690.5 1447V1507M1691.5 1446V1516M1692.5 1481V1516M1693.5 1481V1529M1694.5 1471V1488M1695.5 1462V1475M1696.5 1462V1503M1697.5 1481V1501M1698.5 1450V1498M1699.5 1478V1502M1700.5 1462V1502M1701.5 1472V1501M1702.5 1477V1501M1703.5 1484V1501M1704.5 1459V1501M1705.5 1446V1497M1706.5 1446V1505M1707.5 1483V1505M1708.5 1476V1520M1709.5 1476V1513M1710.5 1477V1504M1711.5 1459V1496M1712.5 1493V1496M1713.5 1485V1493M1714.5 1489V1498M1715.5 1451V1494M1716.5 1477V1496M1717.5 1464V1496M1718.5 1465V1491M1719.5 1440V1491M1720.5 1457V1510M1721.5 1457V1509M1722.5 1473V1509M1723.5 1477V1506M1724.5 1459V1482M1725.5 1471V1482M1726.5 1481V1497M1727.5 1446V1497M1728.5 1467V1505M1729.5 1505V1520M1730.5 1457V1520M1731.5 1457V1509M1732.5 1472V1509M1733.5 1471V1499M1734.5 1471V1497M1735.5 1491V1500M1736.5 1482V1500M1737.5 1471V1506M1738.5 1470V1506M1739.5 1436V1500M1740.5 1436V1496M1741.5 1488V1490M1742.5 1478V1493M1743.5 1464V1478M1744.5 1441V1499M1745.5 1468V1499M1746.5 1467V1531M1747.5 1494V1531M1748.5 1450V1520M1749.5 1454V1479M1750.5 1457V1489M1751.5 1456V1505M1752.5 1476V1505M1753.5 1481V1492M1754.5 1467V1486M1755.5 1467V1486M1756.5 1460V1490M1757.5 1443V1492M1758.5 1443V1504M1759.5 1488V1504M1760.5 1474V1488M1761.5 1466V1488M1762.5 1466V1512M1763.5 1462V1488M1764.5 1462V1493M1765.5 1464V1507M1766.5 1472V1477M1767.5 1458V1514M1768.5 1458V1517M1769.5 1449V1517M1770.5 1449V1490M1771.5 1482V1497M1772.5 1481V1505M1773.5 1477V1486M1774.5 1477V1488M1775.5 1486V1496M1776.5 1491V1497M1777.5 1448V1497M1778.5 1448V1491M1779.5 1491V1515M1780.5 1493V1515M1781.5 1480V1516M1782.5 1480V1489M1783.5 1471V1482M1784.5 1471V1490M1785.5 1468V1490M1786.5 1483V1500M1787.5 1473V1500M1788.5 1460V1523M1789.5 1460V1494M1790.5 1485V1526M1791.5 1476V1485M1792.5 1476V1506M1793.5 1474V1506M1794.5 1459V1491M1795.5 1459V1520M1796.5 1440V1520M1797.5 1440V1498M1798.5 1471V1516M1799.5 1477V1516M1800.5 1464V1523M1801.5 1489V1523M1802.5 1469V1501M1803.5 1467V1498M1804.5 1480V1498M1805.5 1457V1508M1806.5 1457V1492M1807.5 1460V1467M1808.5 1460V1494M1809.5 1469V1494M1810.5 1469V1509M1811.5 1467V1512M1812.5 1467V1503M1813.5 1471V1481M1814.5 1474V1480M1815.5 1478V1498M1816.5 1478V1521M1817.5 1484V1496M1818.5 1444V1496M1819.5 1444V1479M1820.5 1475V1512M1821.5 1497V1516M1822.5 1484V1516M1823.5 1477V1505M1824.5 1475V1485M1825.5 1432V1493M1826.5 1477V1493M1827.5 1456V1502M1828.5 1455V1471M1829.5 1455V1497M1830.5 1478V1497M1831.5 1478V1493M1832.5 1493V1500M1833.5 1465V1500M1834.5 1461V1494M1835.5 1480V1494M1836.5 1477V1491M1837.5 1491V1504M1838.5 1486V1525M1839.5 1460V1525M1840.5 1460V1507M1841.5 1473V1509M1842.5 1485V1497M1843.5 1460V1485M1844.5 1467V1497M1845.5 1466V1507M1846.5 1466V1482M1847.5 1474V1483M1848.5 1483V1498M1849.5 1479V1498M1850.5 1487V1493M1851.5 1474V1488M1852.5 1474V1486M1853.5 1480V1517M1854.5 1456V1501M1855.5 1456V1479M1856.5 1479V1505M1857.5 1433V1484M1858.5 1433V1486M1859.5 1444V1489M1860.5 1458V1489M1861.5 1457V1475M1862.5 1475V1523M1863.5 1467V1497M1864.5 1467V1505M1865.5 1459V1495M1866.5 1451V1474M1867.5 1451V1530M1868.5 1459V1530M1869.5 1442V1475M1870.5 1474V1487M1871.5 1465V1487M1872.5 1465V1492M1873.5 1471V1478M1874.5 1471V1483M1875.5 1462V1493M1876.5 1477V1493M1877.5 1477V1493M1878.5 1470V1493M1879.5 1487V1504M1880.5 1469V1509M1881.5 1469V1505M1882.5 1439V1474M1883.5 1465V1510M1884.5 1467V1483M1885.5 1483V1509M1886.5 1475V1509M1887.5 1475V1492M1888.5 1479V1501M1889.5 1485V1501M1890.5 1464V1486M1891.5 1462V1490M1892.5 1462V1485M1893.5 1473V1505M1894.5 1486V1505M1895.5 1471V1504M1896.5 1458V1495M1897.5 1458V1509M1898.5 1466V1509M1899.5 1434V1502M1900.5 1484V1502M1901.5 1492V1507M1902.5 1485V1500M1903.5 1464V1492M1904.5 1464V1520M1905.5 1493V1520M1906.5 1490V1493M1907.5 1481V1492M1908.5 1481V1502M1909.5 1480V1502M1910.5 1493V1505M1911.5 1490V1523M1912.5 1482V1533M1913.5 1483V1533M1914.5 1483V1503M1915.5 1454V1503M1916.5 1468V1503M1917.5 1476V1503M1918.5 1476V1508M1919.5 1469V1495M1920.5 1469V1523M1921.5 1467V1523M1922.5 1479V1499M1923.5 1479V1511M1924.5 1497V1509M1925.5 1461V1503M1926.5 1479V1510M1927.5 1505V1515M1928.5 1468V1515M1929.5 1468V1490M1930.5 1472V1506M1931.5 1496V1506M1932.5 1488V1512M1933.5 1477V1512M1934.5 1486V1508M1935.5 1475V1508M1936.5 1488V1508M1937.5 1481V1507M1938.5 1481V1490M1939.5 1475V1489M1940.5 1475V1506M1941.5 1480V1506M1942.5 1480V1500M1943.5 1493V1506M1944.5 1470V1493M1945.5 1446V1473M1946.5 1433V1469M1947.5 1469V1486M1948.5 1449V1486M1949.5 1449V1493M1950.5 1475V1490M1951.5 1476V1492M1952.5 1467V1492M1953.5 1467V1486M1954.5 1474V1482M1955.5 1464V1502M1956.5 1480V1502M1957.5 1462V1487M1958.5 1462V1502M1959.5 1475V1493M1960.5 1486V1491M1961.5 1460V1486M1962.5 1460V1485M1963.5 1454V1480M1964.5 1454V1492M1965.5 1476V1498M1966.5 1476V1528M1967.5 1464V1502M1968.5 1471V1523M1969.5 1496V1523M1970.5 1436V1505M1971.5 1436V1505M1972.5 1461V1507M1973.5 1444V1497M1974.5 1444V1514M1975.5 1448V1514M1976.5 1448V1512M1977.5 1442V1512M1978.5 1462V1481M1979.5 1470V1490M1980.5 1476V1502M1981.5 1457V1498M1982.5 1477V1504M1983.5 1438V1477M1984.5 1438V1498M1985.5 1459V1485M1986.5 1472V1485M1987.5 1469V1480M1988.5 1473V1487M1989.5 1480V1487M1990.5 1469V1490M1991.5 1455V1503M1992.5 1487V1504M1993.5 1469V1504M1994.5 1448V1494M1995.5 1464V1479M1996.5 1477V1481M1997.5 1471V1490M1998.5 1453V1490M1999.5 1468V1509M2000.5 1465V1483M2001.5 1451V1496" fill="none" stroke="#bcbcbc" stroke-width="1.0"/>
<path d="M244.5 1543V1556M245.5 1520V1558M246.5 1531V1558M247.5 1527V1531M248.5 1527V1549M249.5 1546V1549M250.5 1521V1547M251.5 1522V1557M252.5 1551V1564M253.5 1529V1555M254.5 1543V1555M255.5 1532V1543M256.5 1540V1551M257.5 1543V1559M258.5 1534V1559M259.5 1533V1548M260.5 1530V1554M261.5 1542V1554M262.5 1537V1548M263.5 1537V1547M264.5 1538V1555M265.5 1540V1555M266.5 1533V1553M267.5 1529V1543M268.5 1542V1545M269.5 1541V1558M270.5 1531V1559M271.5 1525V1556M272.5 1525V1542M273.5 1532V1545M274.5 1532V1544M275.5 1536V1544M276.5 1536V1553M277.5 1542V1553M278.5 1538V1543M279.5 1532V1538M280.5 1532V1550M281.5 1541V1545M282.5 1545V1558M283.5 1538V1558M284.5 1533V1545M285.5 1533V1556M286.5 1541V1552M287.5 1541V1554M288.5 1539V1554M289.5 1524V1552M290.5 1533V1552M291.5 1533V1552M292.5 1526V1546M293.5 1539V1553M294.5 1521V1553M295.5 1538V1557M296.5 1510V1557M297.5 1510V1544M298.5 1544V1560M299.5 1533V1560M300.5 1533V1551M301.5 1539V1541M302.5 1531V1555M303.5 1530V1540M304.5 1532V1540M305.5 1531V1545M306.5 1545V1556M307.5 1548V1554M308.5 1519V1554M309.5 1524V1533M310.5 1528V1541M311.5 1527V1541M312.5 1518V1536M313.5 1530V1555M314.5 1535V1548M315.5 1535V1548M316.5 1543V1548M317.5 1524V1548M318.5 1524V1534M319.5 1534V1546M320.5 1536V1538M321.5 1534V1552M322.5 1526V1557M323.5 1526V1549M324.5 1530V1549M325.5 1530V1539M326.5 1532V1549M327.5 1532V1546M328.5 1535V1544M329.5 1533V1540M330.5 1533V1545M331.5 1544V1552M332.5 1523V1552M333.5 1523V1541M334.5 1539V1546M335.5 1538V1548M336.5 1528V1538M337.5 1528V1551M338.5 1527V1536M339.5 1527V1556M340.5 1520V1556M341.5 1520V1542M342.5 1542V1546M343.5 1532V1544M344.5 1514V1544M345.5 1514V1531M346.5 1531V1551M347.5 1527V1551M348.5 1523V1541M349.5 1516V1538M350.5 1532V1540M351.5 1508V1538M352.5 1529V1538M353.5 1526V1535M354.5 1526V1545M355.5 1532V1542M356.5 1522V1542M357.5 1522V1537M358.5 1519V1533M359.5 1531V1543M360.5 1532V1558M361.5 1535V1558M362.5 1535V1561M363.5 1528V1535M364.5 1523V1534M365.5 1523V1541M366.5 1534V1544M367.5 1530V1544M368.5 1531V1536M369.5 1529V1542M370.5 1537V1542M371.5 1542V1550M372.5 1526V1550M373.5 1529V1540M374.5 1528V1549M375.5 1528V1541M376.5 1541V1554M377.5 1527V1554M378.5 1530V1548M379.5 1535V1548M380.5 1532V1542M381.5 1530V1550M382.5 1530V1540M383.5 1539V1543M384.5 1528V1543M385.5 1516V1540M386.5 1516V1551M387.5 1516V1549M388.5 1518V1549M389.5 1518V1552M390.5 1524V1555M391.5 1532V1540M392.5 1539V1546M393.5 1538V1546M394.5 1538V1554M395.5 1541V1548M396.5 1539V1541M397.5 1539V1547M398.5 1541V1551M399.5 1537V1551M400.5 1528V1550M401.5 1528V1559M402.5 1530V1559M403.5 1529V1553M404.5 1528V1545M405.5 1533V1536M406.5 1534V1550M407.5 1541V1549M408.5 1541V1557M409.5 1526V1550M410.5 1526V1545M411.5 1538V1545M412.5 1533V1545M413.5 1533V1543M414.5 1533V1540M415.5 1532V1538M416.5 1538V1564M417.5 1526V1564M418.5 1526V1534M419.5 1529V1543M420.5 1529V1546M421.5 1546V1556M422.5 1551V1560M423.5 1535V1565M424.5 1535V1544M425.5 1542V1552M426.5 1538V1560M427.5 1546V1560M428.5 1531V1547M429.5 1515V1541M430.5 1541V1545M431.5 1530V1544M432.5 1537V1560M433.5 1538V1549M434.5 1538V1555M435.5 1537V1555M436.5 1532V1544M437.5 1532V1547M438.5 1535V1547M439.5 1538V1556M440.5 1538V1549M441.5 1528V1541M442.5 1519V1541M443.5 1519V1536M444.5 1534V1557M445.5 1534V1547M446.5 1537V1547M447.5 1537V1559M448.5 1513V1555M449.5 1546V1551M450.5 1541V1551M451.5 1549V1561M452.5 1551V1559M453.5 1550V1551M454.5 1527V1565M455.5 1542V1565M456.5 1541V1545M457.5 1516V1545M458.5 1525V1542M459.5 1519V1528M460.5 1520V1546M461.5 1534V1538M462.5 1526V1537M463.5 1525V1535M464.5 1514V1535M465.5 1534V1552M466.5 1544V1552M467.5 1527V1549M468.5 1541V1549M469.5 1525V1543M470.5 1543V1554M471.5 1536V1546M472.5 1538V1544M473.5 1540V1547M474.5 1539V1542M475.5 1527V1542M476.5 1527V1543M477.5 1517V1544M478.5 1517V1551M479.5 1510V1556M480.5 1510V1553M481.5 1539V1553M482.5 1539V1541M483.5 1526V1543M484.5 1526V1552M485.5 1530V1552M486.5 1530V1549M487.5 1535V1549M488.5 1535V1547M489.5 1536V1554M490.5 1536V1549M491.5 1516V1549M492.5 1537V1543M493.5 1528V1544M494.5 1537V1551M495.5 1532V1537M496.5 1535V1555M497.5 1525V1552M498.5 1523V1534M499.5 1534V1541M500.5 1525V1541M501.5 1519V1544M502.5 1519V1564M503.5 1523V1544M504.5 1523V1549M505.5 1510V1549M506.5 1510V1551M507.5 1525V1546M508.5 1525V1541M509.5 1531V1559M510.5 1545V1559M511.5 1526V1549M512.5 1526V1550M513.5 1537V1554M514.5 1533V1541M515.5 1518V1539M516.5 1533V1542M517.5 1518V1536M518.5 1518V1553M519.5 1538V1553M520.5 1529V1545M521.5 1529V1540M522.5 1529V1571M523.5 1521V1540M524.5 1521V1555M525.5 1522V1545M526.5 1522V1532M527.5 1524V1550M528.5 1532V1560M529.5 1534V1553M530.5 1514V1553M531.5 1528V1550M532.5 1542V1550M533.5 1518V1542M534.5 1525V1552M535.5 1533V1552M536.5 1537V1559M537.5 1534V1546M538.5 1534V1538M539.5 1538V1539M540.5 1533V1559M541.5 1531V1559M542.5 1512V1541M543.5 1512V1549M544.5 1522V1540M545.5 1520V1541M546.5 1541V1555M547.5 1518V1552M548.5 1518V1557M549.5 1538V1557M550.5 1522V1550M551.5 1533V1543M552.5 1533V1545M553.5 1526V1545M554.5 1526V1546M555.5 1526V1543M556.5 1531V1545M557.5 1534V1545M558.5 1529V1540M559.5 1537V1559M560.5 1522V1559M561.5 1514V1561M562.5 1514V1556M563.5 1528V1553M564.5 1535V1544M565.5 1536V1543M566.5 1530V1543M567.5 1525V1543M568.5 1529V1536M569.5 1528V1551M570.5 1525V1528M571.5 1525V1544M572.5 1529V1544M573.5 1531V1538M574.5 1515V1544M575.5 1528V1548M576.5 1527V1537M577.5 1527V1549M578.5 1535V1570M579.5 1528V1535M580.5 1523V1540M581.5 1540V1548M582.5 1533V1548M583.5 1533V1552M584.5 1524V1547M585.5 1524V1530M586.5 1513V1533M587.5 1513V1551M588.5 1535V1547M589.5 1544V1555M590.5 1529V1544M591.5 1529V1558M592.5 1518V1558M593.5 1530V1556M594.5 1526V1556M595.5 1533V1573M596.5 1528V1573M597.5 1530V1547M598.5 1530V1543M599.5 1534V1543M600.5 1540V1558M601.5 1530V1540M602.5 1530V1550M603.5 1540V1550M604.5 1530V1568M605.5 1526V1541M606.5 1536V1545M607.5 1542V1552M608.5 1536V1544M609.5 1537V1544M610.5 1532V1546M611.5 1525V1546M612.5 1525V1546M613.5 1532V1546M614.5 1529V1546M615.5 1521V1536M616.5 1521V1556M617.5 1528V1556M618.5 1550V1555M619.5 1526V1555M620.5 1531V1557M621.5 1538V1546M622.5 1532V1546M623.5 1532V1546M624.5 1530V1546M625.5 1530V1553M626.5 1532V1548M627.5 1511V1549M628.5 1511V1540M629.5 1531V1548M630.5 1542V1573M631.5 1536V1573M632.5 1523V1550M633.5 1532V1550M634.5 1541V1553M635.5 1544V1553M636.5 1528V1553M637.5 1522V1545M638.5 1535V1561M639.5 1535V1539M640.5 1518V1544M641.5 1518V1551M642.5 1527V1551M643.5 1527V1545M644.5 1527V1555M645.5 1521V1540M646.5 1540V1547M647.5 1531V1547M648.5 1520V1551M649.5 1520V1545M650.5 1532V1547M651.5 1516V1532M652.5 1522V1532M653.5 1531V1550M654.5 1525V1539M655.5 1525V1549M656.5 1526V1559M657.5 1542V1559M658.5 1516V1554M659.5 1537V1558M660.5 1532V1537M661.5 1520V1550M662.5 1520V1561M663.5 1540V1561M664.5 1535V1560M665.5 1535V1548M666.5 1534V1539M667.5 1524V1535M668.5 1535V1550M669.5 1537V1550M670.5 1528V1542M671.5 1536V1537M672.5 1537V1542M673.5 1542V1552M674.5 1525V1547M675.5 1525V1539M676.5 1539V1547M677.5 1520V1547M678.5 1536V1541M679.5 1531V1543M680.5 1539V1546M681.5 1519V1546M682.5 1531V1558M683.5 1533V1543M684.5 1528V1557M685.5 1552V1558M686.5 1547V1555M687.5 1547V1557M688.5 1543V1558M689.5 1537V1543M690.5 1526V1538M691.5 1526V1558M692.5 1551V1558M693.5 1545V1553M694.5 1528V1548M695.5 1523V1542M696.5 1535V1540M697.5 1531V1556M698.5 1537V1556M699.5 1529V1537M700.5 1522V1553M701.5 1522V1551M702.5 1538V1553M703.5 1539V1553M704.5 1525V1556M705.5 1525V1560M706.5 1533V1559M707.5 1556V1578M708.5 1519V1556M709.5 1519V1545M710.5 1536V1542M711.5 1535V1551M712.5 1540V1551M713.5 1519V1545M714.5 1527V1550M715.5 1520V1550M716.5 1520V1538M717.5 1529V1548M718.5 1534V1553M719.5 1527V1547M720.5 1527V1545M721.5 1539V1544M722.5 1538V1552M723.5 1538V1556M724.5 1535V1556M725.5 1530V1540M726.5 1540V1547M727.5 1538V1547M728.5 1536V1557M729.5 1539V1557M730.5 1524V1547M731.5 1524V1550M732.5 1516V1548M733.5 1515V1517M734.5 1515V1533M735.5 1526V1537M736.5 1526V1533M737.5 1529V1545M738.5 1539V1544M739.5 1543V1555M740.5 1518V1543M741.5 1532V1544M742.5 1540V1545M743.5 1516V1551M744.5 1533V1551M745.5 1524V1546M746.5 1524V1541M747.5 1524V1548M748.5 1510V1524M749.5 1510V1525M750.5 1525V1541M751.5 1521V1541M752.5 1521V1533M753.5 1533V1536M754.5 1532V1540M755.5 1522V1540M756.5 1522V1555M757.5 1524V1562M758.5 1528V1562M759.5 1515V1542M760.5 1520V1550M761.5 1520V1537M762.5 1517V1538M763.5 1517V1537M764.5 1537V1542M765.5 1532V1542M766.5 1520V1548M767.5 1520V1546M768.5 1529V1549M769.5 1529V1535M770.5 1528V1545M771.5 1522V1545M772.5 1522V1537M773.5 1516V1522M774.5 1522V1535M775.5 1533V1540M776.5 1521V1556M777.5 1521V1539M778.5 1520V1537M779.5 1528V1536M780.5 1524V1543M781.5 1537V1543M782.5 1520V1552M783.5 1520V1546M784.5 1525V1540M785.5 1521V1534M786.5 1521V1544M787.5 1512V1544M788.5 1530V1544M789.5 1532V1539M790.5 1507V1532M791.5 1507V1531M792.5 1523V1541M793.5 1527V1537M794.5 1523V1537M795.5 1528V1541M796.5 1520V1545M797.5 1531V1545M798.5 1531V1548M799.5 1525V1549M800.5 1525V1552M801.5 1525V1551M802.5 1525V1536M803.5 1523V1536M804.5 1532V1550M805.5 1541V1550M806.5 1533V1560M807.5 1523V1560M808.5 1525V1540M809.5 1533V1547M810.5 1521V1547M811.5 1547V1558M812.5 1532V1548M813.5 1520V1550M814.5 1520V1530M815.5 1521V1559M816.5 1534V1559M817.5 1527V1550M818.5 1532V1550M819.5 1528V1550M820.5 1531V1555M821.5 1538V1557M822.5 1535V1557M823.5 1531V1550M824.5 1527V1538M825.5 1520V1538M826.5 1523V1537M827.5 1537V1549M828.5 1534V1549M829.5 1520V1539M830.5 1520V1540M831.5 1527V1544M832.5 1524V1539M833.5 1520V1539M834.5 1520V1546M835.5 1535V1538M836.5 1503V1535M837.5 1503V1529M838.5 1519V1539M839.5 1519V1539M840.5 1525V1550M841.5 1525V1536M842.5 1536V1548M843.5 1517V1548M844.5 1511V1552M845.5 1511V1549M846.5 1526V1549M847.5 1521V1533M848.5 1521V1538M849.5 1522V1540M850.5 1540V1549M851.5 1538V1549M852.5 1531V1539M853.5 1533V1543M854.5 1533V1542M855.5 1520V1545M856.5 1520V1536M857.5 1519V1546M858.5 1519V1521M859.5 1519V1542M860.5 1542V1559M861.5 1519V1559M862.5 1520V1531M863.5 1520V1533M864.5 1526V1534M865.5 1516V1540M866.5 1528V1540M867.5 1506V1528M868.5 1506V1537M869.5 1533V1540M870.5 1503V1533M871.5 1503V1537M872.5 1521V1529M873.5 1509V1541M874.5 1520V1541M875.5 1514V1525M876.5 1525V1542M877.5 1533V1543M878.5 1521V1543M879.5 1521V1539M880.5 1522V1545M881.5 1515V1545M882.5 1515V1541M883.5 1526V1534M884.5 1515V1526M885.5 1515V1537M886.5 1528V1537M887.5 1527V1535M888.5 1528V1538M889.5 1526V1548M890.5 1526V1536M891.5 1530V1546M892.5 1523V1546M893.5 1523V1526M894.5 1524V1529M895.5 1524V1530M896.5 1522V1535M897.5 1522V1532M898.5 1532V1541M899.5 1534V1537M900.5 1530V1545M901.5 1514V1535M902.5 1506V1535M903.5 1506V1537M904.5 1531V1536M905.5 1529V1544M906.5 1528V1544M907.5 1508V1531M908.5 1508V1537M909.5 1514V1536M910.5 1522V1532M911.5 1508V1550M912.5 1508V1529M913.5 1513V1547M914.5 1533V1559M915.5 1537V1559M916.5 1516V1537M917.5 1516V1547M918.5 1523V1547M919.5 1523V1533M920.5 1533V1545M921.5 1523V1540M922.5 1525V1540M923.5 1495V1538M924.5 1495V1550M925.5 1521V1542M926.5 1517V1538M927.5 1517V1553M928.5 1533V1545M929.5 1533V1541M930.5 1515V1533M931.5 1516V1534M932.5 1516V1528M933.5 1528V1548M934.5 1505V1548M935.5 1513V1550M936.5 1513V1542M937.5 1522V1542M938.5 1522V1537M939.5 1529V1537M940.5 1530V1533M941.5 1530V1533M942.5 1526V1541M943.5 1522V1541M944.5 1510V1522M945.5 1518V1529M946.5 1513V1534M947.5 1503V1519M948.5 1503V1538M949.5 1521V1538M950.5 1521V1532M951.5 1514V1529M952.5 1514V1531M953.5 1530V1533M954.5 1523V1548M955.5 1523V1548M956.5 1528V1538M957.5 1505V1538M958.5 1523V1532M959.5 1513V1525M960.5 1517V1540M961.5 1508V1536M962.5 1520V1539M963.5 1531V1539M964.5 1525V1535M965.5 1508V1526M966.5 1508V1540M967.5 1515V1542M968.5 1515V1517M969.5 1511V1517M970.5 1511V1533M971.5 1533V1546M972.5 1499V1546M973.5 1499V1518M974.5 1512V1521M975.5 1515V1537M976.5 1515V1547M977.5 1505V1547M978.5 1505V1536M979.5 1531V1533M980.5 1513V1533M981.5 1504V1526M982.5 1504V1538M983.5 1509V1538M984.5 1523V1537M985.5 1518V1539M986.5 1507V1544M987.5 1512V1544M988.5 1509V1523M989.5 1510V1535M990.5 1507V1529M991.5 1507V1518M992.5 1507V1528M993.5 1528V1529M994.5 1513V1529M995.5 1516V1538M996.5 1519V1538M997.5 1516V1536M998.5 1502V1529M999.5 1502V1529M1000.5 1498V1522M1001.5 1522V1534M1002.5 1498V1529M1003.5 1485V1511M1004.5 1511V1516M1005.5 1515V1534M1006.5 1503V1515M1007.5 1503V1508M1008.5 1508V1520M1009.5 1512V1517M1010.5 1517V1524M1011.5 1502V1530M1012.5 1502V1513M1013.5 1512V1524M1014.5 1505V1524M1015.5 1505V1535M1016.5 1504V1521M1017.5 1504V1523M1018.5 1499V1514M1019.5 1497V1514M1020.5 1497V1522M1021.5 1503V1524M1022.5 1524V1527M1023.5 1508V1527M1024.5 1507V1532M1025.5 1507V1526M1026.5 1516V1534M1027.5 1515V1519M1028.5 1514V1526M1029.5 1526V1535M1030.5 1511V1535M1031.5 1502V1521M1032.5 1506V1531M1033.5 1486V1508M1034.5 1487V1504M1035.5 1487V1522M1036.5 1504V1524M1037.5 1483V1524M1038.5 1511V1541M1039.5 1510V1541M1040.5 1506V1510M1041.5 1506V1520M1042.5 1514V1520M1043.5 1501V1515M1044.5 1497V1536M1045.5 1497V1523M1046.5 1507V1524M1047.5 1507V1524M1048.5 1516V1536M1049.5 1511V1536M1050.5 1476V1511M1051.5 1505V1521M1052.5 1505V1509M1053.5 1482V1520M1054.5 1489V1520M1055.5 1489V1521M1056.5 1509V1515M1057.5 1498V1519M1058.5 1495V1519M1059.5 1491V1510M1060.5 1491V1517M1061.5 1488V1527M1062.5 1488V1520M1063.5 1501V1516M1064.5 1479V1515M1065.5 1491V1513M1066.5 1491V1518M1067.5 1509V1523M1068.5 1505V1523M1069.5 1492V1524M1070.5 1481V1524M1071.5 1481V1532M1072.5 1480V1532M1073.5 1483V1512M1074.5 1484V1512M1075.5 1484V1516M1076.5 1491V1509M1077.5 1494V1527M1078.5 1473V1518M1079.5 1473V1508M1080.5 1490V1525M1081.5 1503V1525M1082.5 1484V1515M1083.5 1483V1525M1084.5 1483V1512M1085.5 1502V1514M1086.5 1500V1518M1087.5 1502V1518M1088.5 1482V1508M1089.5 1499V1510M1090.5 1472V1500M1091.5 1472V1496M1092.5 1496V1531M1093.5 1483V1531M1094.5 1480V1532M1095.5 1480V1487M1096.5 1487V1536M1097.5 1495V1536M1098.5 1478V1507M1099.5 1493V1536M1100.5 1512V1521M1101.5 1506V1521M1102.5 1477V1506M1103.5 1477V1494M1104.5 1487V1509M1105.5 1498V1525M1106.5 1475V1498M1107.5 1480V1513M1108.5 1501V1510M1109.5 1499V1514M1110.5 1493V1502M1111.5 1469V1499M1112.5 1497V1503M1113.5 1489V1503M1114.5 1491V1503M1115.5 1482V1491M1116.5 1486V1509M1117.5 1494V1523M1118.5 1494V1513M1119.5 1479V1513M1120.5 1487V1504M1121.5 1488V1505M1122.5 1476V1498M1123.5 1476V1491M1124.5 1479V1535M1125.5 1487V1535M1126.5 1478V1487M1127.5 1478V1517M1128.5 1478V1525M1129.5 1484V1506M1130.5 1475V1488M1131.5 1482V1506M1132.5 1452V1514M1133.5 1471V1514M1134.5 1454V1505M1135.5 1454V1491M1136.5 1489V1491M1137.5 1462V1494M1138.5 1470V1494M1139.5 1460V1505M1140.5 1470V1505M1141.5 1467V1483M1142.5 1454V1483M1143.5 1474V1505M1144.5 1472V1505M1145.5 1475V1495M1146.5 1486V1513M1147.5 1486V1506M1148.5 1481V1506M1149.5 1470V1487M1150.5 1467V1517M1151.5 1492V1517M1152.5 1464V1492M1153.5 1470V1483M1154.5 1459V1471M1155.5 1471V1526M1156.5 1472V1498M1157.5 1491V1498M1158.5 1467V1509M1159.5 1484V1518M1160.5 1470V1484M1161.5 1462V1494M1162.5 1494V1512M1163.5 1463V1512M1164.5 1481V1499M1165.5 1471V1490M1166.5 1465V1522M1167.5 1465V1477M1168.5 1477V1504M1169.5 1449V1504M1170.5 1449V1466M1171.5 1465V1490M1172.5 1467V1498M1173.5 1456V1498M1174.5 1460V1507M1175.5 1460V1503M1176.5 1478V1503M1177.5 1461V1491M1178.5 1466V1491M1179.5 1476V1492M1180.5 1467V1485M1181.5 1472V1485M1182.5 1453V1482M1183.5 1475V1499M1184.5 1475V1477M1185.5 1460V1492M1186.5 1460V1518M1187.5 1486V1518M1188.5 1486V1493M1189.5 1479V1493M1190.5 1481V1493M1191.5 1487V1515M1192.5 1471V1518M1193.5 1471V1497M1194.5 1473V1487M1195.5 1454V1483M1196.5 1481V1491M1197.5 1460V1489M1198.5 1460V1494M1199.5 1467V1517M1200.5 1480V1488M1201.5 1470V1487M1202.5 1479V1507M1203.5 1485V1507M1204.5 1486V1499M1205.5 1447V1514M1206.5 1455V1514M1207.5 1464V1475M1208.5 1467V1510M1209.5 1460V1480M1210.5 1465V1473M1211.5 1467V1487M1212.5 1455V1487M1213.5 1455V1492M1214.5 1470V1492M1215.5 1443V1488M1216.5 1443V1475M1217.5 1475V1492M1218.5 1474V1492M1219.5 1454V1478M1220.5 1454V1497M1221.5 1466V1497M1222.5 1466V1501M1223.5 1498V1503M1224.5 1468V1503M1225.5 1443V1468M1226.5 1443V1494M1227.5 1459V1511M1228.5 1459V1503M1229.5 1476V1483M1230.5 1454V1478M1231.5 1458V1473M1232.5 1467V1479M1233.5 1464V1488M1234.5 1464V1467M1235.5 1467V1482M1236.5 1472V1494M1237.5 1466V1482M1238.5 1482V1508M1239.5 1445V1492M1240.5 1470V1479M1241.5 1474V1491M1242.5 1449V1478M1243.5 1449V1475M1244.5 1464V1495M1245.5 1461V1495M1246.5 1448V1486M1247.5 1448V1464M1248.5 1451V1474M1249.5 1469V1500M1250.5 1478V1500M1251.5 1478V1508M1252.5 1468V1508M1253.5 1472V1493M1254.5 1440V1493M1255.5 1474V1521M1256.5 1475V1517M1257.5 1488V1517M1258.5 1444V1514M1259.5 1444V1500M1260.5 1484V1521M1261.5 1446V1484M1262.5 1439V1475M1263.5 1457V1502M1264.5 1457V1465M1265.5 1465V1484M1266.5 1479V1486M1267.5 1455V1494M1268.5 1457V1494M1269.5 1457V1463M1270.5 1442V1507M1271.5 1473V1507M1272.5 1469V1492M1273.5 1469V1495M1274.5 1454V1495M1275.5 1442V1460M1276.5 1460V1490M1277.5 1462V1499M1278.5 1453V1476M1279.5 1453V1508M1280.5 1443V1508M1281.5 1443V1485M1282.5 1457V1506M1283.5 1449V1506M1284.5 1477V1497M1285.5 1477V1495M1286.5 1463V1481M1287.5 1440V1505M1288.5 1440V1476M1289.5 1457V1487M1290.5 1444V1487M1291.5 1444V1494M1292.5 1456V1494M1293.5 1454V1477M1294.5 1477V1481M1295.5 1472V1484M1296.5 1472V1483M1297.5 1468V1479M1298.5 1456V1478M1299.5 1452V1469M1300.5 1452V1483M1301.5 1461V1462M1302.5 1456V1462M1303.5 1456V1484M1304.5 1463V1489M1305.5 1439V1478M1306.5 1439V1489M1307.5 1455V1495M1308.5 1481V1509M1309.5 1460V1510M1310.5 1492V1510M1311.5 1471V1503M1312.5 1429V1471M1313.5 1460V1482M1314.5 1463V1482M1315.5 1454V1490M1316.5 1456V1490M1317.5 1456V1497M1318.5 1458V1497M1319.5 1458V1475M1320.5 1461V1471M1321.5 1443V1468M1322.5 1443V1468M1323.5 1449V1468M1324.5 1460V1484M1325.5 1442V1471M1326.5 1442V1508M1327.5 1466V1508M1328.5 1466V1481M1329.5 1459V1485M1330.5 1459V1467M1331.5 1443V1467M1332.5 1443V1487M1333.5 1448V1471M1334.5 1448V1466M1335.5 1451V1478M1336.5 1469V1487M1337.5 1472V1487M1338.5 1478V1490M1339.5 1428V1490M1340.5 1473V1490M1341.5 1465V1497M1342.5 1431V1477M1343.5 1431V1496M1344.5 1464V1467M1345.5 1435V1479M1346.5 1435V1502M1347.5 1467V1494M1348.5 1478V1494M1349.5 1452V1488M1350.5 1454V1488M1351.5 1454V1474M1352.5 1455V1484M1353.5 1458V1484M1354.5 1474V1484M1355.5 1451V1477M1356.5 1470V1479M1357.5 1462V1475M1358.5 1462V1475M1359.5 1468V1498M1360.5 1479V1500M1361.5 1458V1479M1362.5 1464V1488M1363.5 1462V1496M1364.5 1445V1485M1365.5 1445V1478M1366.5 1472V1478M1367.5 1449V1472M1368.5 1458V1471M1369.5 1455V1474M1370.5 1455V1509M1371.5 1477V1509M1372.5 1462V1493M1373.5 1448V1463M1374.5 1448V1480M1375.5 1454V1480M1376.5 1455V1483M1377.5 1462V1483M1378.5 1450V1480M1379.5 1468V1479M1380.5 1447V1479M1381.5 1454V1466M1382.5 1454V1476M1383.5 1455V1475M1384.5 1439V1468M1385.5 1439V1476M1386.5 1440V1465M1387.5 1465V1472M1388.5 1426V1465M1389.5 1440V1461M1390.5 1439V1461M1391.5 1448V1471M1392.5 1466V1474M1393.5 1440V1472M1394.5 1447V1472M1395.5 1457V1484M1396.5 1455V1484M1397.5 1458V1473M1398.5 1458V1473M1399.5 1453V1468M1400.5 1451V1497M1401.5 1451V1498M1402.5 1461V1492M1403.5 1451V1468M1404.5 1468V1473M1405.5 1442V1473M1406.5 1442V1463M1407.5 1452V1465M1408.5 1465V1490M1409.5 1471V1489M1410.5 1489V1499M1411.5 1433V1491M1412.5 1450V1480M1413.5 1440V1503M1414.5 1445V1503M1415.5 1425V1479M1416.5 1479V1481M1417.5 1467V1480M1418.5 1465V1496M1419.5 1476V1496M1420.5 1433V1482M1421.5 1433V1484M1422.5 1461V1474M1423.5 1455V1468M1424.5 1432V1475M1425.5 1432V1465M1426.5 1447V1459M1427.5 1459V1460M1428.5 1440V1493M1429.5 1440V1463M1430.5 1462V1470M1431.5 1469V1479M1432.5 1446V1505M1433.5 1463V1505M1434.5 1447V1464M1435.5 1447V1463M1436.5 1463V1472M1437.5 1443V1475M1438.5 1442V1482M1439.5 1439V1509M1440.5 1439V1481M1441.5 1453V1489M1442.5 1434V1489M1443.5 1450V1491M1444.5 1435V1491M1445.5 1435V1493M1446.5 1448V1493M1447.5 1436V1514M1448.5 1431V1514M1449.5 1428V1486M1450.5 1461V1487M1451.5 1454V1477M1452.5 1467V1478M1453.5 1438V1468M1454.5 1442V1508M1455.5 1442V1448M1456.5 1447V1492M1457.5 1443V1492M1458.5 1440V1460M1459.5 1448V1469M1460.5 1433V1469M1461.5 1433V1498M1462.5 1447V1489M1463.5 1421V1465M1464.5 1421V1483M1465.5 1445V1483M1466.5 1412V1467M1467.5 1437V1467M1468.5 1441V1486M1469.5 1451V1486M1470.5 1449V1464M1471.5 1449V1476M1472.5 1454V1469M1473.5 1441V1471M1474.5 1441V1467M1475.5 1404V1457M1476.5 1435V1502M1477.5 1450V1502M1478.5 1444V1484M1479.5 1444V1484M1480.5 1431V1455M1481.5 1431V1480M1482.5 1461V1526M1483.5 1450V1526M1484.5 1465V1485M1485.5 1449V1465M1486.5 1449V1478M1487.5 1449V1478M1488.5 1438V1460M1489.5 1429V1460M1490.5 1445V1499M1491.5 1445V1479M1492.5 1457V1479M1493.5 1457V1470M1494.5 1446V1463M1495.5 1446V1472M1496.5 1464V1469M1497.5 1455V1469M1498.5 1452V1464M1499.5 1418V1452M1500.5 1447V1463M1501.5 1463V1487M1502.5 1487V1491M1503.5 1458V1491M1504.5 1422V1482M1505.5 1441V1493M1506.5 1460V1470M1507.5 1457V1472M1508.5 1436V1462M1509.5 1436V1479M1510.5 1466V1480M1511.5 1453V1466M1512.5 1437V1457M1513.5 1437V1472M1514.5 1451V1504M1515.5 1435V1489M1516.5 1435V1479M1517.5 1471V1479M1518.5 1450V1474M1519.5 1448V1455M1520.5 1438V1482M1521.5 1444V1482M1522.5 1445V1494M1523.5 1468V1494M1524.5 1465V1492M1525.5 1436V1492M1526.5 1436V1466M1527.5 1452V1467M1528.5 1452V1485M1529.5 1452V1487M1530.5 1405V1487M1531.5 1405V1474M1532.5 1458V1474M1533.5 1460V1476M1534.5 1411V1474M1535.5 1411V1477M1536.5 1464V1477M1537.5 1464V1471M1538.5 1445V1466M1539.5 1446V1469M1540.5 1446V1479M1541.5 1472V1496M1542.5 1459V1498M1543.5 1457V1485M1544.5 1453V1485M1545.5 1440V1461M1546.5 1438V1461M1547.5 1438V1469M1548.5 1454V1477M1549.5 1450V1459M1550.5 1387V1459M1551.5 1453V1485M1552.5 1454V1482M1553.5 1434V1461M1554.5 1443V1467M1555.5 1446V1495M1556.5 1472V1485M1557.5 1457V1472M1558.5 1434V1480M1559.5 1480V1483M1560.5 1466V1497M1561.5 1471V1497M1562.5 1461V1473M1563.5 1443V1462M1564.5 1461V1466M1565.5 1444V1466M1566.5 1444V1462M1567.5 1450V1486M1568.5 1450V1474M1569.5 1450V1461M1570.5 1450V1504M1571.5 1464V1478M1572.5 1446V1478M1573.5 1443V1468M1574.5 1443V1490M1575.5 1442V1490M1576.5 1437V1477M1577.5 1437V1468M1578.5 1434V1463M1579.5 1461V1479M1580.5 1457V1486M1581.5 1461V1486M1582.5 1444V1461M1583.5 1452V1468M1584.5 1460V1481M1585.5 1458V1500M1586.5 1450V1500M1587.5 1464V1485M1588.5 1464V1474M1589.5 1428V1488M1590.5 1451V1488M1591.5 1456V1488M1592.5 1456V1469M1593.5 1446V1471M1594.5 1452V1471M1595.5 1444V1469M1596.5 1421V1469M1597.5 1444V1468M1598.5 1468V1502M1599.5 1436V1481M1600.5 1436V1481M1601.5 1439V1453M1602.5 1434V1470M1603.5 1470V1476M1604.5 1423V1471M1605.5 1423V1490M1606.5 1422V1490M1607.5 1438V1486M1608.5 1461V1475M1609.5 1461V1464M1610.5 1418V1462M1611.5 1418V1479M1612.5 1441V1479M1613.5 1447V1472M1614.5 1447V1477M1615.5 1432V1454M1616.5 1432V1478M1617.5 1441V1469M1618.5 1456V1488M1619.5 1435V1488M1620.5 1435V1442M1621.5 1442V1448M1622.5 1441V1450M1623.5 1441V1482M1624.5 1441V1487M1625.5 1480V1487M1626.5 1443V1484M1627.5 1421V1485M1628.5 1421V1456M1629.5 1447V1453M1630.5 1447V1459M1631.5 1445V1467M1632.5 1445V1472M1633.5 1445V1472M1634.5 1445V1473M1635.5 1460V1473M1636.5 1460V1478M1637.5 1472V1525M1638.5 1476V1525M1639.5 1454V1479M1640.5 1454V1478M1641.5 1463V1489M1642.5 1454V1468M1643.5 1457V1468M1644.5 1457V1487M1645.5 1452V1494M1646.5 1436V1494M1647.5 1436V1471M1648.5 1434V1472M1649.5 1434V1479M1650.5 1442V1479M1651.5 1444V1502M1652.5 1437V1502M1653.5 1437V1492M1654.5 1441V1459M1655.5 1456V1485M1656.5 1460V1483M1657.5 1445V1469M1658.5 1464V1487M1659.5 1451V1484M1660.5 1454V1484M1661.5 1464V1467M1662.5 1451V1465M1663.5 1455V1460M1664.5 1421V1457M1665.5 1453V1484M1666.5 1431V1484M1667.5 1431V1472M1668.5 1448V1472M1669.5 1444V1452M1670.5 1438V1452M1671.5 1438V1487M1672.5 1458V1487M1673.5 1424V1465M1674.5 1430V1472M1675.5 1441V1479M1676.5 1441V1451M1677.5 1435V1453M1678.5 1435V1475M1679.5 1441V1446M1680.5 1442V1483M1681.5 1463V1483M1682.5 1445V1463M1683.5 1445V1477M1684.5 1461V1482M1685.5 1439V1461M1686.5 1450V1467M1687.5 1463V1480M1688.5 1472V1480M1689.5 1467V1483M1690.5 1456V1484M1691.5 1454V1492M1692.5 1462V1501M1693.5 1426V1501M1694.5 1468V1504M1695.5 1455V1504M1696.5 1449V1468M1697.5 1449V1473M1698.5 1468V1496M1699.5 1414V1496M1700.5 1460V1487M1701.5 1464V1487M1702.5 1464V1516M1703.5 1445V1516M1704.5 1445V1470M1705.5 1447V1476M1706.5 1459V1476M1707.5 1435V1465M1708.5 1435V1454M1709.5 1454V1460M1710.5 1460V1497M1711.5 1427V1497M1712.5 1443V1481M1713.5 1443V1458M1714.5 1445V1461M1715.5 1458V1464M1716.5 1428V1473M1717.5 1428V1478M1718.5 1436V1477M1719.5 1450V1477M1720.5 1446V1453M1721.5 1428V1456M1722.5 1446V1463M1723.5 1409V1454M1724.5 1409V1477M1725.5 1437V1470M1726.5 1465V1479M1727.5 1459V1475M1728.5 1451V1487M1729.5 1416V1487M1730.5 1437V1476M1731.5 1458V1476M1732.5 1458V1474M1733.5 1457V1474M1734.5 1442V1468M1735.5 1442V1456M1736.5 1456V1483M1737.5 1429V1483M1738.5 1429V1483M1739.5 1438V1481M1740.5 1449V1460M1741.5 1445V1477M1742.5 1416V1477M1743.5 1416V1460M1744.5 1434V1470M1745.5 1446V1470M1746.5 1459V1468M1747.5 1444V1468M1748.5 1444V1471M1749.5 1426V1466M1750.5 1442V1456M1751.5 1412V1456M1752.5 1433V1493M1753.5 1433V1492M1754.5 1465V1492M1755.5 1432V1477M1756.5 1432V1466M1757.5 1442V1466M1758.5 1425V1454M1759.5 1408V1474M1760.5 1434V1474M1761.5 1438V1461M1762.5 1454V1469M1763.5 1456V1471M1764.5 1447V1480M1765.5 1454V1480M1766.5 1454V1486M1767.5 1462V1504M1768.5 1460V1478M1769.5 1477V1486M1770.5 1454V1486M1771.5 1454V1490M1772.5 1456V1460M1773.5 1445V1474M1774.5 1445V1501M1775.5 1486V1501M1776.5 1486V1504M1777.5 1457V1504M1778.5 1463V1485M1779.5 1459V1475M1780.5 1459V1477M1781.5 1477V1483M1782.5 1428V1481M1783.5 1428V1471M1784.5 1451V1466M1785.5 1451V1479M1786.5 1459V1469M1787.5 1448V1475M1788.5 1448V1481M1789.5 1456V1477M1790.5 1446V1457M1791.5 1446V1469M1792.5 1464V1469M1793.5 1437V1468M1794.5 1458V1485M1795.5 1453V1470M1796.5 1453V1479M1797.5 1461V1468M1798.5 1453V1501M1799.5 1436V1493M1800.5 1436V1475M1801.5 1454V1480M1802.5 1461V1490M1803.5 1456V1463M1804.5 1437V1456M1805.5 1455V1477M1806.5 1455V1477M1807.5 1455V1462M1808.5 1459V1483M1809.5 1428V1472M1810.5 1427V1480M1811.5 1427V1477M1812.5 1460V1488M1813.5 1460V1464M1814.5 1463V1489M1815.5 1475V1489M1816.5 1465V1488M1817.5 1470V1481M1818.5 1479V1497M1819.5 1455V1497M1820.5 1463V1491M1821.5 1453V1491M1822.5 1453V1483M1823.5 1457V1488M1824.5 1442V1488M1825.5 1442V1495M1826.5 1407V1473M1827.5 1407V1461M1828.5 1450V1461M1829.5 1452V1469M1830.5 1441V1471M1831.5 1441V1464M1832.5 1456V1511M1833.5 1453V1470M1834.5 1435V1465M1835.5 1465V1486M1836.5 1458V1504M1837.5 1447V1466M1838.5 1466V1472M1839.5 1461V1489M1840.5 1461V1486M1841.5 1472V1492M1842.5 1477V1501M1843.5 1450V1494M1844.5 1452V1494M1845.5 1442V1463M1846.5 1446V1465M1847.5 1439V1465M1848.5 1448V1490M1849.5 1439V1490M1850.5 1439V1506M1851.5 1437V1506M1852.5 1437V1467M1853.5 1435V1475M1854.5 1435V1460M1855.5 1455V1489M1856.5 1427V1483M1857.5 1454V1480M1858.5 1430V1459M1859.5 1430V1457M1860.5 1441V1465M1861.5 1442V1465M1862.5 1436V1475M1863.5 1431V1479M1864.5 1458V1479M1865.5 1445V1464M1866.5 1426V1462M1867.5 1426V1467M1868.5 1429V1458M1869.5 1429V1492M1870.5 1458V1492M1871.5 1458V1494M1872.5 1422V1465M1873.5 1422V1483M1874.5 1452V1479M1875.5 1466V1479M1876.5 1452V1466M1877.5 1463V1465M1878.5 1435V1465M1879.5 1440V1480M1880.5 1425V1480M1881.5 1425V1482M1882.5 1460V1497M1883.5 1471V1497M1884.5 1468V1488M1885.5 1443V1468M1886.5 1440V1455M1887.5 1445V1455M1888.5 1445V1491M1889.5 1458V1470M1890.5 1458V1466M1891.5 1448V1459M1892.5 1427V1459M1893.5 1451V1458M1894.5 1446V1457M1895.5 1444V1469M1896.5 1443V1486M1897.5 1449V1486M1898.5 1453V1472M1899.5 1440V1472M1900.5 1434V1440M1901.5 1434V1467M1902.5 1454V1474M1903.5 1452V1477M1904.5 1461V1487M1905.5 1474V1487M1906.5 1465V1492M1907.5 1454V1471M1908.5 1460V1515M1909.5 1460V1515M1910.5 1454V1499M1911.5 1441V1499M1912.5 1459V1462M1913.5 1459V1482M1914.5 1442V1482M1915.5 1458V1479M1916.5 1459V1489M1917.5 1433V1472M1918.5 1469V1493M1919.5 1460V1479M1920.5 1457V1475M1921.5 1437V1475M1922.5 1470V1482M1923.5 1459V1485M1924.5 1478V1485M1925.5 1448V1479M1926.5 1440V1468M1927.5 1451V1477M1928.5 1446V1477M1929.5 1446V1474M1930.5 1462V1474M1931.5 1461V1470M1932.5 1456V1469M1933.5 1436V1469M1934.5 1452V1465M1935.5 1465V1472M1936.5 1462V1471M1937.5 1461V1478M1938.5 1447V1478M1939.5 1455V1474M1940.5 1452V1474M1941.5 1452V1475M1942.5 1447V1496M1943.5 1441V1496M1944.5 1441V1498M1945.5 1442V1482M1946.5 1426V1454M1947.5 1426V1444M1948.5 1439V1482M1949.5 1430V1482M1950.5 1430V1492M1951.5 1448V1474M1952.5 1449V1477M1953.5 1449V1486M1954.5 1415V1464M1955.5 1415V1482M1956.5 1438V1483M1957.5 1445V1483M1958.5 1445V1454M1959.5 1448V1481M1960.5 1452V1481M1961.5 1444V1462M1962.5 1444V1452M1963.5 1447V1486M1964.5 1450V1504M1965.5 1450V1483M1966.5 1454V1479M1967.5 1456V1464M1968.5 1436V1464M1969.5 1417V1493M1970.5 1463V1493M1971.5 1463V1488M1972.5 1444V1464M1973.5 1435V1462M1974.5 1462V1470M1975.5 1441V1467M1976.5 1439V1464M1977.5 1427V1468M1978.5 1462V1468M1979.5 1468V1491M1980.5 1453V1491M1981.5 1453V1482M1982.5 1453V1464M1983.5 1455V1462M1984.5 1426V1468M1985.5 1426V1477M1986.5 1449V1452M1987.5 1437V1474M1988.5 1447V1474M1989.5 1451V1476M1990.5 1454V1476M1991.5 1458V1465M1992.5 1446V1466M1993.5 1442V1457M1994.5 1442V1477M1995.5 1462V1469M1996.5 1433V1462M1997.5 1433V1467M1998.5 1442V1484M1999.5 1445V1484M2000.5 1445V1495M2001.5 1462V1495" fill="none" stroke="#a4a4a4" stroke-width="1.0"/>
<path d="M244.5 1538V1545M245.5 1532V1549M246.5 1532V1550M247.5 1545V1550M248.5 1532V1554M249.5 1532V1561M250.5 1536V1555M251.5 1524V1549M252.5 1524V1549M253.5 1537V1541M254.5 1537V1544M255.5 1528V1545M256.5 1528V1541M257.5 1530V1541M258.5 1541V1553M259.5 1537V1551M260.5 1536V1546M261.5 1545V1555M262.5 1545V1552M263.5 1525V1561M264.5 1524V1544M265.5 1542V1552M266.5 1534V1550M267.5 1533V1538M268.5 1538V1554M269.5 1538V1553M270.5 1539V1548M271.5 1534V1546M272.5 1538V1545M273.5 1537V1545M274.5 1537V1547M275.5 1541V1546M276.5 1537V1552M277.5 1537V1559M278.5 1543V1563M279.5 1550V1566M280.5 1529V1550M281.5 1529V1563M282.5 1551V1563M283.5 1538V1553M284.5 1534V1549M285.5 1534V1550M286.5 1546V1551M287.5 1541V1551M288.5 1528V1551M289.5 1528V1538M290.5 1538V1552M291.5 1547V1548M292.5 1547V1555M293.5 1529V1555M294.5 1529V1552M295.5 1543V1546M296.5 1530V1543M297.5 1530V1556M298.5 1547V1556M299.5 1541V1548M300.5 1541V1546M301.5 1539V1547M302.5 1526V1562M303.5 1526V1552M304.5 1532V1552M305.5 1540V1548M306.5 1530V1540M307.5 1530V1569M308.5 1542V1569M309.5 1542V1549M310.5 1536V1549M311.5 1540V1550M312.5 1527V1540M313.5 1532V1547M314.5 1541V1559M315.5 1538V1559M316.5 1538V1567M317.5 1534V1567M318.5 1544V1564M319.5 1542V1560M320.5 1540V1560M321.5 1540V1564M322.5 1547V1550M323.5 1543V1548M324.5 1543V1552M325.5 1552V1558M326.5 1558V1562M327.5 1541V1562M328.5 1531V1557M329.5 1531V1550M330.5 1531V1562M331.5 1533V1562M332.5 1533V1540M333.5 1540V1548M334.5 1546V1558M335.5 1538V1550M336.5 1538V1553M337.5 1529V1561M338.5 1537V1561M339.5 1537V1554M340.5 1533V1554M341.5 1544V1566M342.5 1545V1566M343.5 1539V1567M344.5 1546V1567M345.5 1538V1549M346.5 1534V1547M347.5 1534V1562M348.5 1545V1559M349.5 1534V1561M350.5 1539V1562M351.5 1539V1553M352.5 1545V1555M353.5 1537V1553M354.5 1544V1553M355.5 1548V1558M356.5 1531V1558M357.5 1531V1553M358.5 1543V1557M359.5 1544V1560M360.5 1545V1551M361.5 1527V1551M362.5 1534V1551M363.5 1534V1549M364.5 1544V1549M365.5 1544V1553M366.5 1544V1553M367.5 1538V1544M368.5 1538V1551M369.5 1531V1548M370.5 1543V1557M371.5 1543V1555M372.5 1536V1551M373.5 1545V1553M374.5 1519V1555M375.5 1538V1555M376.5 1538V1558M377.5 1546V1556M378.5 1549V1561M379.5 1549V1555M380.5 1541V1564M381.5 1550V1564M382.5 1550V1559M383.5 1544V1559M384.5 1550V1559M385.5 1556V1559M386.5 1552V1568M387.5 1543V1552M388.5 1543V1557M389.5 1543V1557M390.5 1543V1546M391.5 1542V1566M392.5 1535V1554M393.5 1535V1564M394.5 1538V1564M395.5 1532V1561M396.5 1539V1551M397.5 1548V1558M398.5 1551V1558M399.5 1544V1554M400.5 1542V1554M401.5 1543V1555M402.5 1549V1571M403.5 1539V1568M404.5 1539V1554M405.5 1554V1556M406.5 1547V1564M407.5 1547V1559M408.5 1521V1551M409.5 1539V1550M410.5 1546V1554M411.5 1539V1561M412.5 1539V1558M413.5 1537V1561M414.5 1547V1561M415.5 1547V1548M416.5 1547V1561M417.5 1535V1561M418.5 1533V1554M419.5 1522V1554M420.5 1532V1548M421.5 1548V1561M422.5 1550V1583M423.5 1550V1558M424.5 1547V1558M425.5 1550V1557M426.5 1541V1550M427.5 1543V1556M428.5 1547V1552M429.5 1548V1552M430.5 1548V1556M431.5 1552V1561M432.5 1541V1552M433.5 1532V1554M434.5 1532V1558M435.5 1542V1558M436.5 1522V1561M437.5 1522V1548M438.5 1544V1558M439.5 1558V1564M440.5 1553V1560M441.5 1547V1553M442.5 1534V1550M443.5 1545V1556M444.5 1535V1558M445.5 1535V1545M446.5 1541V1561M447.5 1539V1548M448.5 1539V1546M449.5 1542V1572M450.5 1541V1572M451.5 1544V1564M452.5 1543V1564M453.5 1544V1568M454.5 1547V1568M455.5 1519V1547M456.5 1519V1553M457.5 1553V1564M458.5 1550V1565M459.5 1546V1568M460.5 1546V1563M461.5 1544V1563M462.5 1551V1562M463.5 1530V1562M464.5 1530V1563M465.5 1540V1563M466.5 1539V1545M467.5 1536V1552M468.5 1536V1560M469.5 1557V1565M470.5 1557V1559M471.5 1528V1557M472.5 1528V1553M473.5 1522V1562M474.5 1530V1562M475.5 1530V1550M476.5 1547V1560M477.5 1534V1560M478.5 1535V1554M479.5 1539V1551M480.5 1525V1570M481.5 1525V1539M482.5 1535V1556M483.5 1539V1558M484.5 1541V1558M485.5 1547V1554M486.5 1547V1553M487.5 1549V1570M488.5 1543V1570M489.5 1552V1559M490.5 1553V1574M491.5 1528V1574M492.5 1542V1561M493.5 1541V1553M494.5 1546V1565M495.5 1540V1565M496.5 1551V1564M497.5 1547V1560M498.5 1532V1547M499.5 1533V1557M500.5 1557V1562M501.5 1556V1562M502.5 1541V1556M503.5 1541V1560M504.5 1530V1552M505.5 1549V1572M506.5 1545V1572M507.5 1536V1554M508.5 1539V1554M509.5 1534V1549M510.5 1534V1552M511.5 1537V1550M512.5 1537V1544M513.5 1544V1554M514.5 1521V1552M515.5 1544V1552M516.5 1551V1557M517.5 1537V1553M518.5 1541V1555M519.5 1537V1555M520.5 1534V1549M521.5 1537V1569M522.5 1553V1569M523.5 1539V1557M524.5 1518V1560M525.5 1525V1560M526.5 1525V1574M527.5 1542V1561M528.5 1526V1542M529.5 1523V1553M530.5 1523V1557M531.5 1546V1557M532.5 1518V1546M533.5 1542V1558M534.5 1541V1554M535.5 1541V1551M536.5 1537V1541M537.5 1536V1544M538.5 1544V1551M539.5 1543V1551M540.5 1523V1550M541.5 1536V1563M542.5 1542V1568M543.5 1552V1568M544.5 1548V1563M545.5 1541V1551M546.5 1541V1554M547.5 1535V1557M548.5 1544V1557M549.5 1537V1553M550.5 1530V1548M551.5 1537V1546M552.5 1537V1549M553.5 1528V1549M554.5 1528V1546M555.5 1539V1546M556.5 1539V1568M557.5 1557V1561M558.5 1540V1561M559.5 1532V1552M560.5 1531V1552M561.5 1543V1557M562.5 1541V1555M563.5 1542V1563M564.5 1546V1555M565.5 1541V1553M566.5 1532V1546M567.5 1532V1554M568.5 1552V1561M569.5 1546V1566M570.5 1543V1566M571.5 1544V1560M572.5 1537V1549M573.5 1549V1571M574.5 1545V1553M575.5 1545V1555M576.5 1553V1562M577.5 1547V1562M578.5 1552V1563M579.5 1539V1560M580.5 1538V1560M581.5 1538V1542M582.5 1542V1554M583.5 1549V1571M584.5 1547V1571M585.5 1540V1561M586.5 1539V1561M587.5 1539V1550M588.5 1544V1550M589.5 1520V1550M590.5 1543V1554M591.5 1545V1554M592.5 1545V1572M593.5 1551V1557M594.5 1540V1552M595.5 1538V1550M596.5 1532V1554M597.5 1544V1555M598.5 1540V1555M599.5 1540V1544M600.5 1544V1562M601.5 1547V1562M602.5 1541V1563M603.5 1543V1563M604.5 1536V1554M605.5 1550V1568M606.5 1541V1550M607.5 1527V1544M608.5 1527V1558M609.5 1520V1544M610.5 1520V1552M611.5 1551V1562M612.5 1531V1558M613.5 1531V1550M614.5 1532V1548M615.5 1532V1545M616.5 1529V1545M617.5 1524V1547M618.5 1546V1559M619.5 1520V1546M620.5 1529V1548M621.5 1548V1563M622.5 1519V1556M623.5 1548V1564M624.5 1550V1564M625.5 1526V1559M626.5 1524V1559M627.5 1524V1552M628.5 1552V1559M629.5 1548V1556M630.5 1548V1553M631.5 1523V1549M632.5 1523V1543M633.5 1536V1549M634.5 1536V1554M635.5 1532V1552M636.5 1533V1550M637.5 1519V1541M638.5 1541V1546M639.5 1544V1555M640.5 1538V1560M641.5 1538V1561M642.5 1524V1549M643.5 1524V1556M644.5 1544V1556M645.5 1531V1552M646.5 1533V1559M647.5 1538V1559M648.5 1535V1538M649.5 1538V1547M650.5 1527V1547M651.5 1532V1562M652.5 1524V1562M653.5 1531V1553M654.5 1547V1555M655.5 1527V1548M656.5 1527V1558M657.5 1535V1555M658.5 1526V1564M659.5 1541V1564M660.5 1533V1545M661.5 1545V1554M662.5 1554V1555M663.5 1542V1554M664.5 1542V1545M665.5 1545V1556M666.5 1533V1552M667.5 1522V1540M668.5 1523V1543M669.5 1523V1545M670.5 1527V1545M671.5 1527V1535M672.5 1527V1551M673.5 1536V1569M674.5 1536V1558M675.5 1542V1552M676.5 1520V1552M677.5 1528V1556M678.5 1546V1560M679.5 1534V1548M680.5 1534V1548M681.5 1531V1539M682.5 1531V1564M683.5 1544V1549M684.5 1537V1546M685.5 1539V1548M686.5 1523V1559M687.5 1526V1559M688.5 1534V1549M689.5 1531V1559M690.5 1556V1559M691.5 1546V1558M692.5 1540V1552M693.5 1540V1553M694.5 1537V1553M695.5 1544V1558M696.5 1545V1558M697.5 1545V1568M698.5 1550V1568M699.5 1539V1550M700.5 1539V1552M701.5 1535V1553M702.5 1535V1537M703.5 1537V1543M704.5 1537V1547M705.5 1529V1542M706.5 1529V1551M707.5 1533V1551M708.5 1533V1572M709.5 1527V1552M710.5 1527V1550M711.5 1547V1550M712.5 1541V1550M713.5 1539V1546M714.5 1541V1546M715.5 1542V1552M716.5 1543V1558M717.5 1545V1558M718.5 1545V1556M719.5 1532V1552M720.5 1532V1552M721.5 1544V1554M722.5 1538V1554M723.5 1544V1567M724.5 1555V1567M725.5 1541V1563M726.5 1541V1555M727.5 1531V1555M728.5 1531V1558M729.5 1535V1545M730.5 1535V1557M731.5 1533V1557M732.5 1539V1552M733.5 1547V1563M734.5 1529V1556M735.5 1521V1540M736.5 1521V1557M737.5 1534V1551M738.5 1533V1534M739.5 1534V1541M740.5 1527V1545M741.5 1526V1550M742.5 1526V1533M743.5 1533V1562M744.5 1532V1562M745.5 1532V1572M746.5 1528V1553M747.5 1528V1549M748.5 1528V1554M749.5 1537V1554M750.5 1537V1559M751.5 1550V1559M752.5 1545V1554M753.5 1539V1549M754.5 1544V1555M755.5 1537V1544M756.5 1537V1560M757.5 1548V1554M758.5 1548V1550M759.5 1548V1557M760.5 1548V1555M761.5 1542V1559M762.5 1559V1563M763.5 1541V1563M764.5 1529V1548M765.5 1540V1560M766.5 1536V1560M767.5 1536V1557M768.5 1544V1561M769.5 1544V1555M770.5 1535V1571M771.5 1535V1571M772.5 1546V1553M773.5 1553V1560M774.5 1535V1560M775.5 1528V1551M776.5 1541V1552M777.5 1531V1552M778.5 1537V1555M779.5 1543V1555M780.5 1542V1543M781.5 1542V1573M782.5 1532V1573M783.5 1532V1543M784.5 1537V1569M785.5 1549V1569M786.5 1546V1551M787.5 1537V1546M788.5 1531V1558M789.5 1531V1570M790.5 1547V1570M791.5 1544V1558M792.5 1526V1544M793.5 1539V1562M794.5 1543V1562M795.5 1526V1562M796.5 1526V1562M797.5 1543V1562M798.5 1543V1554M799.5 1545V1571M800.5 1551V1558M801.5 1551V1557M802.5 1542V1553M803.5 1542V1545M804.5 1545V1554M805.5 1544V1560M806.5 1525V1548M807.5 1525V1539M808.5 1539V1547M809.5 1541V1549M810.5 1541V1549M811.5 1539V1547M812.5 1539V1547M813.5 1531V1543M814.5 1531V1558M815.5 1537V1555M816.5 1541V1545M817.5 1527V1545M818.5 1527V1553M819.5 1528V1547M820.5 1537V1556M821.5 1544V1556M822.5 1544V1556M823.5 1530V1549M824.5 1527V1555M825.5 1526V1557M826.5 1526V1557M827.5 1554V1557M828.5 1530V1557M829.5 1541V1544M830.5 1539V1548M831.5 1535V1548M832.5 1535V1542M833.5 1542V1545M834.5 1529V1546M835.5 1546V1561M836.5 1540V1561M837.5 1540V1558M838.5 1544V1558M839.5 1543V1547M840.5 1532V1548M841.5 1532V1552M842.5 1535V1555M843.5 1539V1555M844.5 1539V1563M845.5 1557V1560M846.5 1548V1557M847.5 1532V1548M848.5 1537V1557M849.5 1554V1571M850.5 1544V1560M851.5 1544V1560M852.5 1544V1558M853.5 1550V1559M854.5 1536V1555M855.5 1537V1555M856.5 1536V1541M857.5 1536V1564M858.5 1537V1564M859.5 1531V1546M860.5 1538V1548M861.5 1546V1548M862.5 1540V1562M863.5 1541V1562M864.5 1541V1544M865.5 1540V1547M866.5 1540V1556M867.5 1546V1556M868.5 1541V1560M869.5 1543V1560M870.5 1538V1552M871.5 1529V1540M872.5 1537V1541M873.5 1541V1546M874.5 1541V1564M875.5 1534V1564M876.5 1538V1556M877.5 1538V1567M878.5 1550V1560M879.5 1547V1553M880.5 1541V1558M881.5 1542V1558M882.5 1531V1558M883.5 1537V1558M884.5 1537V1561M885.5 1530V1555M886.5 1526V1555M887.5 1526V1543M888.5 1526V1569M889.5 1547V1569M890.5 1543V1548M891.5 1536V1548M892.5 1542V1557M893.5 1542V1547M894.5 1542V1564M895.5 1549V1557M896.5 1548V1553M897.5 1521V1573M898.5 1521V1545M899.5 1528V1554M900.5 1528V1548M901.5 1524V1550M902.5 1534V1567M903.5 1522V1551M904.5 1540V1566M905.5 1536V1566M906.5 1536V1557M907.5 1555V1567M908.5 1544V1567M909.5 1538V1544M910.5 1538V1542M911.5 1519V1538M912.5 1519V1549M913.5 1527V1554M914.5 1515V1554M915.5 1539V1546M916.5 1541V1558M917.5 1547V1558M918.5 1542V1562M919.5 1539V1542M920.5 1538V1542M921.5 1529V1542M922.5 1529V1562M923.5 1550V1557M924.5 1536V1560M925.5 1535V1560M926.5 1526V1555M927.5 1526V1558M928.5 1539V1558M929.5 1539V1559M930.5 1551V1554M931.5 1551V1555M932.5 1526V1557M933.5 1526V1545M934.5 1543V1548M935.5 1548V1569M936.5 1535V1555M937.5 1539V1559M938.5 1539V1552M939.5 1544V1553M940.5 1547V1549M941.5 1541V1562M942.5 1550V1562M943.5 1550V1564M944.5 1548V1552M945.5 1540V1551M946.5 1540V1567M947.5 1540V1560M948.5 1536V1552M949.5 1539V1546M950.5 1537V1555M951.5 1534V1537M952.5 1534V1561M953.5 1548V1549M954.5 1534V1563M955.5 1523V1563M956.5 1523V1553M957.5 1536V1555M958.5 1546V1552M959.5 1539V1552M960.5 1530V1539M961.5 1530V1539M962.5 1532V1536M963.5 1536V1570M964.5 1528V1560M965.5 1523V1560M966.5 1531V1541M967.5 1531V1548M968.5 1523V1555M969.5 1523V1538M970.5 1534V1551M971.5 1529V1551M972.5 1534V1550M973.5 1534V1550M974.5 1534V1535M975.5 1535V1562M976.5 1524V1562M977.5 1519V1547M978.5 1519V1547M979.5 1528V1547M980.5 1528V1562M981.5 1540V1555M982.5 1526V1555M983.5 1522V1540M984.5 1539V1544M985.5 1539V1550M986.5 1535V1550M987.5 1529V1549M988.5 1539V1560M989.5 1536V1560M990.5 1529V1548M991.5 1529V1550M992.5 1548V1553M993.5 1539V1559M994.5 1547V1559M995.5 1520V1551M996.5 1521V1541M997.5 1541V1548M998.5 1524V1548M999.5 1524V1557M1000.5 1525V1557M1001.5 1525V1538M1002.5 1526V1553M1003.5 1530V1553M1004.5 1530V1540M1005.5 1540V1560M1006.5 1543V1545M1007.5 1532V1544M1008.5 1529V1535M1009.5 1534V1538M1010.5 1534V1549M1011.5 1533V1549M1012.5 1514V1535M1013.5 1535V1550M1014.5 1513V1543M1015.5 1533V1537M1016.5 1533V1540M1017.5 1534V1540M1018.5 1535V1550M1019.5 1525V1543M1020.5 1525V1534M1021.5 1522V1545M1022.5 1522V1555M1023.5 1525V1555M1024.5 1525V1551M1025.5 1540V1550M1026.5 1538V1550M1027.5 1530V1564M1028.5 1531V1564M1029.5 1530V1554M1030.5 1549V1561M1031.5 1532V1549M1032.5 1536V1556M1033.5 1542V1556M1034.5 1542V1557M1035.5 1543V1549M1036.5 1544V1553M1037.5 1545V1556M1038.5 1514V1545M1039.5 1527V1540M1040.5 1527V1554M1041.5 1524V1554M1042.5 1523V1535M1043.5 1523V1545M1044.5 1524V1559M1045.5 1536V1559M1046.5 1521V1544M1047.5 1521V1549M1048.5 1536V1543M1049.5 1536V1543M1050.5 1521V1536M1051.5 1526V1542M1052.5 1526V1545M1053.5 1532V1543M1054.5 1527V1538M1055.5 1531V1536M1056.5 1518V1532M1057.5 1518V1541M1058.5 1527V1541M1059.5 1527V1551M1060.5 1548V1557M1061.5 1537V1557M1062.5 1547V1557M1063.5 1539V1557M1064.5 1537V1560M1065.5 1537V1550M1066.5 1533V1550M1067.5 1539V1542M1068.5 1536V1556M1069.5 1543V1556M1070.5 1529V1556M1071.5 1529V1555M1072.5 1541V1556M1073.5 1556V1559M1074.5 1539V1556M1075.5 1539V1548M1076.5 1543V1548M1077.5 1541V1551M1078.5 1541V1547M1079.5 1538V1556M1080.5 1535V1538M1081.5 1535V1552M1082.5 1541V1561M1083.5 1534V1561M1084.5 1539V1552M1085.5 1532V1539M1086.5 1527V1551M1087.5 1527V1539M1088.5 1533V1542M1089.5 1528V1537M1090.5 1528V1543M1091.5 1523V1542M1092.5 1523V1537M1093.5 1533V1538M1094.5 1534V1548M1095.5 1546V1552M1096.5 1547V1552M1097.5 1544V1552M1098.5 1535V1544M1099.5 1532V1541M1100.5 1532V1551M1101.5 1531V1551M1102.5 1529V1534M1103.5 1522V1550M1104.5 1527V1550M1105.5 1527V1536M1106.5 1525V1553M1107.5 1525V1556M1108.5 1556V1557M1109.5 1534V1556M1110.5 1530V1547M1111.5 1530V1547M1112.5 1537V1549M1113.5 1531V1549M1114.5 1532V1549M1115.5 1526V1541M1116.5 1536V1541M1117.5 1535V1539M1118.5 1539V1556M1119.5 1537V1549M1120.5 1537V1551M1121.5 1531V1567M1122.5 1531V1543M1123.5 1532V1543M1124.5 1521V1540M1125.5 1520V1552M1126.5 1537V1552M1127.5 1536V1544M1128.5 1536V1560M1129.5 1539V1548M1130.5 1521V1543M1131.5 1532V1543M1132.5 1532V1552M1133.5 1523V1545M1134.5 1518V1531M1135.5 1518V1548M1136.5 1530V1562M1137.5 1524V1562M1138.5 1512V1539M1139.5 1513V1540M1140.5 1537V1558M1141.5 1527V1550M1142.5 1527V1551M1143.5 1536V1551M1144.5 1538V1551M1145.5 1523V1538M1146.5 1516V1546M1147.5 1538V1552M1148.5 1512V1539M1149.5 1512V1547M1150.5 1519V1557M1151.5 1526V1557M1152.5 1525V1537M1153.5 1537V1547M1154.5 1535V1540M1155.5 1516V1542M1156.5 1513V1548M1157.5 1509V1548M1158.5 1509V1532M1159.5 1530V1547M1160.5 1521V1547M1161.5 1518V1557M1162.5 1515V1557M1163.5 1515V1542M1164.5 1520V1541M1165.5 1529V1543M1166.5 1529V1545M1167.5 1529V1545M1168.5 1529V1534M1169.5 1530V1534M1170.5 1530V1534M1171.5 1533V1534M1172.5 1522V1541M1173.5 1522V1529M1174.5 1526V1541M1175.5 1535V1541M1176.5 1533V1542M1177.5 1542V1546M1178.5 1534V1546M1179.5 1518V1537M1180.5 1528V1560M1181.5 1528V1547M1182.5 1516V1543M1183.5 1516V1551M1184.5 1544V1551M1185.5 1532V1544M1186.5 1524V1546M1187.5 1541V1546M1188.5 1544V1570M1189.5 1527V1567M1190.5 1536V1540M1191.5 1524V1562M1192.5 1524V1551M1193.5 1529V1554M1194.5 1535V1554M1195.5 1533V1543M1196.5 1533V1555M1197.5 1508V1555M1198.5 1513V1547M1199.5 1515V1544M1200.5 1525V1539M1201.5 1525V1531M1202.5 1516V1540M1203.5 1531V1540M1204.5 1505V1540M1205.5 1505V1531M1206.5 1528V1539M1207.5 1522V1528M1208.5 1522V1544M1209.5 1532V1553M1210.5 1532V1537M1211.5 1529V1537M1212.5 1519V1537M1213.5 1524V1537M1214.5 1508V1526M1215.5 1519V1537M1216.5 1518V1537M1217.5 1522V1533M1218.5 1527V1539M1219.5 1530V1539M1220.5 1526V1539M1221.5 1526V1544M1222.5 1532V1538M1223.5 1526V1537M1224.5 1526V1538M1225.5 1531V1535M1226.5 1530V1539M1227.5 1525V1551M1228.5 1517V1531M1229.5 1517V1534M1230.5 1520V1538M1231.5 1520V1534M1232.5 1534V1567M1233.5 1525V1536M1234.5 1506V1529M1235.5 1506V1525M1236.5 1524V1528M1237.5 1527V1556M1238.5 1510V1543M1239.5 1510V1551M1240.5 1521V1529M1241.5 1529V1547M1242.5 1531V1547M1243.5 1536V1548M1244.5 1528V1548M1245.5 1514V1528M1246.5 1495V1519M1247.5 1495V1542M1248.5 1521V1539M1249.5 1526V1539M1250.5 1523V1533M1251.5 1527V1549M1252.5 1512V1549M1253.5 1520V1537M1254.5 1527V1537M1255.5 1529V1538M1256.5 1513V1538M1257.5 1529V1546M1258.5 1523V1542M1259.5 1518V1536M1260.5 1531V1536M1261.5 1528V1535M1262.5 1528V1543M1263.5 1539V1544M1264.5 1532V1544M1265.5 1530V1538M1266.5 1511V1545M1267.5 1529V1545M1268.5 1529V1554M1269.5 1510V1529M1270.5 1510V1535M1271.5 1524V1544M1272.5 1516V1544M1273.5 1516V1528M1274.5 1528V1531M1275.5 1518V1531M1276.5 1509V1529M1277.5 1529V1548M1278.5 1514V1542M1279.5 1524V1545M1280.5 1515V1526M1281.5 1515V1552M1282.5 1519V1543M1283.5 1520V1542M1284.5 1520V1544M1285.5 1518V1520M1286.5 1518V1539M1287.5 1539V1549M1288.5 1537V1551M1289.5 1511V1537M1290.5 1517V1535M1291.5 1521V1531M1292.5 1511V1533M1293.5 1511V1532M1294.5 1532V1543M1295.5 1512V1543M1296.5 1512V1531M1297.5 1508V1531M1298.5 1508V1524M1299.5 1524V1529M1300.5 1524V1537M1301.5 1522V1537M1302.5 1508V1530M1303.5 1530V1538M1304.5 1516V1540M1305.5 1523V1548M1306.5 1530V1548M1307.5 1529V1541M1308.5 1518V1529M1309.5 1516V1541M1310.5 1507V1547M1311.5 1507V1527M1312.5 1521V1548M1313.5 1518V1523M1314.5 1518V1536M1315.5 1510V1528M1316.5 1510V1525M1317.5 1521V1549M1318.5 1528V1557M1319.5 1523V1537M1320.5 1518V1538M1321.5 1518V1536M1322.5 1523V1527M1323.5 1527V1540M1324.5 1531V1534M1325.5 1509V1545M1326.5 1524V1545M1327.5 1514V1524M1328.5 1514V1543M1329.5 1527V1543M1330.5 1494V1535M1331.5 1494V1532M1332.5 1526V1544M1333.5 1517V1544M1334.5 1517V1539M1335.5 1532V1541M1336.5 1524V1541M1337.5 1524V1535M1338.5 1533V1548M1339.5 1534V1546M1340.5 1506V1543M1341.5 1506V1541M1342.5 1524V1543M1343.5 1514V1560M1344.5 1511V1560M1345.5 1511V1550M1346.5 1508V1550M1347.5 1528V1534M1348.5 1522V1541M1349.5 1519V1522M1350.5 1519V1546M1351.5 1521V1547M1352.5 1527V1547M1353.5 1529V1535M1354.5 1531V1550M1355.5 1524V1552M1356.5 1534V1555M1357.5 1534V1553M1358.5 1512V1553M1359.5 1512V1516M1360.5 1514V1553M1361.5 1524V1553M1362.5 1524V1548M1363.5 1527V1554M1364.5 1511V1554M1365.5 1515V1530M1366.5 1529V1534M1367.5 1513V1534M1368.5 1512V1525M1369.5 1525V1534M1370.5 1530V1540M1371.5 1511V1540M1372.5 1510V1533M1373.5 1510V1562M1374.5 1521V1541M1375.5 1526V1530M1376.5 1529V1550M1377.5 1530V1540M1378.5 1537V1540M1379.5 1511V1540M1380.5 1511V1528M1381.5 1506V1546M1382.5 1510V1552M1383.5 1515V1552M1384.5 1522V1540M1385.5 1533V1545M1386.5 1502V1533M1387.5 1502V1537M1388.5 1529V1538M1389.5 1522V1549M1390.5 1522V1530M1391.5 1511V1544M1392.5 1511V1544M1393.5 1511V1535M1394.5 1516V1534M1395.5 1516V1532M1396.5 1520V1541M1397.5 1520V1533M1398.5 1528V1542M1399.5 1540V1547M1400.5 1526V1554M1401.5 1526V1547M1402.5 1527V1531M1403.5 1515V1539M1404.5 1515V1524M1405.5 1512V1524M1406.5 1512V1534M1407.5 1522V1538M1408.5 1520V1550M1409.5 1520V1545M1410.5 1523V1545M1411.5 1520V1555M1412.5 1514V1555M1413.5 1514V1535M1414.5 1519V1535M1415.5 1519V1543M1416.5 1526V1554M1417.5 1512V1554M1418.5 1519V1526M1419.5 1526V1539M1420.5 1524V1539M1421.5 1526V1551M1422.5 1515V1551M1423.5 1527V1543M1424.5 1534V1543M1425.5 1531V1551M1426.5 1522V1532M1427.5 1522V1542M1428.5 1510V1531M1429.5 1503V1533M1430.5 1533V1543M1431.5 1499V1543M1432.5 1499V1532M1433.5 1525V1536M1434.5 1515V1536M1435.5 1527V1534M1436.5 1516V1547M1437.5 1516V1534M1438.5 1530V1546M1439.5 1522V1548M1440.5 1522V1536M1441.5 1519V1537M1442.5 1533V1542M1443.5 1524V1542M1444.5 1524V1528M1445.5 1524V1538M1446.5 1524V1536M1447.5 1534V1555M1448.5 1527V1541M1449.5 1523V1539M1450.5 1519V1539M1451.5 1520V1541M1452.5 1517V1531M1453.5 1517V1525M1454.5 1519V1534M1455.5 1518V1534M1456.5 1518V1524M1457.5 1518V1546M1458.5 1518V1537M1459.5 1510V1537M1460.5 1526V1535M1461.5 1525V1535M1462.5 1519V1528M1463.5 1516V1544M1464.5 1514V1544M1465.5 1513V1536M1466.5 1513V1519M1467.5 1519V1545M1468.5 1529V1543M1469.5 1521V1529M1470.5 1521V1539M1471.5 1523V1539M1472.5 1523V1536M1473.5 1524V1536M1474.5 1512V1526M1475.5 1520V1537M1476.5 1532V1539M1477.5 1515V1539M1478.5 1523V1529M1479.5 1529V1557M1480.5 1511V1538M1481.5 1531V1553M1482.5 1538V1553M1483.5 1520V1538M1484.5 1520V1534M1485.5 1534V1554M1486.5 1526V1554M1487.5 1525V1527M1488.5 1524V1536M1489.5 1516V1524M1490.5 1522V1544M1491.5 1531V1544M1492.5 1518V1531M1493.5 1518V1548M1494.5 1532V1540M1495.5 1531V1542M1496.5 1532V1542M1497.5 1512V1540M1498.5 1534V1566M1499.5 1521V1534M1500.5 1521V1539M1501.5 1521V1527M1502.5 1517V1538M1503.5 1513V1542M1504.5 1517V1542M1505.5 1524V1535M1506.5 1524V1555M1507.5 1534V1541M1508.5 1528V1545M1509.5 1528V1540M1510.5 1540V1551M1511.5 1518V1543M1512.5 1521V1550M1513.5 1548V1553M1514.5 1545V1553M1515.5 1531V1547M1516.5 1520V1536M1517.5 1525V1536M1518.5 1525V1529M1519.5 1529V1533M1520.5 1529V1539M1521.5 1529V1559M1522.5 1530V1548M1523.5 1527V1538M1524.5 1533V1566M1525.5 1526V1536M1526.5 1536V1548M1527.5 1523V1548M1528.5 1524V1537M1529.5 1503V1571M1530.5 1503V1528M1531.5 1522V1539M1532.5 1530V1539M1533.5 1531V1546M1534.5 1523V1537M1535.5 1519V1545M1536.5 1519V1546M1537.5 1524V1559M1538.5 1529V1534M1539.5 1529V1541M1540.5 1524V1541M1541.5 1516V1537M1542.5 1518V1537M1543.5 1505V1547M1544.5 1504V1525M1545.5 1525V1542M1546.5 1529V1542M1547.5 1511V1539M1548.5 1511V1529M1549.5 1523V1556M1550.5 1522V1527M1551.5 1506V1522M1552.5 1506V1534M1553.5 1521V1531M1554.5 1519V1533M1555.5 1507V1519M1556.5 1507V1540M1557.5 1515V1540M1558.5 1522V1533M1559.5 1530V1534M1560.5 1527V1536M1561.5 1527V1548M1562.5 1527V1548M1563.5 1518V1538M1564.5 1530V1541M1565.5 1521V1532M1566.5 1521V1531M1567.5 1522V1547M1568.5 1522V1550M1569.5 1519V1538M1570.5 1519V1549M1571.5 1535V1546M1572.5 1514V1546M1573.5 1511V1544M1574.5 1511V1525M1575.5 1525V1539M1576.5 1518V1549M1577.5 1518V1546M1578.5 1520V1541M1579.5 1519V1523M1580.5 1519V1548M1581.5 1520V1536M1582.5 1508V1536M1583.5 1508V1531M1584.5 1523V1550M1585.5 1527V1550M1586.5 1527V1541M1587.5 1509V1532M1588.5 1518V1528M1589.5 1509V1553M1590.5 1526V1553M1591.5 1522V1542M1592.5 1518V1542M1593.5 1507V1545M1594.5 1515V1545M1595.5 1524V1551M1596.5 1518V1548M1597.5 1521V1548M1598.5 1495V1533M1599.5 1513V1544M1600.5 1521V1544M1601.5 1531V1544M1602.5 1516V1543M1603.5 1516V1550M1604.5 1510V1550M1605.5 1519V1536M1606.5 1510V1519M1607.5 1511V1520M1608.5 1520V1531M1609.5 1529V1541M1610.5 1506V1529M1611.5 1506V1525M1612.5 1508V1528M1613.5 1517V1536M1614.5 1517V1520M1615.5 1519V1525M1616.5 1519V1544M1617.5 1513V1546M1618.5 1510V1532M1619.5 1510V1539M1620.5 1533V1551M1621.5 1536V1551M1622.5 1529V1538M1623.5 1512V1541M1624.5 1512V1540M1625.5 1512V1544M1626.5 1527V1544M1627.5 1526V1536M1628.5 1516V1536M1629.5 1528V1550M1630.5 1528V1536M1631.5 1531V1536M1632.5 1517V1531M1633.5 1520V1543M1634.5 1521V1543M1635.5 1517V1553M1636.5 1517V1558M1637.5 1515V1558M1638.5 1515V1531M1639.5 1516V1556M1640.5 1537V1556M1641.5 1517V1537M1642.5 1525V1566M1643.5 1523V1543M1644.5 1523V1549M1645.5 1525V1549M1646.5 1517V1541M1647.5 1517V1554M1648.5 1541V1554M1649.5 1522V1544M1650.5 1522V1557M1651.5 1536V1560M1652.5 1529V1538M1653.5 1529V1548M1654.5 1531V1548M1655.5 1529V1560M1656.5 1541V1560M1657.5 1519V1549M1658.5 1519V1544M1659.5 1517V1544M1660.5 1521V1542M1661.5 1530V1542M1662.5 1517V1530M1663.5 1520V1534M1664.5 1528V1533M1665.5 1517V1533M1666.5 1517V1549M1667.5 1523V1549M1668.5 1523V1535M1669.5 1519V1535M1670.5 1534V1538M1671.5 1531V1544M1672.5 1522V1555M1673.5 1530V1555M1674.5 1510V1534M1675.5 1510V1527M1676.5 1527V1531M1677.5 1524V1534M1678.5 1497V1527M1679.5 1517V1533M1680.5 1517V1542M1681.5 1528V1542M1682.5 1501V1535M1683.5 1513V1543M1684.5 1507V1543M1685.5 1515V1532M1686.5 1532V1544M1687.5 1533V1537M1688.5 1521V1533M1689.5 1521V1540M1690.5 1530V1550M1691.5 1523V1537M1692.5 1523V1530M1693.5 1530V1540M1694.5 1539V1540M1695.5 1518V1540M1696.5 1518V1538M1697.5 1538V1542M1698.5 1542V1549M1699.5 1531V1549M1700.5 1531V1557M1701.5 1520V1557M1702.5 1520V1527M1703.5 1514V1531M1704.5 1514V1545M1705.5 1529V1547M1706.5 1534V1547M1707.5 1529V1536M1708.5 1518V1537M1709.5 1511V1537M1710.5 1511V1528M1711.5 1528V1539M1712.5 1534V1542M1713.5 1516V1538M1714.5 1516V1544M1715.5 1523V1541M1716.5 1521V1541M1717.5 1521V1534M1718.5 1529V1543M1719.5 1519V1543M1720.5 1524V1561M1721.5 1529V1548M1722.5 1517V1535M1723.5 1522V1539M1724.5 1522V1541M1725.5 1524V1538M1726.5 1524V1534M1727.5 1534V1558M1728.5 1537V1539M1729.5 1518V1539M1730.5 1518V1551M1731.5 1526V1544M1732.5 1522V1544M1733.5 1524V1536M1734.5 1507V1533M1735.5 1507V1552M1736.5 1517V1552M1737.5 1530V1546M1738.5 1525V1546M1739.5 1529V1537M1740.5 1523V1558M1741.5 1530V1558M1742.5 1508V1542M1743.5 1508V1545M1744.5 1508V1545M1745.5 1508V1544M1746.5 1512V1544M1747.5 1517V1529M1748.5 1529V1547M1749.5 1528V1532M1750.5 1523V1532M1751.5 1515V1531M1752.5 1516V1549M1753.5 1525V1563M1754.5 1525V1536M1755.5 1525V1548M1756.5 1507V1533M1757.5 1515V1541M1758.5 1528V1542M1759.5 1528V1539M1760.5 1523V1539M1761.5 1535V1550M1762.5 1511V1539M1763.5 1515V1525M1764.5 1523V1554M1765.5 1523V1532M1766.5 1518V1526M1767.5 1514V1524M1768.5 1512V1515M1769.5 1512V1534M1770.5 1530V1536M1771.5 1530V1533M1772.5 1533V1552M1773.5 1512V1552M1774.5 1516V1529M1775.5 1516V1545M1776.5 1529V1543M1777.5 1510V1543M1778.5 1510V1537M1779.5 1530V1545M1780.5 1527V1537M1781.5 1535V1547M1782.5 1518V1535M1783.5 1518V1547M1784.5 1525V1532M1785.5 1523V1549M1786.5 1536V1554M1787.5 1523V1536M1788.5 1523V1528M1789.5 1509V1529M1790.5 1509V1537M1791.5 1512V1546M1792.5 1542V1546M1793.5 1533V1548M1794.5 1537V1548M1795.5 1514V1542M1796.5 1503V1542M1797.5 1516V1550M1798.5 1516V1542M1799.5 1533V1539M1800.5 1514V1539M1801.5 1525V1533M1802.5 1511V1537M1803.5 1536V1543M1804.5 1522V1536M1805.5 1518V1525M1806.5 1510V1534M1807.5 1522V1534M1808.5 1514V1540M1809.5 1514V1526M1810.5 1516V1552M1811.5 1516V1539M1812.5 1518V1539M1813.5 1518V1533M1814.5 1496V1547M1815.5 1529V1547M1816.5 1519V1543M1817.5 1514V1543M1818.5 1514V1551M1819.5 1533V1551M1820.5 1514V1539M1821.5 1509V1539M1822.5 1509V1531M1823.5 1528V1531M1824.5 1527V1531M1825.5 1514V1530M1826.5 1530V1543M1827.5 1533V1543M1828.5 1529V1535M1829.5 1521V1535M1830.5 1525V1529M1831.5 1521V1537M1832.5 1521V1540M1833.5 1516V1533M1834.5 1533V1546M1835.5 1518V1546M1836.5 1521V1532M1837.5 1515V1555M1838.5 1515V1551M1839.5 1505V1556M1840.5 1518V1556M1841.5 1520V1542M1842.5 1497V1536M1843.5 1497V1527M1844.5 1519V1524M1845.5 1508V1524M1846.5 1518V1519M1847.5 1519V1529M1848.5 1515V1531M1849.5 1511V1531M1850.5 1511V1541M1851.5 1523V1541M1852.5 1514V1532M1853.5 1500V1527M1854.5 1500V1529M1855.5 1527V1538M1856.5 1529V1559M1857.5 1514V1559M1858.5 1518V1542M1859.5 1524V1542M1860.5 1527V1542M1861.5 1507V1539M1862.5 1510V1535M1863.5 1523V1527M1864.5 1524V1540M1865.5 1540V1546M1866.5 1510V1542M1867.5 1510V1534M1868.5 1513V1558M1869.5 1515V1558M1870.5 1511V1519M1871.5 1519V1530M1872.5 1517V1530M1873.5 1530V1554M1874.5 1522V1554M1875.5 1522V1536M1876.5 1529V1536M1877.5 1534V1536M1878.5 1525V1566M1879.5 1515V1534M1880.5 1515V1552M1881.5 1539V1557M1882.5 1528V1539M1883.5 1533V1547M1884.5 1527V1547M1885.5 1504V1530M1886.5 1504V1542M1887.5 1542V1548M1888.5 1523V1547M1889.5 1522V1525M1890.5 1525V1526M1891.5 1523V1531M1892.5 1523V1535M1893.5 1513V1537M1894.5 1513V1553M1895.5 1530V1544M1896.5 1535V1542M1897.5 1530V1539M1898.5 1533V1549M1899.5 1516V1534M1900.5 1516V1546M1901.5 1534V1547M1902.5 1533V1547M1903.5 1526V1533M1904.5 1522V1529M1905.5 1526V1536M1906.5 1526V1554M1907.5 1528V1536M1908.5 1518V1536M1909.5 1532V1536M1910.5 1518V1546M1911.5 1518V1552M1912.5 1539V1552M1913.5 1524V1544M1914.5 1518V1544M1915.5 1529V1544M1916.5 1522V1534M1917.5 1506V1534M1918.5 1504V1522M1919.5 1504V1528M1920.5 1518V1528M1921.5 1521V1535M1922.5 1521V1543M1923.5 1511V1543M1924.5 1519V1549M1925.5 1515V1526M1926.5 1515V1530M1927.5 1513V1537M1928.5 1513V1549M1929.5 1528V1547M1930.5 1532V1560M1931.5 1517V1560M1932.5 1527V1544M1933.5 1519V1544M1934.5 1535V1544M1935.5 1530V1544M1936.5 1524V1535M1937.5 1517V1554M1938.5 1517V1534M1939.5 1499V1534M1940.5 1499V1532M1941.5 1521V1538M1942.5 1518V1538M1943.5 1518V1546M1944.5 1519V1546M1945.5 1519V1538M1946.5 1525V1537M1947.5 1525V1527M1948.5 1527V1533M1949.5 1520V1529M1950.5 1520V1541M1951.5 1525V1545M1952.5 1521V1547M1953.5 1512V1537M1954.5 1512V1527M1955.5 1520V1528M1956.5 1523V1533M1957.5 1523V1533M1958.5 1522V1533M1959.5 1523V1540M1960.5 1530V1537M1961.5 1520V1533M1962.5 1508V1533M1963.5 1533V1547M1964.5 1532V1550M1965.5 1510V1532M1966.5 1510V1545M1967.5 1534V1545M1968.5 1524V1534M1969.5 1517V1534M1970.5 1517V1548M1971.5 1528V1548M1972.5 1528V1554M1973.5 1488V1553M1974.5 1521V1553M1975.5 1539V1553M1976.5 1513V1541M1977.5 1513V1547M1978.5 1529V1541M1979.5 1510V1541M1980.5 1510V1531M1981.5 1515V1531M1982.5 1522V1530M1983.5 1528V1530M1984.5 1523V1529M1985.5 1512V1539M1986.5 1512V1539M1987.5 1492V1537M1988.5 1492V1528M1989.5 1520V1536M1990.5 1520V1529M1991.5 1524V1543M1992.5 1533V1543M1993.5 1516V1533M1994.5 1516V1540M1995.5 1528V1535M1996.5 1519V1545M1997.5 1534V1545M1998.5 1508V1544M1999.5 1522V1539M2000.5 1521V1539M2001.5 1518V1549" fill="none" stroke="#848484" stroke-width="1.0"/>
<path d="M244.5 1555V1556M245.5 1547V1555M246.5 1529V1554M247.5 1529V1564M248.5 1527V1552M249.5 1537V1551M250.5 1550V1560M251.5 1543V1552M252.5 1546V1552M253.5 1536V1550M254.5 1536V1561M255.5 1543V1550M256.5 1543V1546M257.5 1546V1561M258.5 1544V1561M259.5 1544V1576M260.5 1545V1559M261.5 1545V1556M262.5 1534V1556M263.5 1543V1574M264.5 1541V1574M265.5 1539V1560M266.5 1543V1560M267.5 1547V1569M268.5 1543V1551M269.5 1543V1563M270.5 1537V1563M271.5 1537V1564M272.5 1539V1564M273.5 1539V1558M274.5 1550V1558M275.5 1546V1552M276.5 1537V1546M277.5 1534V1539M278.5 1534V1555M279.5 1551V1555M280.5 1543V1554M281.5 1543V1552M282.5 1530V1548M283.5 1530V1554M284.5 1542V1554M285.5 1534V1543M286.5 1543V1563M287.5 1544V1560M288.5 1545V1560M289.5 1545V1556M290.5 1541V1556M291.5 1541V1547M292.5 1542V1549M293.5 1547V1556M294.5 1540V1556M295.5 1542V1548M296.5 1542V1555M297.5 1540V1567M298.5 1550V1567M299.5 1540V1561M300.5 1547V1567M301.5 1551V1567M302.5 1543V1565M303.5 1533V1565M304.5 1531V1552M305.5 1548V1552M306.5 1549V1555M307.5 1548V1566M308.5 1546V1553M309.5 1533V1547M310.5 1542V1564M311.5 1542V1572M312.5 1555V1559M313.5 1551V1559M314.5 1544V1563M315.5 1539V1549M316.5 1539V1580M317.5 1542V1580M318.5 1534V1557M319.5 1546V1558M320.5 1546V1564M321.5 1556V1559M322.5 1548V1562M323.5 1546V1565M324.5 1541V1565M325.5 1541V1556M326.5 1548V1582M327.5 1549V1582M328.5 1542V1553M329.5 1544V1555M330.5 1555V1560M331.5 1541V1560M332.5 1541V1554M333.5 1554V1565M334.5 1544V1565M335.5 1546V1553M336.5 1546V1560M337.5 1531V1572M338.5 1531V1568M339.5 1542V1555M340.5 1555V1562M341.5 1546V1565M342.5 1546V1556M343.5 1550V1556M344.5 1550V1565M345.5 1540V1556M346.5 1550V1555M347.5 1550V1560M348.5 1555V1559M349.5 1546V1560M350.5 1546V1564M351.5 1546V1564M352.5 1546V1562M353.5 1547V1562M354.5 1548V1562M355.5 1546V1554M356.5 1542V1560M357.5 1547V1560M358.5 1537V1557M359.5 1537V1562M360.5 1547V1552M361.5 1546V1553M362.5 1549V1570M363.5 1540V1549M364.5 1548V1570M365.5 1543V1569M366.5 1539V1543M367.5 1539V1549M368.5 1533V1551M369.5 1533V1543M370.5 1543V1563M371.5 1555V1565M372.5 1543V1558M373.5 1534V1554M374.5 1534V1553M375.5 1550V1559M376.5 1542V1550M377.5 1530V1545M378.5 1533V1548M379.5 1538V1549M380.5 1535V1550M381.5 1546V1556M382.5 1556V1567M383.5 1544V1567M384.5 1544V1572M385.5 1545V1572M386.5 1550V1566M387.5 1548V1559M388.5 1549V1562M389.5 1553V1562M390.5 1537V1556M391.5 1537V1558M392.5 1550V1558M393.5 1550V1568M394.5 1549V1568M395.5 1549V1564M396.5 1538V1557M397.5 1538V1559M398.5 1544V1564M399.5 1543V1564M400.5 1543V1560M401.5 1554V1564M402.5 1552V1570M403.5 1556V1570M404.5 1550V1560M405.5 1542V1560M406.5 1556V1565M407.5 1537V1565M408.5 1537V1571M409.5 1535V1559M410.5 1539V1560M411.5 1541V1561M412.5 1538V1568M413.5 1550V1569M414.5 1550V1568M415.5 1552V1558M416.5 1552V1567M417.5 1567V1573M418.5 1560V1573M419.5 1549V1562M420.5 1550V1562M421.5 1543V1550M422.5 1540V1547M423.5 1546V1566M424.5 1549V1566M425.5 1549V1553M426.5 1553V1566M427.5 1537V1555M428.5 1537V1554M429.5 1545V1554M430.5 1545V1564M431.5 1545V1564M432.5 1559V1563M433.5 1545V1563M434.5 1557V1563M435.5 1554V1566M436.5 1542V1566M437.5 1558V1580M438.5 1540V1580M439.5 1544V1557M440.5 1548V1561M441.5 1553V1561M442.5 1543V1559M443.5 1556V1569M444.5 1563V1569M445.5 1549V1569M446.5 1542V1562M447.5 1542V1550M448.5 1550V1565M449.5 1541V1565M450.5 1553V1567M451.5 1542V1557M452.5 1551V1569M453.5 1551V1575M454.5 1548V1575M455.5 1548V1569M456.5 1555V1569M457.5 1560V1566M458.5 1561V1571M459.5 1566V1571M460.5 1550V1571M461.5 1545V1552M462.5 1547V1554M463.5 1554V1570M464.5 1562V1570M465.5 1559V1562M466.5 1550V1561M467.5 1544V1552M468.5 1552V1558M469.5 1553V1572M470.5 1558V1572M471.5 1554V1559M472.5 1544V1559M473.5 1558V1561M474.5 1538V1561M475.5 1550V1564M476.5 1538V1558M477.5 1539V1554M478.5 1547V1558M479.5 1533V1550M480.5 1529V1558M481.5 1539V1558M482.5 1538V1548M483.5 1548V1553M484.5 1548V1553M485.5 1548V1563M486.5 1553V1563M487.5 1549V1558M488.5 1539V1549M489.5 1539V1567M490.5 1541V1567M491.5 1541V1555M492.5 1545V1557M493.5 1545V1557M494.5 1549V1552M495.5 1546V1552M496.5 1545V1561M497.5 1545V1559M498.5 1557V1559M499.5 1543V1557M500.5 1543V1552M501.5 1537V1553M502.5 1553V1566M503.5 1551V1566M504.5 1546V1555M505.5 1550V1571M506.5 1546V1571M507.5 1542V1564M508.5 1542V1556M509.5 1555V1566M510.5 1548V1559M511.5 1545V1551M512.5 1544V1554M513.5 1544V1554M514.5 1542V1554M515.5 1544V1550M516.5 1544V1563M517.5 1539V1560M518.5 1539V1553M519.5 1549V1551M520.5 1545V1572M521.5 1549V1572M522.5 1546V1553M523.5 1542V1546M524.5 1542V1561M525.5 1553V1564M526.5 1535V1554M527.5 1533V1547M528.5 1547V1563M529.5 1539V1563M530.5 1539V1550M531.5 1541V1550M532.5 1544V1558M533.5 1544V1567M534.5 1554V1567M535.5 1545V1558M536.5 1536V1562M537.5 1542V1562M538.5 1542V1548M539.5 1528V1548M540.5 1535V1548M541.5 1535V1558M542.5 1534V1558M543.5 1541V1568M544.5 1545V1568M545.5 1544V1551M546.5 1546V1556M547.5 1546V1581M548.5 1551V1581M549.5 1539V1554M550.5 1539V1550M551.5 1533V1547M552.5 1533V1565M553.5 1541V1558M554.5 1540V1559M555.5 1532V1564M556.5 1532V1560M557.5 1536V1556M558.5 1536V1563M559.5 1554V1565M560.5 1547V1555M561.5 1547V1554M562.5 1542V1557M563.5 1551V1558M564.5 1553V1562M565.5 1546V1559M566.5 1550V1559M567.5 1545V1556M568.5 1545V1561M569.5 1545V1563M570.5 1558V1563M571.5 1555V1571M572.5 1555V1565M573.5 1541V1565M574.5 1552V1563M575.5 1549V1560M576.5 1555V1560M577.5 1543V1564M578.5 1543V1559M579.5 1535V1552M580.5 1528V1573M581.5 1528V1552M582.5 1546V1568M583.5 1546V1553M584.5 1553V1562M585.5 1531V1562M586.5 1531V1558M587.5 1558V1562M588.5 1546V1562M589.5 1550V1561M590.5 1553V1564M591.5 1553V1565M592.5 1540V1559M593.5 1540V1565M594.5 1549V1568M595.5 1541V1568M596.5 1541V1555M597.5 1533V1555M598.5 1533V1555M599.5 1540V1551M600.5 1548V1572M601.5 1545V1572M602.5 1535V1552M603.5 1535V1559M604.5 1552V1564M605.5 1553V1567M606.5 1543V1567M607.5 1551V1555M608.5 1547V1554M609.5 1553V1562M610.5 1552V1562M611.5 1556V1565M612.5 1544V1559M613.5 1544V1554M614.5 1544V1558M615.5 1537V1558M616.5 1543V1558M617.5 1553V1556M618.5 1534V1555M619.5 1545V1574M620.5 1555V1574M621.5 1550V1564M622.5 1544V1550M623.5 1529V1553M624.5 1529V1560M625.5 1552V1560M626.5 1546V1565M627.5 1539V1565M628.5 1539V1558M629.5 1532V1558M630.5 1532V1554M631.5 1544V1556M632.5 1544V1553M633.5 1538V1555M634.5 1538V1555M635.5 1550V1559M636.5 1550V1556M637.5 1542V1565M638.5 1540V1565M639.5 1540V1557M640.5 1542V1557M641.5 1536V1553M642.5 1540V1553M643.5 1540V1561M644.5 1525V1561M645.5 1525V1561M646.5 1528V1561M647.5 1528V1559M648.5 1539V1559M649.5 1537V1557M650.5 1545V1557M651.5 1543V1550M652.5 1521V1557M653.5 1554V1557M654.5 1541V1557M655.5 1532V1553M656.5 1531V1548M657.5 1527V1554M658.5 1545V1554M659.5 1539V1550M660.5 1534V1554M661.5 1534V1552M662.5 1534V1552M663.5 1537V1552M664.5 1542V1553M665.5 1535V1563M666.5 1539V1563M667.5 1539V1554M668.5 1540V1565M669.5 1523V1540M670.5 1523V1547M671.5 1547V1553M672.5 1544V1558M673.5 1539V1576M674.5 1542V1576M675.5 1542V1548M676.5 1543V1565M677.5 1524V1558M678.5 1539V1548M679.5 1538V1548M680.5 1535V1554M681.5 1540V1556M682.5 1533V1556M683.5 1550V1553M684.5 1538V1550M685.5 1538V1544M686.5 1539V1559M687.5 1554V1560M688.5 1543V1560M689.5 1546V1549M690.5 1543V1546M691.5 1543V1573M692.5 1558V1573M693.5 1543V1558M694.5 1543V1556M695.5 1548V1554M696.5 1538V1570M697.5 1538V1549M698.5 1546V1565M699.5 1557V1567M700.5 1542V1561M701.5 1534V1561M702.5 1534V1557M703.5 1550V1559M704.5 1541V1565M705.5 1541V1556M706.5 1552V1556M707.5 1545V1566M708.5 1545V1570M709.5 1553V1570M710.5 1547V1571M711.5 1527V1547M712.5 1527V1553M713.5 1548V1559M714.5 1557V1566M715.5 1538V1557M716.5 1538V1555M717.5 1541V1564M718.5 1530V1543M719.5 1530V1561M720.5 1551V1563M721.5 1541V1555M722.5 1543V1555M723.5 1543V1575M724.5 1543V1551M725.5 1543V1558M726.5 1543V1562M727.5 1543V1562M728.5 1535V1543M729.5 1530V1554M730.5 1538V1554M731.5 1542V1559M732.5 1538V1556M733.5 1543V1556M734.5 1543V1568M735.5 1545V1552M736.5 1551V1552M737.5 1546V1551M738.5 1545V1553M739.5 1545V1557M740.5 1547V1557M741.5 1543V1564M742.5 1534V1564M743.5 1535V1553M744.5 1535V1564M745.5 1546V1564M746.5 1546V1553M747.5 1537V1560M748.5 1531V1560M749.5 1542V1551M750.5 1542V1554M751.5 1544V1563M752.5 1557V1566M753.5 1543V1557M754.5 1534V1572M755.5 1555V1572M756.5 1531V1562M757.5 1550V1562M758.5 1524V1551M759.5 1524V1556M760.5 1546V1560M761.5 1550V1563M762.5 1545V1561M763.5 1545V1546M764.5 1545V1563M765.5 1545V1563M766.5 1538V1555M767.5 1538V1562M768.5 1562V1567M769.5 1545V1567M770.5 1554V1563M771.5 1548V1563M772.5 1539V1554M773.5 1543V1571M774.5 1558V1574M775.5 1549V1574M776.5 1532V1549M777.5 1532V1573M778.5 1549V1573M779.5 1545V1552M780.5 1547V1565M781.5 1545V1565M782.5 1529V1554M783.5 1545V1565M784.5 1551V1571M785.5 1551V1571M786.5 1551V1552M787.5 1536V1551M788.5 1551V1564M789.5 1548V1564M790.5 1535V1562M791.5 1535V1558M792.5 1552V1558M793.5 1537V1553M794.5 1537V1562M795.5 1547V1562M796.5 1539V1559M797.5 1539V1559M798.5 1542V1555M799.5 1542V1555M800.5 1542V1552M801.5 1542V1556M802.5 1543V1547M803.5 1538V1552M804.5 1545V1563M805.5 1548V1563M806.5 1543V1548M807.5 1539V1549M808.5 1539V1557M809.5 1542V1557M810.5 1546V1553M811.5 1534V1546M812.5 1539V1546M813.5 1539V1563M814.5 1545V1563M815.5 1540V1552M816.5 1545V1552M817.5 1535V1550M818.5 1535V1552M819.5 1546V1554M820.5 1546V1553M821.5 1536V1553M822.5 1536V1571M823.5 1551V1571M824.5 1552V1554M825.5 1545V1552M826.5 1545V1554M827.5 1549V1559M828.5 1544V1559M829.5 1532V1544M830.5 1532V1557M831.5 1537V1557M832.5 1542V1557M833.5 1539V1557M834.5 1539V1555M835.5 1548V1556M836.5 1546V1550M837.5 1546V1555M838.5 1545V1555M839.5 1540V1559M840.5 1536V1545M841.5 1545V1571M842.5 1552V1571M843.5 1560V1566M844.5 1544V1566M845.5 1544V1563M846.5 1554V1563M847.5 1532V1560M848.5 1540V1551M849.5 1544V1560M850.5 1560V1570M851.5 1533V1570M852.5 1536V1554M853.5 1554V1558M854.5 1547V1557M855.5 1546V1565M856.5 1544V1566M857.5 1544V1566M858.5 1545V1552M859.5 1545V1553M860.5 1548V1563M861.5 1540V1563M862.5 1540V1549M863.5 1522V1557M864.5 1522V1555M865.5 1546V1563M866.5 1544V1563M867.5 1544V1554M868.5 1554V1557M869.5 1555V1572M870.5 1544V1572M871.5 1544V1571M872.5 1538V1571M873.5 1550V1555M874.5 1539V1553M875.5 1539V1548M876.5 1542V1559M877.5 1539V1564M878.5 1539V1552M879.5 1544V1559M880.5 1546V1559M881.5 1546V1560M882.5 1541V1570M883.5 1541V1550M884.5 1539V1560M885.5 1530V1563M886.5 1530V1553M887.5 1545V1562M888.5 1540V1560M889.5 1540V1552M890.5 1533V1552M891.5 1533V1551M892.5 1541V1556M893.5 1532V1558M894.5 1550V1562M895.5 1540V1562M896.5 1539V1548M897.5 1523V1553M898.5 1543V1558M899.5 1539V1558M900.5 1534V1547M901.5 1532V1534M902.5 1532V1546M903.5 1527V1547M904.5 1538V1547M905.5 1525V1540M906.5 1525V1551M907.5 1541V1549M908.5 1547V1549M909.5 1549V1559M910.5 1550V1559M911.5 1543V1566M912.5 1532V1560M913.5 1532V1548M914.5 1533V1547M915.5 1545V1552M916.5 1545V1556M917.5 1530V1559M918.5 1530V1563M919.5 1539V1552M920.5 1551V1564M921.5 1538V1574M922.5 1553V1574M923.5 1549V1563M924.5 1553V1569M925.5 1549V1569M926.5 1542V1554M927.5 1542V1573M928.5 1542V1562M929.5 1534V1555M930.5 1550V1555M931.5 1555V1566M932.5 1539V1563M933.5 1539V1555M934.5 1545V1555M935.5 1546V1567M936.5 1553V1565M937.5 1554V1566M938.5 1553V1563M939.5 1541V1563M940.5 1541V1570M941.5 1539V1570M942.5 1539V1563M943.5 1552V1558M944.5 1546V1573M945.5 1546V1563M946.5 1540V1563M947.5 1542V1564M948.5 1542V1555M949.5 1555V1565M950.5 1539V1559M951.5 1540V1568M952.5 1544V1568M953.5 1548V1557M954.5 1556V1565M955.5 1545V1565M956.5 1545V1560M957.5 1553V1560M958.5 1542V1556M959.5 1532V1552M960.5 1532V1558M961.5 1532V1558M962.5 1536V1548M963.5 1548V1564M964.5 1545V1551M965.5 1546V1554M966.5 1534V1554M967.5 1534V1536M968.5 1534V1553M969.5 1535V1556M970.5 1528V1550M971.5 1550V1557M972.5 1535V1550M973.5 1548V1575M974.5 1540V1575M975.5 1547V1557M976.5 1549V1563M977.5 1540V1550M978.5 1535V1553M979.5 1531V1553M980.5 1538V1551M981.5 1528V1551M982.5 1547V1548M983.5 1544V1553M984.5 1541V1559M985.5 1537V1543M986.5 1534V1543M987.5 1540V1552M988.5 1533V1552M989.5 1533V1554M990.5 1552V1555M991.5 1555V1563M992.5 1518V1557M993.5 1518V1552M994.5 1544V1552M995.5 1546V1554M996.5 1546V1556M997.5 1544V1556M998.5 1544V1555M999.5 1545V1551M1000.5 1529V1548M1001.5 1529V1563M1002.5 1563V1570M1003.5 1530V1564M1004.5 1530V1556M1005.5 1556V1564M1006.5 1547V1559M1007.5 1548V1559M1008.5 1533V1551M1009.5 1537V1559M1010.5 1530V1548M1011.5 1530V1555M1012.5 1541V1555M1013.5 1540V1555M1014.5 1540V1553M1015.5 1541V1560M1016.5 1536V1554M1017.5 1536V1538M1018.5 1538V1562M1019.5 1529V1562M1020.5 1529V1550M1021.5 1546V1560M1022.5 1536V1550M1023.5 1532V1551M1024.5 1532V1542M1025.5 1535V1544M1026.5 1532V1548M1027.5 1529V1532M1028.5 1530V1569M1029.5 1551V1569M1030.5 1540V1551M1031.5 1541V1559M1032.5 1559V1566M1033.5 1537V1561M1034.5 1535V1545M1035.5 1545V1548M1036.5 1540V1548M1037.5 1518V1551M1038.5 1549V1565M1039.5 1549V1559M1040.5 1518V1553M1041.5 1518V1547M1042.5 1536V1547M1043.5 1536V1554M1044.5 1518V1548M1045.5 1518V1555M1046.5 1542V1551M1047.5 1532V1542M1048.5 1530V1542M1049.5 1529V1531M1050.5 1529V1550M1051.5 1530V1543M1052.5 1530V1545M1053.5 1545V1557M1054.5 1541V1549M1055.5 1532V1552M1056.5 1528V1535M1057.5 1535V1558M1058.5 1537V1558M1059.5 1537V1552M1060.5 1539V1545M1061.5 1539V1554M1062.5 1545V1554M1063.5 1545V1551M1064.5 1548V1551M1065.5 1546V1559M1066.5 1539V1559M1067.5 1539V1568M1068.5 1568V1570M1069.5 1542V1569M1070.5 1549V1555M1071.5 1544V1555M1072.5 1545V1562M1073.5 1547V1556M1074.5 1546V1564M1075.5 1543V1569M1076.5 1543V1557M1077.5 1534V1562M1078.5 1534V1562M1079.5 1552V1562M1080.5 1544V1553M1081.5 1545V1563M1082.5 1541V1563M1083.5 1541V1556M1084.5 1545V1566M1085.5 1529V1566M1086.5 1529V1565M1087.5 1545V1565M1088.5 1543V1564M1089.5 1535V1566M1090.5 1543V1566M1091.5 1533V1543M1092.5 1543V1565M1093.5 1558V1565M1094.5 1539V1559M1095.5 1539V1550M1096.5 1539V1541M1097.5 1539V1553M1098.5 1545V1553M1099.5 1551V1559M1100.5 1531V1559M1101.5 1542V1559M1102.5 1540V1547M1103.5 1518V1541M1104.5 1541V1549M1105.5 1540V1542M1106.5 1533V1546M1107.5 1533V1542M1108.5 1538V1549M1109.5 1538V1549M1110.5 1543V1564M1111.5 1533V1553M1112.5 1533V1563M1113.5 1538V1543M1114.5 1540V1541M1115.5 1528V1540M1116.5 1529V1532M1117.5 1529V1535M1118.5 1533V1554M1119.5 1547V1554M1120.5 1534V1547M1121.5 1538V1545M1122.5 1538V1555M1123.5 1532V1552M1124.5 1526V1539M1125.5 1530V1549M1126.5 1530V1536M1127.5 1532V1556M1128.5 1531V1546M1129.5 1544V1550M1130.5 1529V1558M1131.5 1537V1562M1132.5 1536V1562M1133.5 1530V1546M1134.5 1530V1554M1135.5 1541V1560M1136.5 1530V1543M1137.5 1543V1551M1138.5 1529V1550M1139.5 1543V1544M1140.5 1529V1548M1141.5 1524V1536M1142.5 1513V1541M1143.5 1513V1550M1144.5 1540V1550M1145.5 1541V1545M1146.5 1541V1544M1147.5 1528V1549M1148.5 1523V1549M1149.5 1540V1549M1150.5 1525V1561M1151.5 1541V1561M1152.5 1541V1544M1153.5 1542V1549M1154.5 1535V1549M1155.5 1540V1546M1156.5 1527V1546M1157.5 1527V1546M1158.5 1530V1532M1159.5 1530V1541M1160.5 1525V1541M1161.5 1531V1550M1162.5 1519V1550M1163.5 1519V1567M1164.5 1534V1567M1165.5 1534V1557M1166.5 1541V1557M1167.5 1528V1556M1168.5 1528V1550M1169.5 1525V1548M1170.5 1525V1545M1171.5 1525V1526M1172.5 1519V1525M1173.5 1519V1550M1174.5 1530V1535M1175.5 1530V1535M1176.5 1533V1559M1177.5 1521V1559M1178.5 1521V1557M1179.5 1524V1557M1180.5 1523V1550M1181.5 1531V1535M1182.5 1529V1544M1183.5 1532V1544M1184.5 1532V1550M1185.5 1534V1550M1186.5 1525V1540M1187.5 1525V1539M1188.5 1539V1549M1189.5 1538V1549M1190.5 1532V1550M1191.5 1531V1554M1192.5 1531V1554M1193.5 1531V1533M1194.5 1531V1553M1195.5 1544V1561M1196.5 1530V1548M1197.5 1530V1548M1198.5 1530V1557M1199.5 1536V1557M1200.5 1536V1550M1201.5 1534V1550M1202.5 1539V1550M1203.5 1539V1552M1204.5 1540V1555M1205.5 1536V1548M1206.5 1524V1543M1207.5 1524V1545M1208.5 1525V1543M1209.5 1538V1543M1210.5 1504V1538M1211.5 1528V1549M1212.5 1531V1550M1213.5 1550V1551M1214.5 1522V1551M1215.5 1534V1542M1216.5 1534V1549M1217.5 1532V1549M1218.5 1524V1542M1219.5 1530V1556M1220.5 1529V1556M1221.5 1529V1551M1222.5 1538V1556M1223.5 1505V1556M1224.5 1505V1552M1225.5 1522V1540M1226.5 1533V1546M1227.5 1536V1540M1228.5 1540V1547M1229.5 1532V1556M1230.5 1524V1556M1231.5 1511V1537M1232.5 1530V1544M1233.5 1526V1544M1234.5 1526V1570M1235.5 1533V1544M1236.5 1533V1553M1237.5 1545V1553M1238.5 1523V1547M1239.5 1529V1546M1240.5 1524V1538M1241.5 1513V1530M1242.5 1511V1544M1243.5 1542V1544M1244.5 1524V1543M1245.5 1524V1547M1246.5 1543V1547M1247.5 1529V1543M1248.5 1529V1534M1249.5 1534V1548M1250.5 1534V1548M1251.5 1539V1546M1252.5 1522V1539M1253.5 1527V1543M1254.5 1533V1549M1255.5 1539V1549M1256.5 1539V1569M1257.5 1524V1569M1258.5 1520V1548M1259.5 1520V1537M1260.5 1516V1537M1261.5 1516V1545M1262.5 1531V1539M1263.5 1521V1543M1264.5 1517V1543M1265.5 1517V1537M1266.5 1528V1547M1267.5 1528V1543M1268.5 1536V1544M1269.5 1540V1550M1270.5 1540V1552M1271.5 1532V1552M1272.5 1523V1540M1273.5 1523V1534M1274.5 1520V1533M1275.5 1516V1533M1276.5 1531V1542M1277.5 1532V1545M1278.5 1517V1532M1279.5 1517V1539M1280.5 1532V1539M1281.5 1535V1553M1282.5 1538V1553M1283.5 1542V1548M1284.5 1505V1542M1285.5 1505V1539M1286.5 1533V1539M1287.5 1533V1545M1288.5 1524V1545M1289.5 1520V1541M1290.5 1520V1546M1291.5 1525V1538M1292.5 1519V1532M1293.5 1514V1542M1294.5 1514V1534M1295.5 1520V1535M1296.5 1515V1549M1297.5 1515V1524M1298.5 1524V1538M1299.5 1518V1538M1300.5 1525V1528M1301.5 1522V1543M1302.5 1522V1538M1303.5 1531V1532M1304.5 1524V1547M1305.5 1520V1547M1306.5 1520V1539M1307.5 1511V1532M1308.5 1511V1528M1309.5 1514V1527M1310.5 1524V1534M1311.5 1509V1534M1312.5 1517V1542M1313.5 1535V1542M1314.5 1538V1552M1315.5 1544V1552M1316.5 1516V1544M1317.5 1515V1542M1318.5 1515V1545M1319.5 1545V1550M1320.5 1543V1549M1321.5 1526V1544M1322.5 1519V1538M1323.5 1515V1552M1324.5 1515V1543M1325.5 1526V1543M1326.5 1530V1551M1327.5 1531V1551M1328.5 1531V1538M1329.5 1528V1541M1330.5 1517V1537M1331.5 1523V1537M1332.5 1523V1548M1333.5 1523V1544M1334.5 1524V1530M1335.5 1529V1547M1336.5 1529V1537M1337.5 1532V1549M1338.5 1538V1549M1339.5 1528V1538M1340.5 1528V1564M1341.5 1514V1540M1342.5 1514V1554M1343.5 1521V1554M1344.5 1536V1549M1345.5 1536V1543M1346.5 1526V1558M1347.5 1526V1532M1348.5 1529V1551M1349.5 1547V1551M1350.5 1540V1550M1351.5 1528V1540M1352.5 1532V1543M1353.5 1537V1543M1354.5 1531V1556M1355.5 1532V1558M1356.5 1530V1558M1357.5 1519V1553M1358.5 1519V1550M1359.5 1523V1551M1360.5 1537V1551M1361.5 1534V1544M1362.5 1526V1541M1363.5 1515V1541M1364.5 1533V1543M1365.5 1534V1550M1366.5 1529V1550M1367.5 1507V1529M1368.5 1507V1545M1369.5 1522V1545M1370.5 1525V1535M1371.5 1525V1544M1372.5 1525V1557M1373.5 1522V1529M1374.5 1517V1553M1375.5 1517V1546M1376.5 1532V1537M1377.5 1522V1546M1378.5 1522V1539M1379.5 1534V1542M1380.5 1534V1556M1381.5 1540V1556M1382.5 1536V1544M1383.5 1532V1544M1384.5 1527V1553M1385.5 1528V1553M1386.5 1517V1540M1387.5 1517V1552M1388.5 1533V1539M1389.5 1533V1547M1390.5 1540V1552M1391.5 1534V1552M1392.5 1516V1540M1393.5 1516V1545M1394.5 1533V1545M1395.5 1521V1543M1396.5 1521V1554M1397.5 1529V1555M1398.5 1525V1555M1399.5 1525V1538M1400.5 1538V1546M1401.5 1537V1545M1402.5 1528V1552M1403.5 1525V1552M1404.5 1525V1542M1405.5 1529V1541M1406.5 1532V1547M1407.5 1529V1536M1408.5 1531V1538M1409.5 1531V1550M1410.5 1521V1550M1411.5 1521V1532M1412.5 1516V1545M1413.5 1518V1545M1414.5 1526V1554M1415.5 1535V1556M1416.5 1528V1538M1417.5 1524V1553M1418.5 1524V1548M1419.5 1520V1551M1420.5 1540V1551M1421.5 1535V1540M1422.5 1512V1535M1423.5 1512V1532M1424.5 1521V1532M1425.5 1526V1538M1426.5 1526V1545M1427.5 1533V1537M1428.5 1532V1537M1429.5 1532V1551M1430.5 1522V1551M1431.5 1537V1544M1432.5 1526V1540M1433.5 1526V1542M1434.5 1531V1542M1435.5 1531V1551M1436.5 1513V1551M1437.5 1513V1548M1438.5 1524V1545M1439.5 1540V1548M1440.5 1540V1541M1441.5 1526V1541M1442.5 1524V1529M1443.5 1529V1543M1444.5 1531V1540M1445.5 1517V1543M1446.5 1528V1543M1447.5 1539V1546M1448.5 1526V1545M1449.5 1526V1560M1450.5 1528V1564M1451.5 1527V1557M1452.5 1527V1553M1453.5 1508V1553M1454.5 1532V1539M1455.5 1532V1553M1456.5 1522V1553M1457.5 1529V1541M1458.5 1524V1540M1459.5 1526V1533M1460.5 1521V1543M1461.5 1529V1547M1462.5 1533V1547M1463.5 1533V1536M1464.5 1516V1551M1465.5 1523V1551M1466.5 1523V1533M1467.5 1523V1549M1468.5 1538V1563M1469.5 1527V1538M1470.5 1525V1532M1471.5 1525V1554M1472.5 1523V1531M1473.5 1523V1542M1474.5 1532V1556M1475.5 1526V1560M1476.5 1524V1526M1477.5 1524V1567M1478.5 1531V1567M1479.5 1531V1539M1480.5 1499V1546M1481.5 1525V1562M1482.5 1519V1562M1483.5 1515V1532M1484.5 1532V1560M1485.5 1524V1560M1486.5 1524V1542M1487.5 1521V1540M1488.5 1516V1548M1489.5 1524V1548M1490.5 1522V1555M1491.5 1522V1555M1492.5 1537V1551M1493.5 1537V1552M1494.5 1520V1552M1495.5 1537V1543M1496.5 1535V1555M1497.5 1530V1555M1498.5 1541V1550M1499.5 1536V1545M1500.5 1532V1546M1501.5 1522V1546M1502.5 1536V1540M1503.5 1529V1544M1504.5 1527V1531M1505.5 1527V1535M1506.5 1532V1535M1507.5 1520V1538M1508.5 1525V1538M1509.5 1525V1544M1510.5 1523V1543M1511.5 1523V1563M1512.5 1533V1550M1513.5 1531V1550M1514.5 1525V1549M1515.5 1534V1549M1516.5 1540V1544M1517.5 1508V1547M1518.5 1508V1555M1519.5 1530V1555M1520.5 1530V1550M1521.5 1540V1550M1522.5 1540V1555M1523.5 1520V1555M1524.5 1520V1536M1525.5 1522V1551M1526.5 1516V1526M1527.5 1526V1553M1528.5 1535V1553M1529.5 1531V1537M1530.5 1531V1550M1531.5 1520V1550M1532.5 1522V1539M1533.5 1522V1539M1534.5 1524V1536M1535.5 1524V1532M1536.5 1532V1546M1537.5 1526V1546M1538.5 1515V1553M1539.5 1515V1530M1540.5 1528V1544M1541.5 1532V1544M1542.5 1534V1547M1543.5 1546V1559M1544.5 1535V1559M1545.5 1525V1541M1546.5 1531V1546M1547.5 1531V1545M1548.5 1531V1535M1549.5 1531V1538M1550.5 1524V1538M1551.5 1518V1538M1552.5 1518V1539M1553.5 1524V1539M1554.5 1521V1524M1555.5 1520V1533M1556.5 1527V1533M1557.5 1519V1537M1558.5 1537V1538M1559.5 1524V1538M1560.5 1524V1534M1561.5 1532V1540M1562.5 1522V1536M1563.5 1522V1527M1564.5 1524V1557M1565.5 1532V1552M1566.5 1524V1538M1567.5 1524V1537M1568.5 1523V1546M1569.5 1523V1543M1570.5 1541V1552M1571.5 1524V1552M1572.5 1515V1531M1573.5 1519V1525M1574.5 1525V1541M1575.5 1516V1539M1576.5 1522V1551M1577.5 1519V1540M1578.5 1519V1562M1579.5 1531V1562M1580.5 1532V1539M1581.5 1520V1539M1582.5 1520V1548M1583.5 1521V1545M1584.5 1544V1547M1585.5 1544V1558M1586.5 1523V1558M1587.5 1523V1542M1588.5 1532V1544M1589.5 1522V1547M1590.5 1522V1537M1591.5 1518V1530M1592.5 1518V1542M1593.5 1533V1539M1594.5 1534V1557M1595.5 1528V1554M1596.5 1532V1554M1597.5 1532V1544M1598.5 1521V1540M1599.5 1521V1544M1600.5 1517V1532M1601.5 1505V1531M1602.5 1531V1535M1603.5 1518V1532M1604.5 1518V1553M1605.5 1534V1553M1606.5 1538V1561M1607.5 1532V1561M1608.5 1532V1547M1609.5 1523V1537M1610.5 1518V1551M1611.5 1522V1560M1612.5 1530V1560M1613.5 1515V1536M1614.5 1515V1550M1615.5 1513V1533M1616.5 1513V1537M1617.5 1516V1540M1618.5 1521V1540M1619.5 1525V1533M1620.5 1523V1533M1621.5 1526V1547M1622.5 1514V1549M1623.5 1514V1545M1624.5 1527V1545M1625.5 1535V1547M1626.5 1540V1552M1627.5 1526V1558M1628.5 1538V1558M1629.5 1534V1541M1630.5 1536V1541M1631.5 1540V1556M1632.5 1518V1556M1633.5 1518V1539M1634.5 1537V1541M1635.5 1541V1557M1636.5 1535V1557M1637.5 1535V1552M1638.5 1537V1567M1639.5 1529V1567M1640.5 1540V1547M1641.5 1532V1544M1642.5 1532V1545M1643.5 1535V1540M1644.5 1538V1544M1645.5 1535V1552M1646.5 1540V1552M1647.5 1540V1552M1648.5 1533V1552M1649.5 1527V1544M1650.5 1527V1543M1651.5 1527V1545M1652.5 1527V1554M1653.5 1532V1542M1654.5 1541V1557M1655.5 1522V1545M1656.5 1522V1533M1657.5 1523V1543M1658.5 1531V1554M1659.5 1531V1551M1660.5 1535V1551M1661.5 1530V1554M1662.5 1530V1542M1663.5 1542V1558M1664.5 1539V1558M1665.5 1538V1550M1666.5 1534V1550M1667.5 1534V1548M1668.5 1539V1548M1669.5 1530V1548M1670.5 1527V1540M1671.5 1527V1564M1672.5 1548V1564M1673.5 1525V1559M1674.5 1533V1545M1675.5 1538V1545M1676.5 1538V1543M1677.5 1529V1538M1678.5 1533V1546M1679.5 1545V1555M1680.5 1540V1551M1681.5 1525V1551M1682.5 1523V1534M1683.5 1523V1542M1684.5 1524V1540M1685.5 1524V1534M1686.5 1523V1541M1687.5 1541V1543M1688.5 1527V1541M1689.5 1527V1541M1690.5 1530V1541M1691.5 1535V1541M1692.5 1510V1535M1693.5 1510V1533M1694.5 1532V1539M1695.5 1523V1547M1696.5 1523V1539M1697.5 1530V1539M1698.5 1530V1551M1699.5 1537V1551M1700.5 1525V1551M1701.5 1522V1537M1702.5 1517V1525M1703.5 1517V1538M1704.5 1538V1548M1705.5 1531V1548M1706.5 1545V1553M1707.5 1536V1548M1708.5 1530V1540M1709.5 1530V1541M1710.5 1539V1547M1711.5 1527V1551M1712.5 1527V1549M1713.5 1530V1549M1714.5 1513V1535M1715.5 1513V1542M1716.5 1526V1551M1717.5 1526V1553M1718.5 1534V1553M1719.5 1523V1540M1720.5 1528V1540M1721.5 1525V1548M1722.5 1525V1548M1723.5 1536V1540M1724.5 1538V1560M1725.5 1520V1541M1726.5 1530V1551M1727.5 1535V1551M1728.5 1511V1559M1729.5 1511V1539M1730.5 1537V1539M1731.5 1533V1539M1732.5 1529V1540M1733.5 1532V1540M1734.5 1528V1537M1735.5 1524V1550M1736.5 1524V1550M1737.5 1532V1551M1738.5 1532V1553M1739.5 1529V1553M1740.5 1529V1546M1741.5 1524V1534M1742.5 1531V1575M1743.5 1531V1575M1744.5 1531V1543M1745.5 1524V1547M1746.5 1534V1547M1747.5 1522V1567M1748.5 1522V1542M1749.5 1524V1534M1750.5 1533V1538M1751.5 1535V1544M1752.5 1538V1544M1753.5 1529V1538M1754.5 1529V1541M1755.5 1530V1541M1756.5 1530V1544M1757.5 1541V1549M1758.5 1520V1543M1759.5 1520V1550M1760.5 1534V1550M1761.5 1521V1545M1762.5 1521V1545M1763.5 1518V1536M1764.5 1518V1524M1765.5 1522V1535M1766.5 1522V1541M1767.5 1519V1535M1768.5 1519V1552M1769.5 1546V1557M1770.5 1520V1546M1771.5 1519V1545M1772.5 1519V1549M1773.5 1535V1549M1774.5 1506V1541M1775.5 1534V1539M1776.5 1539V1545M1777.5 1538V1542M1778.5 1536V1542M1779.5 1536V1538M1780.5 1528V1544M1781.5 1516V1544M1782.5 1542V1556M1783.5 1525V1545M1784.5 1525V1534M1785.5 1529V1539M1786.5 1520V1540M1787.5 1533V1544M1788.5 1513V1533M1789.5 1513V1549M1790.5 1533V1549M1791.5 1533V1544M1792.5 1532V1537M1793.5 1519V1556M1794.5 1519V1551M1795.5 1549V1561M1796.5 1526V1561M1797.5 1526V1546M1798.5 1543V1546M1799.5 1529V1543M1800.5 1522V1529M1801.5 1527V1548M1802.5 1524V1547M1803.5 1511V1547M1804.5 1527V1540M1805.5 1534V1546M1806.5 1532V1542M1807.5 1533V1542M1808.5 1526V1545M1809.5 1524V1559M1810.5 1537V1559M1811.5 1529V1541M1812.5 1529V1550M1813.5 1512V1531M1814.5 1512V1563M1815.5 1527V1548M1816.5 1537V1544M1817.5 1516V1544M1818.5 1520V1540M1819.5 1527V1540M1820.5 1527V1546M1821.5 1532V1550M1822.5 1538V1550M1823.5 1527V1554M1824.5 1521V1554M1825.5 1536V1553M1826.5 1533V1539M1827.5 1529V1540M1828.5 1529V1541M1829.5 1530V1547M1830.5 1519V1540M1831.5 1528V1546M1832.5 1517V1546M1833.5 1530V1549M1834.5 1518V1549M1835.5 1534V1542M1836.5 1520V1544M1837.5 1517V1524M1838.5 1524V1546M1839.5 1535V1552M1840.5 1524V1541M1841.5 1530V1541M1842.5 1521V1530M1843.5 1521V1530M1844.5 1530V1540M1845.5 1521V1544M1846.5 1521V1541M1847.5 1538V1541M1848.5 1524V1540M1849.5 1519V1530M1850.5 1530V1555M1851.5 1529V1556M1852.5 1521V1556M1853.5 1537V1543M1854.5 1533V1542M1855.5 1524V1538M1856.5 1524V1543M1857.5 1542V1546M1858.5 1518V1546M1859.5 1522V1540M1860.5 1515V1540M1861.5 1528V1551M1862.5 1526V1551M1863.5 1521V1526M1864.5 1524V1533M1865.5 1533V1552M1866.5 1534V1536M1867.5 1534V1539M1868.5 1539V1554M1869.5 1532V1554M1870.5 1532V1545M1871.5 1535V1555M1872.5 1528V1542M1873.5 1528V1535M1874.5 1534V1535M1875.5 1534V1548M1876.5 1534V1559M1877.5 1534V1559M1878.5 1539V1548M1879.5 1538V1543M1880.5 1524V1542M1881.5 1533V1567M1882.5 1545V1556M1883.5 1531V1556M1884.5 1516V1543M1885.5 1516V1544M1886.5 1533V1542M1887.5 1533V1548M1888.5 1527V1547M1889.5 1526V1546M1890.5 1534V1546M1891.5 1517V1551M1892.5 1517V1551M1893.5 1533V1551M1894.5 1533V1541M1895.5 1520V1544M1896.5 1534V1544M1897.5 1531V1547M1898.5 1546V1548M1899.5 1542V1548M1900.5 1527V1548M1901.5 1527V1552M1902.5 1527V1539M1903.5 1534V1562M1904.5 1531V1556M1905.5 1511V1546M1906.5 1511V1562M1907.5 1526V1562M1908.5 1526V1569M1909.5 1526V1569M1910.5 1517V1543M1911.5 1517V1537M1912.5 1523V1532M1913.5 1523V1532M1914.5 1522V1535M1915.5 1515V1535M1916.5 1515V1542M1917.5 1526V1544M1918.5 1517V1539M1919.5 1522V1533M1920.5 1527V1539M1921.5 1526V1539M1922.5 1531V1542M1923.5 1540V1547M1924.5 1534V1540M1925.5 1534V1553M1926.5 1531V1553M1927.5 1526V1547M1928.5 1535V1547M1929.5 1532V1539M1930.5 1510V1532M1931.5 1527V1544M1932.5 1519V1541M1933.5 1519V1547M1934.5 1531V1543M1935.5 1528V1541M1936.5 1528V1551M1937.5 1526V1532M1938.5 1525V1548M1939.5 1525V1544M1940.5 1542V1551M1941.5 1515V1551M1942.5 1515V1541M1943.5 1520V1524M1944.5 1524V1533M1945.5 1529V1546M1946.5 1525V1546M1947.5 1514V1543M1948.5 1514V1531M1949.5 1531V1539M1950.5 1525V1552M1951.5 1531V1552M1952.5 1531V1550M1953.5 1525V1550M1954.5 1525V1537M1955.5 1532V1537M1956.5 1530V1541M1957.5 1529V1569M1958.5 1525V1569M1959.5 1525V1557M1960.5 1531V1543M1961.5 1543V1563M1962.5 1521V1545M1963.5 1521V1546M1964.5 1542V1546M1965.5 1537V1552M1966.5 1514V1537M1967.5 1514V1526M1968.5 1523V1533M1969.5 1533V1540M1970.5 1533V1560M1971.5 1508V1560M1972.5 1508V1538M1973.5 1523V1543M1974.5 1519V1543M1975.5 1519V1545M1976.5 1524V1545M1977.5 1517V1542M1978.5 1517V1560M1979.5 1536V1560M1980.5 1525V1551M1981.5 1525V1535M1982.5 1525V1541M1983.5 1525V1539M1984.5 1531V1550M1985.5 1512V1558M1986.5 1512V1549M1987.5 1535V1537M1988.5 1528V1535M1989.5 1528V1539M1990.5 1513V1538M1991.5 1513V1546M1992.5 1517V1546M1993.5 1508V1517M1994.5 1508V1556M1995.5 1531V1556M1996.5 1533V1556M1997.5 1518V1536M1998.5 1518V1528M1999.5 1523V1543M2000.5 1523V1536M2001.5 1527V1545" fill="none" stroke="#6c6c6c" stroke-width="1.0"/>
</g>
<path d="M249.6,1538.2 L264.0,1541.8 L312.0,1540.6 L336.2,1544.2 L367.5,1540.6 L389.2,1546.6 L408.4,1544.2 L432.5,1543.0 L456.6,1549.0 L480.6,1539.4 L497.5,1545.4 L516.7,1540.6 L540.8,1540.6 L567.2,1547.8 L581.7,1541.8 L608.1,1545.4 L625.0,1540.6 L673.1,1538.2 L680.3,1534.6 L690.0,1545.4 L721.0,1544.2 L740.0,1540.6 L771.9,1544.6 L815.1,1540.3 L872.7,1543.2 L907.2,1538.9 L938.8,1546.0 L964.7,1538.9 L987.8,1538.9 L1045.3,1534.5 L1051.1,1530.2 L1062.6,1544.6 L1080.0,1539.8 L1099.2,1535.9 L1118.5,1534.0 L1157.0,1529.2 L1185.9,1533.0 L1214.7,1528.2 L1232.1,1530.1 L1243.6,1526.3 L1282.1,1527.3 L1299.4,1522.4 L1353.3,1530.1 L1368.7,1522.4 L1378.4,1527.3 L1407.2,1529.2 L1426.5,1526.3 L1465.0,1523.4 L1480.0,1526.3 L1495.8,1530.4 L1530.8,1527.7 L1557.8,1522.3 L1576.7,1526.3 L1611.7,1523.7 L1644.0,1531.7 L1671.0,1529.0 L1684.4,1523.7 L1697.9,1529.0 L1733.0,1527.7 L1741.0,1523.7 L1760.0,1529.0 L1778.7,1523.7 L1794.9,1530.4 L1808.4,1522.3 L1827.0,1526.3 L1862.0,1526.3 L1881.0,1529.0 L1913.0,1525.0 L1935.0,1523.7 L1975.5,1527.7 L1986.3,1522.3" fill="none" stroke="#ff1420" stroke-width="3.8" stroke-linejoin="round" stroke-linecap="round"/>
<path d="M249.6,1539.4 L264.0,1544.2 L290.0,1542.0 L336.0,1539.0 L372.0,1538.0 L403.6,1540.6 L413.2,1535.8 L427.7,1541.8 L480.6,1537.0 L673.0,1537.0 L687.5,1541.8 L721.0,1541.0 L735.7,1535.8 L743.2,1533.0 L780.0,1533.0 L815.1,1538.9 L840.0,1533.0 L880.0,1531.0 L924.5,1530.2 L950.4,1523.0 L980.0,1523.0 L1002.2,1517.3 L1016.5,1508.6 L1045.3,1505.7 L1068.3,1497.1 L1080.0,1496.5 L1099.2,1492.6 L1114.6,1490.7 L1124.3,1484.9 L1139.7,1466.6 L1168.5,1478.2 L1195.5,1477.2 L1207.0,1472.4 L1223.4,1459.9 L1235.9,1467.6 L1272.5,1459.9 L1291.7,1460.8 L1305.2,1464.7 L1316.8,1458.0 L1364.9,1458.0 L1374.5,1461.8 L1388.0,1452.2 L1401.5,1464.7 L1413.0,1453.1 L1436.1,1452.2 L1480.0,1452.2 L1522.8,1455.0 L1537.6,1446.9 L1563.2,1461.7 L1584.7,1448.2 L1617.0,1448.2 L1636.0,1455.0 L1660.0,1450.0 L1703.3,1452.3 L1716.8,1441.5 L1735.6,1453.6 L1757.2,1446.9 L1773.4,1461.7 L1800.3,1449.6 L1813.8,1461.7 L1827.0,1453.6 L1840.7,1459.0 L1854.0,1452.3 L1876.0,1451.0 L1894.6,1444.2 L1908.1,1459.0 L1935.0,1459.0 L1951.2,1449.6 L1967.0,1453.6 L1991.6,1446.9" fill="none" stroke="#7a06dc" stroke-width="3.8" stroke-linejoin="round" stroke-linecap="round"/>
<path d="M249.6,1537.0 L261.7,1531.0 L276.0,1533.4 L290.5,1529.8 L309.8,1533.4 L336.2,1534.6 L357.9,1531.5 L372.3,1538.2 L394.0,1528.6 L413.0,1532.0 L432.5,1526.2 L456.6,1530.5 L471.0,1523.8 L492.6,1520.2 L507.0,1527.4 L531.1,1520.2 L545.6,1527.4 L581.7,1516.6 L603.3,1520.2 L620.2,1514.1 L644.2,1511.7 L680.3,1494.9 L690.0,1486.5 L713.0,1487.0 L727.3,1472.7 L741.7,1478.4 L751.8,1472.7 L766.2,1454.0 L777.7,1446.8 L789.2,1442.4 L803.6,1428.0 L823.7,1413.7 L838.1,1410.8 L851.1,1400.7 L864.0,1403.6 L875.5,1373.4 L887.0,1356.1 L901.4,1347.5 L924.5,1315.8 L937.4,1320.1 L950.4,1295.7 L973.4,1269.8 L987.8,1249.6 L1010.8,1200.7 L1033.8,1177.7 L1048.2,1150.4 L1071.2,1128.8 L1082.7,1125.9 L1097.3,1114.4 L1108.8,1121.6 L1121.7,1123.0 L1133.2,1110.1 L1146.2,1087.0 L1157.7,1065.5 L1170.6,1048.2 L1182.2,1007.9 L1189.4,1009.4 L1203.7,1018.0 L1218.1,1028.1 L1229.6,1061.2 L1236.8,1089.9 L1245.5,1136.0 L1255.5,1176.3 L1269.9,1205.0 L1281.4,1242.4 L1294.4,1262.6 L1305.9,1268.3 L1318.8,1287.0 L1333.2,1294.2 L1344.7,1302.9 L1367.8,1324.5 L1379.3,1320.1 L1403.7,1344.6 L1416.7,1346.0 L1428.2,1359.0 L1439.7,1357.6 L1452.7,1374.8 L1465.6,1374.8 L1487.7,1382.2 L1501.2,1380.8 L1514.7,1394.3 L1528.1,1383.5 L1541.6,1384.9 L1565.9,1399.7 L1584.7,1403.7 L1611.7,1407.8 L1625.2,1401.0 L1649.4,1403.7 L1662.9,1411.8 L1673.7,1410.5 L1685.8,1397.0 L1699.3,1414.5 L1719.5,1410.5 L1746.4,1410.5 L1781.4,1410.5 L1797.6,1418.6 L1811.1,1409.1 L1854.2,1406.4 L1883.9,1419.9 L1908.1,1409.1 L1924.3,1405.1 L1935.0,1407.8 L1956.6,1422.6 L1975.5,1415.9 L2002.4,1418.6" fill="none" stroke="#0a70d6" stroke-width="3.8" stroke-linejoin="round" stroke-linecap="round"/>
<rect x="243.2" y="858" width="1761.0" height="733.5999999999999" fill="none" stroke="#7c7c7c" stroke-width="4"/>
<line x1="242.5" y1="1591.5" x2="242.5" y2="1610.5" stroke="#7c7c7c" stroke-width="3"/>
<line x1="330.5" y1="1591.5" x2="330.5" y2="1602.5" stroke="#7c7c7c" stroke-width="3"/>
<line x1="418.6" y1="1591.5" x2="418.6" y2="1602.5" stroke="#7c7c7c" stroke-width="3"/>
<line x1="506.6" y1="1591.5" x2="506.6" y2="1602.5" stroke="#7c7c7c" stroke-width="3"/>
<line x1="594.6" y1="1591.5" x2="594.6" y2="1610.5" stroke="#7c7c7c" stroke-width="3"/>
<line x1="682.6" y1="1591.5" x2="682.6" y2="1602.5" stroke="#7c7c7c" stroke-width="3"/>
<line x1="770.6" y1="1591.5" x2="770.6" y2="1602.5" stroke="#7c7c7c" stroke-width="3"/>
<line x1="858.7" y1="1591.5" x2="858.7" y2="1602.5" stroke="#7c7c7c" stroke-width="3"/>
<line x1="946.7" y1="1591.5" x2="946.7" y2="1610.5" stroke="#7c7c7c" stroke-width="3"/>
<line x1="1034.7" y1="1591.5" x2="1034.7" y2="1602.5" stroke="#7c7c7c" stroke-width="3"/>
<line x1="1122.8" y1="1591.5" x2="1122.8" y2="1602.5" stroke="#7c7c7c" stroke-width="3"/>
<line x1="1210.8" y1="1591.5" x2="1210.8" y2="1602.5" stroke="#7c7c7c" stroke-width="3"/>
<line x1="1298.8" y1="1591.5" x2="1298.8" y2="1610.5" stroke="#7c7c7c" stroke-width="3"/>
<line x1="1386.8" y1="1591.5" x2="1386.8" y2="1602.5" stroke="#7c7c7c" stroke-width="3"/>
<line x1="1474.8" y1="1591.5" x2="1474.8" y2="1602.5" stroke="#7c7c7c" stroke-width="3"/>
<line x1="1562.9" y1="1591.5" x2="1562.9" y2="1602.5" stroke="#7c7c7c" stroke-width="3"/>
<line x1="1650.9" y1="1591.5" x2="1650.9" y2="1610.5" stroke="#7c7c7c" stroke-width="3"/>
<line x1="1738.9" y1="1591.5" x2="1738.9" y2="1602.5" stroke="#7c7c7c" stroke-width="3"/>
<line x1="1827.0" y1="1591.5" x2="1827.0" y2="1602.5" stroke="#7c7c7c" stroke-width="3"/>
<line x1="1915.0" y1="1591.5" x2="1915.0" y2="1602.5" stroke="#7c7c7c" stroke-width="3"/>
<line x1="2003.0" y1="1591.5" x2="2003.0" y2="1610.5" stroke="#7c7c7c" stroke-width="3"/>
<text x="239.5" y="1663.0" font-size="51" fill="#1e1e1e" text-anchor="middle" >0</text>
<text x="595.0" y="1663.0" font-size="51" fill="#1e1e1e" text-anchor="middle" >2</text>
<text x="945.5" y="1663.0" font-size="51" fill="#1e1e1e" text-anchor="middle" >4</text>
<text x="1298.5" y="1663.0" font-size="51" fill="#1e1e1e" text-anchor="middle" >6</text>
<text x="1652.0" y="1663.0" font-size="51" fill="#1e1e1e" text-anchor="middle" >8</text>
<text x="2004.5" y="1663.0" font-size="51" fill="#1e1e1e" text-anchor="middle" >10</text>
<line x1="242.5" y1="1591.5" x2="223.5" y2="1591.5" stroke="#7c7c7c" stroke-width="3"/>
<line x1="242.5" y1="1554.8" x2="231.5" y2="1554.8" stroke="#7c7c7c" stroke-width="3"/>
<line x1="242.5" y1="1518.0" x2="231.5" y2="1518.0" stroke="#7c7c7c" stroke-width="3"/>
<line x1="242.5" y1="1481.2" x2="231.5" y2="1481.2" stroke="#7c7c7c" stroke-width="3"/>
<line x1="242.5" y1="1444.5" x2="231.5" y2="1444.5" stroke="#7c7c7c" stroke-width="3"/>
<line x1="242.5" y1="1407.8" x2="223.5" y2="1407.8" stroke="#7c7c7c" stroke-width="3"/>
<line x1="242.5" y1="1371.0" x2="231.5" y2="1371.0" stroke="#7c7c7c" stroke-width="3"/>
<line x1="242.5" y1="1334.2" x2="231.5" y2="1334.2" stroke="#7c7c7c" stroke-width="3"/>
<line x1="242.5" y1="1297.5" x2="231.5" y2="1297.5" stroke="#7c7c7c" stroke-width="3"/>
<line x1="242.5" y1="1260.8" x2="231.5" y2="1260.8" stroke="#7c7c7c" stroke-width="3"/>
<line x1="242.5" y1="1224.0" x2="223.5" y2="1224.0" stroke="#7c7c7c" stroke-width="3"/>
<line x1="242.5" y1="1187.2" x2="231.5" y2="1187.2" stroke="#7c7c7c" stroke-width="3"/>
<line x1="242.5" y1="1150.5" x2="231.5" y2="1150.5" stroke="#7c7c7c" stroke-width="3"/>
<line x1="242.5" y1="1113.8" x2="231.5" y2="1113.8" stroke="#7c7c7c" stroke-width="3"/>
<line x1="242.5" y1="1077.0" x2="231.5" y2="1077.0" stroke="#7c7c7c" stroke-width="3"/>
<line x1="242.5" y1="1040.2" x2="223.5" y2="1040.2" stroke="#7c7c7c" stroke-width="3"/>
<line x1="242.5" y1="1003.5" x2="231.5" y2="1003.5" stroke="#7c7c7c" stroke-width="3"/>
<line x1="242.5" y1="966.8" x2="231.5" y2="966.8" stroke="#7c7c7c" stroke-width="3"/>
<line x1="242.5" y1="930.0" x2="231.5" y2="930.0" stroke="#7c7c7c" stroke-width="3"/>
<line x1="242.5" y1="893.2" x2="231.5" y2="893.2" stroke="#7c7c7c" stroke-width="3"/>
<line x1="242.5" y1="856.5" x2="223.5" y2="856.5" stroke="#7c7c7c" stroke-width="3"/>
<text x="216.5" y="1613.0" font-size="51" fill="#1e1e1e" text-anchor="end" >0</text>
<text x="213.0" y="1429.2" font-size="51" fill="#1e1e1e" text-anchor="end" >50</text>
<text x="207.5" y="1245.5" font-size="51" fill="#1e1e1e" text-anchor="end" >100</text>
<text x="207.5" y="1061.8" font-size="51" fill="#1e1e1e" text-anchor="end" >150</text>
<text x="207.0" y="878.0" font-size="51" fill="#1e1e1e" text-anchor="end" >200</text>
<text x="1128" y="1709.4" font-size="50" fill="#1e1e1e" text-anchor="middle" textLength="362" lengthAdjust="spacing">Position, y [<tspan font-family="Liberation Serif, Times New Roman, serif" font-style="italic">μ</tspan>m]</text>
<text transform="translate(69.5,1541.5) rotate(-90)" font-size="51" fill="#1e1e1e">SPCM Intensity</text>
<text transform="translate(69.5,1184.5) rotate(-90)" font-size="51" fill="#1e1e1e">[</text>
<text transform="translate(69.5,1157.5) rotate(-90)" font-size="60" fill="#1e1e1e" font-family="Liberation Serif, Times New Roman, serif" font-style="italic">ħ</text>
<text transform="translate(69.5,1128.5) rotate(-90)" font-size="57" fill="#1e1e1e" font-family="Liberation Serif, Times New Roman, serif" font-style="italic">ω</text>
<text transform="translate(69.5,1087.5) rotate(-90)" font-size="51" fill="#1e1e1e">/10ms]</text>
<line x1="1688.6" y1="908.3" x2="1803.6" y2="908.3" stroke="#ff1420" stroke-width="4.5"/>
<text x="1824.0" y="929.8" font-size="51" fill="#111" font-style="italic">N = 1</text>
<line x1="1688.6" y1="970.4" x2="1803.6" y2="970.4" stroke="#7a06dc" stroke-width="4.5"/>
<text x="1824.0" y="991.9" font-size="51" fill="#111" font-style="italic">N = 3</text>
<line x1="1688.6" y1="1032.8" x2="1803.6" y2="1032.8" stroke="#0a70d6" stroke-width="4.5"/>
<text x="1824.0" y="1054.3" font-size="51" fill="#111" font-style="italic">N = 11</text>
<rect x="401.5" y="877.5" width="401.5" height="402.0" fill="#fff"/>
<path d="M401.5,1265.9 L431.6,1265.3 L461.7,1262.8 L481.8,1261.3 L496.9,1265.9 L506.9,1262.8 L518.9,1247.7 L532.0,1245.8 L547.0,1245.8 L557.1,1239.7 L565.1,1228.9 L572.1,1214.7 L582.2,1189.4 L591.2,1153.9 L601.2,1118.4 L605.3,1105.7 L609.3,1111.6 L614.3,1126.1 L619.3,1176.7 L624.3,1214.7 L631.4,1232.6 L642.4,1233.5 L659.5,1231.3 L672.5,1236.3 L710.7,1240.0 L732.7,1241.2 L752.8,1240.3 L772.9,1241.8 L803.0,1241.5" fill="none" stroke="#ff1420" stroke-width="4.2" stroke-linejoin="round"/>
<path d="M401.5,1260.3 L451.7,1259.1 L501.9,1260.3 L552.1,1260.9 L589.2,1260.3 L599.2,1247.7 L604.3,1231.9 L609.3,1209.7 L614.3,1196.5 L619.3,1186.9 L625.3,1181.0 L630.4,1179.8 L637.4,1182.6 L643.4,1184.4 L662.5,1185.7 L702.6,1186.3 L752.8,1186.9 L803.0,1186.9" fill="none" stroke="#7a06dc" stroke-width="4.2" stroke-linejoin="round"/>
<path d="M401.5,1261.3 L451.7,1262.2 L501.9,1261.9 L552.1,1263.4 L577.2,1262.2 L587.2,1250.5 L594.2,1225.8 L599.2,1176.4 L603.3,1108.5 L609.3,1031.3 L614.3,954.2 L618.3,903.3 L627.3,903.3 L632.4,954.2 L637.4,1000.5 L642.1,1015.9 L647.4,1000.5 L657.5,978.9 L666.5,969.6 L691.6,974.3 L706.6,981.0 L722.7,980.4 L742.8,979.5 L762.9,981.4 L782.9,979.2 L803.0,980.4" fill="none" stroke="#0a70d6" stroke-width="4.2" stroke-linejoin="round"/>
<rect x="401.5" y="877.5" width="401.5" height="402.0" fill="none" stroke="#7c7c7c" stroke-width="3.5"/>
<line x1="401.5" y1="1279.5" x2="401.5" y2="1285.5" stroke="#7c7c7c" stroke-width="2.5"/>
<line x1="501.9" y1="1279.5" x2="501.9" y2="1285.5" stroke="#7c7c7c" stroke-width="2.5"/>
<line x1="602.2" y1="1279.5" x2="602.2" y2="1285.5" stroke="#7c7c7c" stroke-width="2.5"/>
<line x1="702.6" y1="1279.5" x2="702.6" y2="1285.5" stroke="#7c7c7c" stroke-width="2.5"/>
<line x1="803.0" y1="1279.5" x2="803.0" y2="1285.5" stroke="#7c7c7c" stroke-width="2.5"/>
<text x="400.8" y="1335.0" font-size="51" fill="#1e1e1e" text-anchor="middle" >0</text>
<text x="602.3" y="1335.0" font-size="51" fill="#1e1e1e" text-anchor="middle" >20</text>
<text x="800.0" y="1335.0" font-size="51" fill="#1e1e1e" text-anchor="middle" >40</text>
<line x1="401.5" y1="1262.8" x2="395.5" y2="1262.8" stroke="#7c7c7c" stroke-width="2.5"/>
<line x1="401.5" y1="1185.7" x2="395.5" y2="1185.7" stroke="#7c7c7c" stroke-width="2.5"/>
<line x1="401.5" y1="1108.5" x2="395.5" y2="1108.5" stroke="#7c7c7c" stroke-width="2.5"/>
<line x1="401.5" y1="1031.3" x2="395.5" y2="1031.3" stroke="#7c7c7c" stroke-width="2.5"/>
<line x1="401.5" y1="954.2" x2="395.5" y2="954.2" stroke="#7c7c7c" stroke-width="2.5"/>
<text x="387.7" y="1279.0" font-size="51" fill="#1e1e1e" text-anchor="end" >0</text>
<text x="387.7" y="1127.0" font-size="51" fill="#1e1e1e" text-anchor="end" >50</text>
<text x="387.7" y="973.5" font-size="51" fill="#1e1e1e" text-anchor="end" >100</text>
<text x="602.2" y="1387.4" font-size="50" fill="#1e1e1e" text-anchor="middle" textLength="359" lengthAdjust="spacing">Position, y [<tspan font-family="Liberation Serif, Times New Roman, serif" font-style="italic">μ</tspan>m]</text>
<text transform="translate(297.7,1086.4) rotate(-90)" font-size="50" fill="#1e1e1e" text-anchor="middle">AFM height [nm]</text>
</svg>
</body></html>
